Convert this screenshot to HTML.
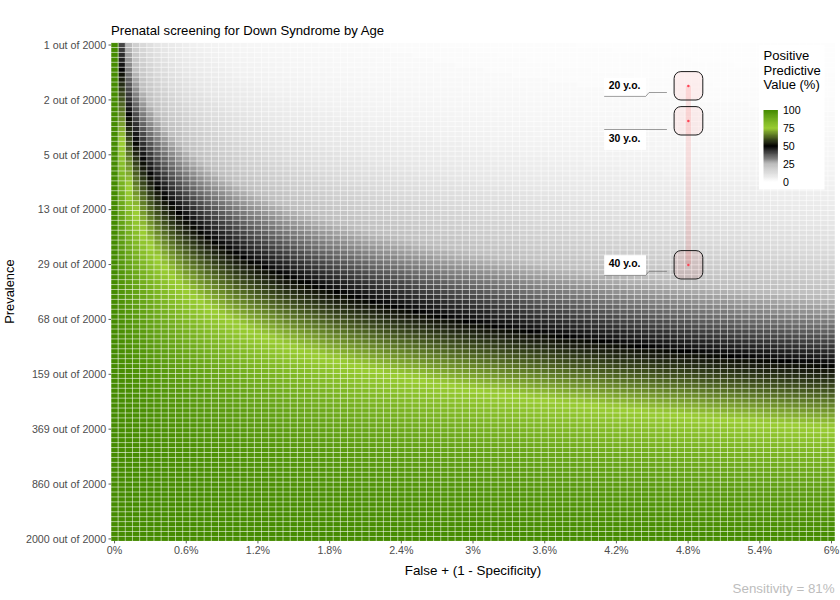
<!DOCTYPE html>
<html><head><meta charset="utf-8"><title>Prenatal screening for Down Syndrome by Age</title>
<style>
html,body{margin:0;padding:0;background:#fff;}
body{width:840px;height:600px;overflow:hidden;}
svg{display:block;font-family:"Liberation Sans",sans-serif;}
</style></head><body>
<svg width="840" height="600" viewBox="0 0 840 600">
<rect width="840" height="600" fill="#fff"/>
<clipPath id="cp"><rect x="111" y="42.8" width="724" height="498.2"/></clipPath>
<g clip-path="url(#cp)">
<g transform="translate(110.97,42.56) scale(7.1695,4.9390)"><path fill="#fdfdfd" d="M65 0h36.05v1.06h-36.05zM70 1h31.05v1.06h-31.05zM75 2h26.05v1.06h-26.05zM81 3h20.05v1.06h-20.05zM87 4h14.05v1.06h-14.05zM94 5h7.05v1.06h-7.05z"/><path fill="#fcfcfc" d="M46 0h19.05v1.06h-19.05zM50 1h20.05v1.06h-20.05zM54 2h21.05v1.06h-21.05zM58 3h23.05v1.06h-23.05zM62 4h25.05v1.06h-25.05zM67 5h27.05v1.06h-27.05zM73 6h28.05v1.06h-28.05zM78 7h23.05v1.06h-23.05zM84 8h17.05v1.06h-17.05zM91 9h10.05v1.06h-10.05zM98 10h3.05v1.06h-3.05z"/><path fill="#fbfbfb" d="M36 0h10.05v1.06h-10.05zM39 1h11.05v1.06h-11.05zM42 2h12.05v1.06h-12.05zM45 3h13.05v1.06h-13.05zM48 4h14.05v1.06h-14.05zM52 5h15.05v1.06h-15.05zM56 6h17.05v1.06h-17.05zM61 7h17.05v1.06h-17.05zM65 8h19.05v1.06h-19.05zM71 9h20.05v1.06h-20.05zM76 10h22.05v1.06h-22.05zM82 11h19.05v1.06h-19.05zM89 12h12.05v1.06h-12.05zM96 13h5.05v1.06h-5.05z"/><path fill="#f9f9f9" d="M29 0h7.05v1.06h-7.05zM32 1h7.05v1.06h-7.05zM34 2h8.05v1.06h-8.05zM37 3h8.05v1.06h-8.05zM40 4h8.05v1.06h-8.05zM43 5h9.05v1.06h-9.05zM46 6h10.05v1.06h-10.05zM50 7h11.05v1.06h-11.05zM53 8h12.05v1.06h-12.05zM58 9h13.05v1.06h-13.05zM62 10h14.05v1.06h-14.05zM67 11h15.05v1.06h-15.05zM72 12h17.05v1.06h-17.05zM78 13h18.05v1.06h-18.05zM84 14h17.05v1.06h-17.05zM91 15h10.05v1.06h-10.05zM98 16h3.05v1.06h-3.05z"/><path fill="#f8f8f8" d="M25 0h4.05v1.06h-4.05zM27 1h5.05v1.06h-5.05zM29 2h5.05v1.06h-5.05zM31 3h6.05v1.06h-6.05zM33 4h7.05v1.06h-7.05zM36 5h7.05v1.06h-7.05zM39 6h7.05v1.06h-7.05zM42 7h8.05v1.06h-8.05zM45 8h8.05v1.06h-8.05zM49 9h9.05v1.06h-9.05zM52 10h10.05v1.06h-10.05zM57 11h10.05v1.06h-10.05zM61 12h11.05v1.06h-11.05zM66 13h12.05v1.06h-12.05zM71 14h13.05v1.06h-13.05zM76 15h15.05v1.06h-15.05zM82 16h16.05v1.06h-16.05zM89 17h12.05v1.06h-12.05zM96 18h5.05v1.06h-5.05z"/><path fill="#f7f7f7" d="M21 0h4.05v1.06h-4.05zM23 1h4.05v1.06h-4.05zM25 2h4.05v1.06h-4.05zM27 3h4.05v1.06h-4.05zM29 4h4.05v1.06h-4.05zM31 5h5.05v1.06h-5.05zM34 6h5.05v1.06h-5.05zM36 7h6.05v1.06h-6.05zM39 8h6.05v1.06h-6.05zM42 9h7.05v1.06h-7.05zM45 10h7.05v1.06h-7.05zM49 11h8.05v1.06h-8.05zM53 12h8.05v1.06h-8.05zM57 13h9.05v1.06h-9.05zM61 14h10.05v1.06h-10.05zM66 15h10.05v1.06h-10.05zM71 16h11.05v1.06h-11.05zM77 17h12.05v1.06h-12.05zM83 18h13.05v1.06h-13.05zM89 19h12.05v1.06h-12.05zM96 20h5.05v1.06h-5.05z"/><path fill="#f6f6f6" d="M19 0h2.05v1.06h-2.05zM20 1h3.05v1.06h-3.05zM22 2h3.05v1.06h-3.05zM24 3h3.05v1.06h-3.05zM25 4h4.05v1.06h-4.05zM27 5h4.05v1.06h-4.05zM30 6h4.05v1.06h-4.05zM32 7h4.05v1.06h-4.05zM34 8h5.05v1.06h-5.05zM37 9h5.05v1.06h-5.05zM40 10h5.05v1.06h-5.05zM43 11h6.05v1.06h-6.05zM46 12h7.05v1.06h-7.05zM50 13h7.05v1.06h-7.05zM54 14h7.05v1.06h-7.05zM58 15h8.05v1.06h-8.05zM63 16h8.05v1.06h-8.05zM68 17h9.05v1.06h-9.05zM73 18h10.05v1.06h-10.05zM79 19h10.05v1.06h-10.05zM85 20h11.05v1.06h-11.05zM91 21h10.05v1.06h-10.05zM99 22h2.05v1.06h-2.05z"/><path fill="#f5f5f5" d="M17 0h2.05v1.06h-2.05zM18 1h2.05v1.06h-2.05zM20 2h2.05v1.06h-2.05zM21 3h3.05v1.06h-3.05zM23 4h2.05v1.06h-2.05zM24 5h3.05v1.06h-3.05zM26 6h4.05v1.06h-4.05zM28 7h4.05v1.06h-4.05zM31 8h3.05v1.06h-3.05zM33 9h4.05v1.06h-4.05zM36 10h4.05v1.06h-4.05zM38 11h5.05v1.06h-5.05zM41 12h5.05v1.06h-5.05zM45 13h5.05v1.06h-5.05zM48 14h6.05v1.06h-6.05zM52 15h6.05v1.06h-6.05zM56 16h7.05v1.06h-7.05zM60 17h8.05v1.06h-8.05zM65 18h8.05v1.06h-8.05zM70 19h9.05v1.06h-9.05zM76 20h9.05v1.06h-9.05zM82 21h9.05v1.06h-9.05zM88 22h11.05v1.06h-11.05zM95 23h6.05v1.06h-6.05z"/><path fill="#f4f4f4" d="M15 0h2.05v1.06h-2.05zM16 1h2.05v1.06h-2.05zM18 2h2.05v1.06h-2.05zM19 3h2.05v1.06h-2.05zM21 4h2.05v1.06h-2.05zM22 5h2.05v1.06h-2.05zM24 6h2.05v1.06h-2.05zM26 7h2.05v1.06h-2.05zM28 8h3.05v1.06h-3.05zM30 9h3.05v1.06h-3.05zM32 10h4.05v1.06h-4.05zM35 11h3.05v1.06h-3.05zM37 12h4.05v1.06h-4.05zM40 13h5.05v1.06h-5.05zM43 14h5.05v1.06h-5.05zM47 15h5.05v1.06h-5.05zM50 16h6.05v1.06h-6.05zM54 17h6.05v1.06h-6.05zM59 18h6.05v1.06h-6.05zM63 19h7.05v1.06h-7.05zM68 20h8.05v1.06h-8.05zM73 21h9.05v1.06h-9.05zM79 22h9.05v1.06h-9.05zM85 23h10.05v1.06h-10.05zM92 24h9.05v1.06h-9.05zM99 25h2.05v1.06h-2.05z"/><path fill="#f3f3f3" d="M14 0h1.05v1.06h-1.05zM15 1h1.05v1.06h-1.05zM16 2h2.05v1.06h-2.05zM17 3h2.05v1.06h-2.05zM19 4h2.05v1.06h-2.05zM20 5h2.05v1.06h-2.05zM22 6h2.05v1.06h-2.05zM23 7h3.05v1.06h-3.05zM25 8h3.05v1.06h-3.05zM27 9h3.05v1.06h-3.05zM29 10h3.05v1.06h-3.05zM31 11h4.05v1.06h-4.05zM34 12h3.05v1.06h-3.05zM37 13h3.05v1.06h-3.05zM39 14h4.05v1.06h-4.05zM43 15h4.05v1.06h-4.05zM46 16h4.05v1.06h-4.05zM49 17h5.05v1.06h-5.05zM53 18h6.05v1.06h-6.05zM57 19h6.05v1.06h-6.05zM62 20h6.05v1.06h-6.05zM67 21h6.05v1.06h-6.05zM72 22h7.05v1.06h-7.05zM78 23h7.05v1.06h-7.05zM84 24h8.05v1.06h-8.05zM90 25h9.05v1.06h-9.05zM98 26h3.05v1.06h-3.05z"/><path fill="#f2f2f2" d="M13 0h1.05v1.06h-1.05zM14 1h1.05v1.06h-1.05zM15 2h1.05v1.06h-1.05zM16 3h1.05v1.06h-1.05zM17 4h2.05v1.06h-2.05zM18 5h2.05v1.06h-2.05zM20 6h2.05v1.06h-2.05zM21 7h2.05v1.06h-2.05zM23 8h2.05v1.06h-2.05zM25 9h2.05v1.06h-2.05zM27 10h2.05v1.06h-2.05zM29 11h2.05v1.06h-2.05zM31 12h3.05v1.06h-3.05zM34 13h3.05v1.06h-3.05zM36 14h3.05v1.06h-3.05zM39 15h4.05v1.06h-4.05zM42 16h4.05v1.06h-4.05zM45 17h4.05v1.06h-4.05zM49 18h4.05v1.06h-4.05zM53 19h4.05v1.06h-4.05zM57 20h5.05v1.06h-5.05zM61 21h6.05v1.06h-6.05zM66 22h6.05v1.06h-6.05zM71 23h7.05v1.06h-7.05zM77 24h7.05v1.06h-7.05zM83 25h7.05v1.06h-7.05zM89 26h9.05v1.06h-9.05zM97 27h4.05v1.06h-4.05z"/><path fill="#f1f1f1" d="M12 0h1.05v1.06h-1.05zM13 1h1.05v1.06h-1.05zM14 2h1.05v1.06h-1.05zM15 3h1.05v1.06h-1.05zM16 4h1.05v1.06h-1.05zM17 5h1.05v1.06h-1.05zM18 6h2.05v1.06h-2.05zM20 7h1.05v1.06h-1.05zM21 8h2.05v1.06h-2.05zM23 9h2.05v1.06h-2.05zM25 10h2.05v1.06h-2.05zM27 11h2.05v1.06h-2.05zM29 12h2.05v1.06h-2.05zM31 13h3.05v1.06h-3.05zM33 14h3.05v1.06h-3.05zM36 15h3.05v1.06h-3.05zM39 16h3.05v1.06h-3.05zM42 17h3.05v1.06h-3.05zM45 18h4.05v1.06h-4.05zM49 19h4.05v1.06h-4.05zM52 20h5.05v1.06h-5.05zM57 21h4.05v1.06h-4.05zM61 22h5.05v1.06h-5.05zM66 23h5.05v1.06h-5.05zM71 24h6.05v1.06h-6.05zM76 25h7.05v1.06h-7.05zM83 26h6.05v1.06h-6.05zM89 27h8.05v1.06h-8.05zM96 28h5.05v1.06h-5.05z"/><path fill="#f0f0f0" d="M11 0h1.05v1.06h-1.05zM12 1h1.05v1.06h-1.05zM13 2h1.05v1.06h-1.05zM14 3h1.05v1.06h-1.05zM15 4h1.05v1.06h-1.05zM16 5h1.05v1.06h-1.05zM17 6h1.05v1.06h-1.05zM18 7h2.05v1.06h-2.05zM20 8h1.05v1.06h-1.05zM21 9h2.05v1.06h-2.05zM23 10h2.05v1.06h-2.05zM25 11h2.05v1.06h-2.05zM27 12h2.05v1.06h-2.05zM29 13h2.05v1.06h-2.05zM31 14h2.05v1.06h-2.05zM33 15h3.05v1.06h-3.05zM36 16h3.05v1.06h-3.05zM39 17h3.05v1.06h-3.05zM42 18h3.05v1.06h-3.05zM45 19h4.05v1.06h-4.05zM49 20h3.05v1.06h-3.05zM52 21h5.05v1.06h-5.05zM57 22h4.05v1.06h-4.05zM61 23h5.05v1.06h-5.05zM66 24h5.05v1.06h-5.05zM71 25h5.05v1.06h-5.05zM77 26h6.05v1.06h-6.05zM83 27h6.05v1.06h-6.05zM89 28h7.05v1.06h-7.05zM96 29h5.05v1.06h-5.05z"/><path fill="#eeeeee" d="M10 0h1.05v1.06h-1.05zM11 1h1.05v1.06h-1.05zM12 2h1.05v1.06h-1.05zM13 3h1.05v1.06h-1.05zM14 4h1.05v1.06h-1.05zM15 5h1.05v1.06h-1.05zM16 6h1.05v1.06h-1.05zM17 7h1.05v1.06h-1.05zM18 8h2.05v1.06h-2.05zM20 9h1.05v1.06h-1.05zM21 10h2.05v1.06h-2.05zM23 11h2.05v1.06h-2.05zM25 12h2.05v1.06h-2.05zM27 13h2.05v1.06h-2.05zM29 14h2.05v1.06h-2.05zM31 15h2.05v1.06h-2.05zM34 16h2.05v1.06h-2.05zM36 17h3.05v1.06h-3.05zM39 18h3.05v1.06h-3.05zM42 19h3.05v1.06h-3.05zM45 20h4.05v1.06h-4.05zM49 21h3.05v1.06h-3.05zM53 22h4.05v1.06h-4.05zM57 23h4.05v1.06h-4.05zM61 24h5.05v1.06h-5.05zM66 25h5.05v1.06h-5.05zM71 26h6.05v1.06h-6.05zM77 27h6.05v1.06h-6.05zM83 28h6.05v1.06h-6.05zM90 29h6.05v1.06h-6.05zM97 30h4.05v1.06h-4.05z"/><path fill="#ededed" d="M10 1h1.05v1.06h-1.05zM11 2h1.05v1.06h-1.05zM12 3h1.05v1.06h-1.05zM13 4h1.05v1.06h-1.05zM14 5h1.05v1.06h-1.05zM15 6h1.05v1.06h-1.05zM16 7h1.05v1.06h-1.05zM17 8h1.05v1.06h-1.05zM19 9h1.05v1.06h-1.05zM20 10h1.05v1.06h-1.05zM22 11h1.05v1.06h-1.05zM23 12h2.05v1.06h-2.05zM25 13h2.05v1.06h-2.05zM27 14h2.05v1.06h-2.05zM29 15h2.05v1.06h-2.05zM31 16h3.05v1.06h-3.05zM34 17h2.05v1.06h-2.05zM36 18h3.05v1.06h-3.05zM39 19h3.05v1.06h-3.05zM42 20h3.05v1.06h-3.05zM46 21h3.05v1.06h-3.05zM49 22h4.05v1.06h-4.05zM53 23h4.05v1.06h-4.05zM57 24h4.05v1.06h-4.05zM62 25h4.05v1.06h-4.05zM67 26h4.05v1.06h-4.05zM72 27h5.05v1.06h-5.05zM78 28h5.05v1.06h-5.05zM84 29h6.05v1.06h-6.05zM90 30h7.05v1.06h-7.05zM97 31h4.05v1.06h-4.05z"/><path fill="#ececec" d="M9 0h1.05v1.06h-1.05zM10 2h1.05v1.06h-1.05zM11 3h1.05v1.06h-1.05zM12 4h1.05v1.06h-1.05zM13 5h1.05v1.06h-1.05zM14 6h1.05v1.06h-1.05zM15 7h1.05v1.06h-1.05zM16 8h1.05v1.06h-1.05zM18 9h1.05v1.06h-1.05zM19 10h1.05v1.06h-1.05zM20 11h2.05v1.06h-2.05zM22 12h1.05v1.06h-1.05zM24 13h1.05v1.06h-1.05zM25 14h2.05v1.06h-2.05zM27 15h2.05v1.06h-2.05zM30 16h1.05v1.06h-1.05zM32 17h2.05v1.06h-2.05zM34 18h2.05v1.06h-2.05zM37 19h2.05v1.06h-2.05zM40 20h2.05v1.06h-2.05zM43 21h3.05v1.06h-3.05zM46 22h3.05v1.06h-3.05zM50 23h3.05v1.06h-3.05zM54 24h3.05v1.06h-3.05zM58 25h4.05v1.06h-4.05zM63 26h4.05v1.06h-4.05zM68 27h4.05v1.06h-4.05zM73 28h5.05v1.06h-5.05zM79 29h5.05v1.06h-5.05zM85 30h5.05v1.06h-5.05zM92 31h5.05v1.06h-5.05zM99 32h2.05v1.06h-2.05z"/><path fill="#ebebeb" d="M9 1h1.05v1.06h-1.05zM11 4h1.05v1.06h-1.05zM12 5h1.05v1.06h-1.05zM13 6h1.05v1.06h-1.05zM14 7h1.05v1.06h-1.05zM15 8h1.05v1.06h-1.05zM17 9h1.05v1.06h-1.05zM18 10h1.05v1.06h-1.05zM19 11h1.05v1.06h-1.05zM21 12h1.05v1.06h-1.05zM22 13h2.05v1.06h-2.05zM24 14h1.05v1.06h-1.05zM26 15h1.05v1.06h-1.05zM28 16h2.05v1.06h-2.05zM30 17h2.05v1.06h-2.05zM32 18h2.05v1.06h-2.05zM35 19h2.05v1.06h-2.05zM38 20h2.05v1.06h-2.05zM40 21h3.05v1.06h-3.05zM44 22h2.05v1.06h-2.05zM47 23h3.05v1.06h-3.05zM51 24h3.05v1.06h-3.05zM55 25h3.05v1.06h-3.05zM59 26h4.05v1.06h-4.05zM64 27h4.05v1.06h-4.05zM69 28h4.05v1.06h-4.05zM74 29h5.05v1.06h-5.05zM80 30h5.05v1.06h-5.05zM86 31h6.05v1.06h-6.05zM93 32h6.05v1.06h-6.05zM100 33h1.05v1.06h-1.05z"/><path fill="#eaeaea" d="M8 0h1.05v1.06h-1.05zM9 2h1.05v1.06h-1.05zM10 3h1.05v1.06h-1.05zM16 9h1.05v1.06h-1.05zM17 10h1.05v1.06h-1.05zM18 11h1.05v1.06h-1.05zM20 12h1.05v1.06h-1.05zM21 13h1.05v1.06h-1.05zM23 14h1.05v1.06h-1.05zM24 15h2.05v1.06h-2.05zM26 16h2.05v1.06h-2.05zM28 17h2.05v1.06h-2.05zM31 18h1.05v1.06h-1.05zM33 19h2.05v1.06h-2.05zM35 20h3.05v1.06h-3.05zM38 21h2.05v1.06h-2.05zM41 22h3.05v1.06h-3.05zM44 23h3.05v1.06h-3.05zM48 24h3.05v1.06h-3.05zM52 25h3.05v1.06h-3.05zM56 26h3.05v1.06h-3.05zM60 27h4.05v1.06h-4.05zM65 28h4.05v1.06h-4.05zM70 29h4.05v1.06h-4.05zM76 30h4.05v1.06h-4.05zM81 31h5.05v1.06h-5.05zM88 32h5.05v1.06h-5.05zM95 33h5.05v1.06h-5.05z"/><path fill="#e9e9e9" d="M8 1h1.05v1.06h-1.05zM10 4h1.05v1.06h-1.05zM11 5h1.05v1.06h-1.05zM12 6h1.05v1.06h-1.05zM13 7h1.05v1.06h-1.05zM14 8h1.05v1.06h-1.05zM15 9h1.05v1.06h-1.05zM16 10h1.05v1.06h-1.05zM17 11h1.05v1.06h-1.05zM19 12h1.05v1.06h-1.05zM20 13h1.05v1.06h-1.05zM21 14h2.05v1.06h-2.05zM23 15h1.05v1.06h-1.05zM25 16h1.05v1.06h-1.05zM27 17h1.05v1.06h-1.05zM29 18h2.05v1.06h-2.05zM31 19h2.05v1.06h-2.05zM34 20h1.05v1.06h-1.05zM36 21h2.05v1.06h-2.05zM39 22h2.05v1.06h-2.05zM42 23h2.05v1.06h-2.05zM45 24h3.05v1.06h-3.05zM49 25h3.05v1.06h-3.05zM53 26h3.05v1.06h-3.05zM57 27h3.05v1.06h-3.05zM61 28h4.05v1.06h-4.05zM66 29h4.05v1.06h-4.05zM72 30h4.05v1.06h-4.05zM77 31h4.05v1.06h-4.05zM83 32h5.05v1.06h-5.05zM90 33h5.05v1.06h-5.05zM97 34h4.05v1.06h-4.05z"/><path fill="#e8e8e8" d="M7 0h1.05v1.06h-1.05zM8 2h1.05v1.06h-1.05zM9 3h1.05v1.06h-1.05zM11 6h1.05v1.06h-1.05zM12 7h1.05v1.06h-1.05zM13 8h1.05v1.06h-1.05zM14 9h1.05v1.06h-1.05zM15 10h1.05v1.06h-1.05zM16 11h1.05v1.06h-1.05zM18 12h1.05v1.06h-1.05zM19 13h1.05v1.06h-1.05zM20 14h1.05v1.06h-1.05zM22 15h1.05v1.06h-1.05zM24 16h1.05v1.06h-1.05zM26 17h1.05v1.06h-1.05zM27 18h2.05v1.06h-2.05zM30 19h1.05v1.06h-1.05zM32 20h2.05v1.06h-2.05zM34 21h2.05v1.06h-2.05zM37 22h2.05v1.06h-2.05zM40 23h2.05v1.06h-2.05zM43 24h2.05v1.06h-2.05zM47 25h2.05v1.06h-2.05zM50 26h3.05v1.06h-3.05zM54 27h3.05v1.06h-3.05zM58 28h3.05v1.06h-3.05zM63 29h3.05v1.06h-3.05zM68 30h4.05v1.06h-4.05zM73 31h4.05v1.06h-4.05zM79 32h4.05v1.06h-4.05zM85 33h5.05v1.06h-5.05zM92 34h5.05v1.06h-5.05zM99 35h2.05v1.06h-2.05z"/><path fill="#e7e7e7" d="M9 4h1.05v1.06h-1.05zM10 5h1.05v1.06h-1.05zM12 8h1.05v1.06h-1.05zM13 9h1.05v1.06h-1.05zM14 10h1.05v1.06h-1.05zM17 12h1.05v1.06h-1.05zM18 13h1.05v1.06h-1.05zM19 14h1.05v1.06h-1.05zM21 15h1.05v1.06h-1.05zM23 16h1.05v1.06h-1.05zM24 17h2.05v1.06h-2.05zM26 18h1.05v1.06h-1.05zM28 19h2.05v1.06h-2.05zM30 20h2.05v1.06h-2.05zM33 21h1.05v1.06h-1.05zM35 22h2.05v1.06h-2.05zM38 23h2.05v1.06h-2.05zM41 24h2.05v1.06h-2.05zM44 25h3.05v1.06h-3.05zM48 26h2.05v1.06h-2.05zM51 27h3.05v1.06h-3.05zM56 28h2.05v1.06h-2.05zM60 29h3.05v1.06h-3.05zM65 30h3.05v1.06h-3.05zM70 31h3.05v1.06h-3.05zM75 32h4.05v1.06h-4.05zM81 33h4.05v1.06h-4.05zM88 34h4.05v1.06h-4.05zM94 35h5.05v1.06h-5.05z"/><path fill="#e6e6e6" d="M7 1h1.05v1.06h-1.05zM8 3h1.05v1.06h-1.05zM10 6h1.05v1.06h-1.05zM11 7h1.05v1.06h-1.05zM15 11h1.05v1.06h-1.05zM16 12h1.05v1.06h-1.05zM17 13h1.05v1.06h-1.05zM20 15h1.05v1.06h-1.05zM22 16h1.05v1.06h-1.05zM23 17h1.05v1.06h-1.05zM25 18h1.05v1.06h-1.05zM27 19h1.05v1.06h-1.05zM29 20h1.05v1.06h-1.05zM31 21h2.05v1.06h-2.05zM34 22h1.05v1.06h-1.05zM36 23h2.05v1.06h-2.05zM39 24h2.05v1.06h-2.05zM42 25h2.05v1.06h-2.05zM46 26h2.05v1.06h-2.05zM49 27h2.05v1.06h-2.05zM53 28h3.05v1.06h-3.05zM57 29h3.05v1.06h-3.05zM62 30h3.05v1.06h-3.05zM66 31h4.05v1.06h-4.05zM72 32h3.05v1.06h-3.05zM77 33h4.05v1.06h-4.05zM83 34h5.05v1.06h-5.05zM90 35h4.05v1.06h-4.05zM97 36h4.05v1.06h-4.05z"/><path fill="#e5e5e5" d="M6 0h1.05v1.06h-1.05zM7 2h1.05v1.06h-1.05zM9 5h1.05v1.06h-1.05zM11 8h1.05v1.06h-1.05zM12 9h1.05v1.06h-1.05zM13 10h1.05v1.06h-1.05zM14 11h1.05v1.06h-1.05zM15 12h1.05v1.06h-1.05zM16 13h1.05v1.06h-1.05zM18 14h1.05v1.06h-1.05zM19 15h1.05v1.06h-1.05zM21 16h1.05v1.06h-1.05zM22 17h1.05v1.06h-1.05zM24 18h1.05v1.06h-1.05zM26 19h1.05v1.06h-1.05zM28 20h1.05v1.06h-1.05zM30 21h1.05v1.06h-1.05zM32 22h2.05v1.06h-2.05zM35 23h1.05v1.06h-1.05zM37 24h2.05v1.06h-2.05zM40 25h2.05v1.06h-2.05zM43 26h3.05v1.06h-3.05zM47 27h2.05v1.06h-2.05zM51 28h2.05v1.06h-2.05zM55 29h2.05v1.06h-2.05zM59 30h3.05v1.06h-3.05zM63 31h3.05v1.06h-3.05zM68 32h4.05v1.06h-4.05zM74 33h3.05v1.06h-3.05zM80 34h3.05v1.06h-3.05zM86 35h4.05v1.06h-4.05zM93 36h4.05v1.06h-4.05zM100 37h1.05v1.06h-1.05z"/><path fill="#e3e3e3" d="M8 4h1.05v1.06h-1.05zM9 6h1.05v1.06h-1.05zM10 7h1.05v1.06h-1.05zM17 14h1.05v1.06h-1.05zM18 15h1.05v1.06h-1.05zM20 16h1.05v1.06h-1.05zM21 17h1.05v1.06h-1.05zM23 18h1.05v1.06h-1.05zM25 19h1.05v1.06h-1.05zM27 20h1.05v1.06h-1.05zM29 21h1.05v1.06h-1.05zM31 22h1.05v1.06h-1.05zM33 23h2.05v1.06h-2.05zM36 24h1.05v1.06h-1.05zM39 25h1.05v1.06h-1.05zM42 26h1.05v1.06h-1.05zM45 27h2.05v1.06h-2.05zM48 28h3.05v1.06h-3.05zM52 29h3.05v1.06h-3.05zM56 30h3.05v1.06h-3.05zM61 31h2.05v1.06h-2.05zM66 32h2.05v1.06h-2.05zM71 33h3.05v1.06h-3.05zM76 34h4.05v1.06h-4.05zM82 35h4.05v1.06h-4.05zM89 36h4.05v1.06h-4.05zM96 37h4.05v1.06h-4.05z"/><path fill="#e2e2e2" d="M6 1h1.05v1.06h-1.05zM7 3h1.05v1.06h-1.05zM8 5h1.05v1.06h-1.05zM10 8h1.05v1.06h-1.05zM11 9h1.05v1.06h-1.05zM12 10h1.05v1.06h-1.05zM13 11h1.05v1.06h-1.05zM14 12h1.05v1.06h-1.05zM15 13h1.05v1.06h-1.05zM16 14h1.05v1.06h-1.05zM19 16h1.05v1.06h-1.05zM20 17h1.05v1.06h-1.05zM22 18h1.05v1.06h-1.05zM24 19h1.05v1.06h-1.05zM25 20h2.05v1.06h-2.05zM27 21h2.05v1.06h-2.05zM30 22h1.05v1.06h-1.05zM32 23h1.05v1.06h-1.05zM34 24h2.05v1.06h-2.05zM37 25h2.05v1.06h-2.05zM40 26h2.05v1.06h-2.05zM43 27h2.05v1.06h-2.05zM46 28h2.05v1.06h-2.05zM50 29h2.05v1.06h-2.05zM54 30h2.05v1.06h-2.05zM58 31h3.05v1.06h-3.05zM63 32h3.05v1.06h-3.05zM68 33h3.05v1.06h-3.05zM73 34h3.05v1.06h-3.05zM79 35h3.05v1.06h-3.05zM85 36h4.05v1.06h-4.05zM92 37h4.05v1.06h-4.05zM99 38h2.05v1.06h-2.05z"/><path fill="#e1e1e1" d="M9 7h1.05v1.06h-1.05zM17 15h1.05v1.06h-1.05zM18 16h1.05v1.06h-1.05zM21 18h1.05v1.06h-1.05zM23 19h1.05v1.06h-1.05zM24 20h1.05v1.06h-1.05zM26 21h1.05v1.06h-1.05zM28 22h2.05v1.06h-2.05zM31 23h1.05v1.06h-1.05zM33 24h1.05v1.06h-1.05zM35 25h2.05v1.06h-2.05zM38 26h2.05v1.06h-2.05zM41 27h2.05v1.06h-2.05zM44 28h2.05v1.06h-2.05zM48 29h2.05v1.06h-2.05zM52 30h2.05v1.06h-2.05zM56 31h2.05v1.06h-2.05zM60 32h3.05v1.06h-3.05zM65 33h3.05v1.06h-3.05zM70 34h3.05v1.06h-3.05zM76 35h3.05v1.06h-3.05zM82 36h3.05v1.06h-3.05zM88 37h4.05v1.06h-4.05zM95 38h4.05v1.06h-4.05z"/><path fill="#e0e0e0" d="M6 2h1.05v1.06h-1.05zM7 4h1.05v1.06h-1.05zM8 6h1.05v1.06h-1.05zM10 9h1.05v1.06h-1.05zM11 10h1.05v1.06h-1.05zM12 11h1.05v1.06h-1.05zM13 12h1.05v1.06h-1.05zM14 13h1.05v1.06h-1.05zM15 14h1.05v1.06h-1.05zM16 15h1.05v1.06h-1.05zM17 16h1.05v1.06h-1.05zM19 17h1.05v1.06h-1.05zM20 18h1.05v1.06h-1.05zM22 19h1.05v1.06h-1.05zM23 20h1.05v1.06h-1.05zM25 21h1.05v1.06h-1.05zM27 22h1.05v1.06h-1.05zM29 23h2.05v1.06h-2.05zM32 24h1.05v1.06h-1.05zM34 25h1.05v1.06h-1.05zM37 26h1.05v1.06h-1.05zM40 27h1.05v1.06h-1.05zM43 28h1.05v1.06h-1.05zM46 29h2.05v1.06h-2.05zM50 30h2.05v1.06h-2.05zM54 31h2.05v1.06h-2.05zM58 32h2.05v1.06h-2.05zM62 33h3.05v1.06h-3.05zM67 34h3.05v1.06h-3.05zM73 35h3.05v1.06h-3.05zM78 36h4.05v1.06h-4.05zM85 37h3.05v1.06h-3.05zM91 38h4.05v1.06h-4.05zM99 39h2.05v1.06h-2.05z"/><path fill="#dfdfdf" d="M5 0h1.05v1.06h-1.05zM9 8h1.05v1.06h-1.05zM13 13h1.05v1.06h-1.05zM14 14h1.05v1.06h-1.05zM18 17h1.05v1.06h-1.05zM19 18h1.05v1.06h-1.05zM21 19h1.05v1.06h-1.05zM24 21h1.05v1.06h-1.05zM26 22h1.05v1.06h-1.05zM28 23h1.05v1.06h-1.05zM30 24h2.05v1.06h-2.05zM33 25h1.05v1.06h-1.05zM35 26h2.05v1.06h-2.05zM38 27h2.05v1.06h-2.05zM41 28h2.05v1.06h-2.05zM44 29h2.05v1.06h-2.05zM48 30h2.05v1.06h-2.05zM52 31h2.05v1.06h-2.05zM56 32h2.05v1.06h-2.05zM60 33h2.05v1.06h-2.05zM65 34h2.05v1.06h-2.05zM70 35h3.05v1.06h-3.05zM75 36h3.05v1.06h-3.05zM81 37h4.05v1.06h-4.05zM88 38h3.05v1.06h-3.05zM95 39h4.05v1.06h-4.05z"/><path fill="#dedede" d="M6 3h1.05v1.06h-1.05zM7 5h1.05v1.06h-1.05zM8 7h1.05v1.06h-1.05zM10 10h1.05v1.06h-1.05zM11 11h1.05v1.06h-1.05zM12 12h1.05v1.06h-1.05zM15 15h1.05v1.06h-1.05zM16 16h1.05v1.06h-1.05zM17 17h1.05v1.06h-1.05zM20 19h1.05v1.06h-1.05zM22 20h1.05v1.06h-1.05zM23 21h1.05v1.06h-1.05zM25 22h1.05v1.06h-1.05zM27 23h1.05v1.06h-1.05zM29 24h1.05v1.06h-1.05zM32 25h1.05v1.06h-1.05zM34 26h1.05v1.06h-1.05zM37 27h1.05v1.06h-1.05zM40 28h1.05v1.06h-1.05zM43 29h1.05v1.06h-1.05zM46 30h2.05v1.06h-2.05zM50 31h2.05v1.06h-2.05zM54 32h2.05v1.06h-2.05zM58 33h2.05v1.06h-2.05zM62 34h3.05v1.06h-3.05zM67 35h3.05v1.06h-3.05zM73 36h2.05v1.06h-2.05zM78 37h3.05v1.06h-3.05zM85 38h3.05v1.06h-3.05zM91 39h4.05v1.06h-4.05zM98 40h3.05v1.06h-3.05z"/><path fill="#dddddd" d="M5 1h1.05v1.06h-1.05zM9 9h1.05v1.06h-1.05zM13 14h1.05v1.06h-1.05zM14 15h1.05v1.06h-1.05zM18 18h1.05v1.06h-1.05zM19 19h1.05v1.06h-1.05zM21 20h1.05v1.06h-1.05zM24 22h1.05v1.06h-1.05zM26 23h1.05v1.06h-1.05zM28 24h1.05v1.06h-1.05zM30 25h2.05v1.06h-2.05zM33 26h1.05v1.06h-1.05zM35 27h2.05v1.06h-2.05zM38 28h2.05v1.06h-2.05zM41 29h2.05v1.06h-2.05zM44 30h2.05v1.06h-2.05zM48 31h2.05v1.06h-2.05zM52 32h2.05v1.06h-2.05zM56 33h2.05v1.06h-2.05zM60 34h2.05v1.06h-2.05zM65 35h2.05v1.06h-2.05zM70 36h3.05v1.06h-3.05zM76 37h2.05v1.06h-2.05zM81 38h4.05v1.06h-4.05zM88 39h3.05v1.06h-3.05zM95 40h3.05v1.06h-3.05z"/><path fill="#dcdcdc" d="M6 4h1.05v1.06h-1.05zM7 6h1.05v1.06h-1.05zM8 8h1.05v1.06h-1.05zM10 11h1.05v1.06h-1.05zM11 12h1.05v1.06h-1.05zM12 13h1.05v1.06h-1.05zM15 16h1.05v1.06h-1.05zM16 17h1.05v1.06h-1.05zM17 18h1.05v1.06h-1.05zM20 20h1.05v1.06h-1.05zM22 21h1.05v1.06h-1.05zM25 23h1.05v1.06h-1.05zM27 24h1.05v1.06h-1.05zM29 25h1.05v1.06h-1.05zM32 26h1.05v1.06h-1.05zM34 27h1.05v1.06h-1.05zM37 28h1.05v1.06h-1.05zM40 29h1.05v1.06h-1.05zM43 30h1.05v1.06h-1.05zM46 31h2.05v1.06h-2.05zM50 32h2.05v1.06h-2.05zM54 33h2.05v1.06h-2.05zM58 34h2.05v1.06h-2.05zM63 35h2.05v1.06h-2.05zM68 36h2.05v1.06h-2.05zM73 37h3.05v1.06h-3.05zM79 38h2.05v1.06h-2.05zM85 39h3.05v1.06h-3.05zM92 40h3.05v1.06h-3.05zM99 41h2.05v1.06h-2.05z"/><path fill="#dbdbdb" d="M5 2h1.05v1.06h-1.05zM9 10h1.05v1.06h-1.05zM18 19h1.05v1.06h-1.05zM21 21h1.05v1.06h-1.05zM23 22h1.05v1.06h-1.05zM24 23h1.05v1.06h-1.05zM26 24h1.05v1.06h-1.05zM28 25h1.05v1.06h-1.05zM31 26h1.05v1.06h-1.05zM33 27h1.05v1.06h-1.05zM36 28h1.05v1.06h-1.05zM38 29h2.05v1.06h-2.05zM41 30h2.05v1.06h-2.05zM45 31h1.05v1.06h-1.05zM48 32h2.05v1.06h-2.05zM52 33h2.05v1.06h-2.05zM56 34h2.05v1.06h-2.05zM60 35h3.05v1.06h-3.05zM65 36h3.05v1.06h-3.05zM70 37h3.05v1.06h-3.05zM76 38h3.05v1.06h-3.05zM82 39h3.05v1.06h-3.05zM88 40h4.05v1.06h-4.05zM95 41h4.05v1.06h-4.05z"/><path fill="#dadada" d="M6 5h1.05v1.06h-1.05zM7 7h1.05v1.06h-1.05zM8 9h1.05v1.06h-1.05zM11 13h1.05v1.06h-1.05zM12 14h1.05v1.06h-1.05zM13 15h1.05v1.06h-1.05zM14 16h1.05v1.06h-1.05zM15 17h1.05v1.06h-1.05zM16 18h1.05v1.06h-1.05zM19 20h1.05v1.06h-1.05zM20 21h1.05v1.06h-1.05zM22 22h1.05v1.06h-1.05zM25 24h1.05v1.06h-1.05zM27 25h1.05v1.06h-1.05zM30 26h1.05v1.06h-1.05zM32 27h1.05v1.06h-1.05zM34 28h2.05v1.06h-2.05zM37 29h1.05v1.06h-1.05zM40 30h1.05v1.06h-1.05zM43 31h2.05v1.06h-2.05zM47 32h1.05v1.06h-1.05zM50 33h2.05v1.06h-2.05zM54 34h2.05v1.06h-2.05zM58 35h2.05v1.06h-2.05zM63 36h2.05v1.06h-2.05zM68 37h2.05v1.06h-2.05zM73 38h3.05v1.06h-3.05zM79 39h3.05v1.06h-3.05zM85 40h3.05v1.06h-3.05zM92 41h3.05v1.06h-3.05zM100 42h1.05v1.06h-1.05z"/><path fill="#d9d9d9" d="M4 0h1.05v1.06h-1.05zM5 3h1.05v1.06h-1.05zM9 11h1.05v1.06h-1.05zM10 12h1.05v1.06h-1.05zM17 19h1.05v1.06h-1.05zM18 20h1.05v1.06h-1.05zM21 22h1.05v1.06h-1.05zM23 23h1.05v1.06h-1.05zM29 26h1.05v1.06h-1.05zM31 27h1.05v1.06h-1.05zM33 28h1.05v1.06h-1.05zM36 29h1.05v1.06h-1.05zM39 30h1.05v1.06h-1.05zM42 31h1.05v1.06h-1.05zM45 32h2.05v1.06h-2.05zM49 33h1.05v1.06h-1.05zM52 34h2.05v1.06h-2.05zM57 35h1.05v1.06h-1.05zM61 36h2.05v1.06h-2.05zM66 37h2.05v1.06h-2.05zM71 38h2.05v1.06h-2.05zM77 39h2.05v1.06h-2.05zM83 40h2.05v1.06h-2.05zM89 41h3.05v1.06h-3.05zM96 42h4.05v1.06h-4.05z"/><path fill="#d8d8d8" d="M6 6h1.05v1.06h-1.05zM7 8h1.05v1.06h-1.05zM11 14h1.05v1.06h-1.05zM12 15h1.05v1.06h-1.05zM13 16h1.05v1.06h-1.05zM14 17h1.05v1.06h-1.05zM15 18h1.05v1.06h-1.05zM16 19h1.05v1.06h-1.05zM19 21h1.05v1.06h-1.05zM22 23h1.05v1.06h-1.05zM24 24h1.05v1.06h-1.05zM26 25h1.05v1.06h-1.05zM28 26h1.05v1.06h-1.05zM30 27h1.05v1.06h-1.05zM32 28h1.05v1.06h-1.05zM35 29h1.05v1.06h-1.05zM37 30h2.05v1.06h-2.05zM40 31h2.05v1.06h-2.05zM44 32h1.05v1.06h-1.05zM47 33h2.05v1.06h-2.05zM51 34h1.05v1.06h-1.05zM55 35h2.05v1.06h-2.05zM59 36h2.05v1.06h-2.05zM64 37h2.05v1.06h-2.05zM69 38h2.05v1.06h-2.05zM74 39h3.05v1.06h-3.05zM80 40h3.05v1.06h-3.05zM86 41h3.05v1.06h-3.05zM93 42h3.05v1.06h-3.05z"/><path fill="#d6d6d6" d="M4 1h1.05v1.06h-1.05zM5 4h1.05v1.06h-1.05zM8 10h1.05v1.06h-1.05zM10 13h1.05v1.06h-1.05zM17 20h1.05v1.06h-1.05zM20 22h1.05v1.06h-1.05zM21 23h1.05v1.06h-1.05zM23 24h1.05v1.06h-1.05zM25 25h1.05v1.06h-1.05zM27 26h1.05v1.06h-1.05zM29 27h1.05v1.06h-1.05zM31 28h1.05v1.06h-1.05zM34 29h1.05v1.06h-1.05zM36 30h1.05v1.06h-1.05zM39 31h1.05v1.06h-1.05zM42 32h2.05v1.06h-2.05zM46 33h1.05v1.06h-1.05zM49 34h2.05v1.06h-2.05zM53 35h2.05v1.06h-2.05zM57 36h2.05v1.06h-2.05zM62 37h2.05v1.06h-2.05zM67 38h2.05v1.06h-2.05zM72 39h2.05v1.06h-2.05zM78 40h2.05v1.06h-2.05zM84 41h2.05v1.06h-2.05zM90 42h3.05v1.06h-3.05zM98 43h3.05v1.06h-3.05z"/><path fill="#d5d5d5" d="M9 12h1.05v1.06h-1.05zM12 16h1.05v1.06h-1.05zM13 17h1.05v1.06h-1.05zM14 18h1.05v1.06h-1.05zM18 21h1.05v1.06h-1.05zM19 22h1.05v1.06h-1.05zM22 24h1.05v1.06h-1.05zM24 25h1.05v1.06h-1.05zM26 26h1.05v1.06h-1.05zM28 27h1.05v1.06h-1.05zM30 28h1.05v1.06h-1.05zM33 29h1.05v1.06h-1.05zM35 30h1.05v1.06h-1.05zM38 31h1.05v1.06h-1.05zM41 32h1.05v1.06h-1.05zM44 33h2.05v1.06h-2.05zM48 34h1.05v1.06h-1.05zM51 35h2.05v1.06h-2.05zM55 36h2.05v1.06h-2.05zM60 37h2.05v1.06h-2.05zM65 38h2.05v1.06h-2.05zM70 39h2.05v1.06h-2.05zM75 40h3.05v1.06h-3.05zM81 41h3.05v1.06h-3.05zM88 42h2.05v1.06h-2.05zM95 43h3.05v1.06h-3.05z"/><path fill="#d4d4d4" d="M4 2h1.05v1.06h-1.05zM6 7h1.05v1.06h-1.05zM7 9h1.05v1.06h-1.05zM8 11h1.05v1.06h-1.05zM10 14h1.05v1.06h-1.05zM11 15h1.05v1.06h-1.05zM15 19h1.05v1.06h-1.05zM16 20h1.05v1.06h-1.05zM17 21h1.05v1.06h-1.05zM20 23h1.05v1.06h-1.05zM23 25h1.05v1.06h-1.05zM25 26h1.05v1.06h-1.05zM27 27h1.05v1.06h-1.05zM29 28h1.05v1.06h-1.05zM32 29h1.05v1.06h-1.05zM34 30h1.05v1.06h-1.05zM37 31h1.05v1.06h-1.05zM40 32h1.05v1.06h-1.05zM43 33h1.05v1.06h-1.05zM46 34h2.05v1.06h-2.05zM50 35h1.05v1.06h-1.05zM54 36h1.05v1.06h-1.05zM58 37h2.05v1.06h-2.05zM63 38h2.05v1.06h-2.05zM68 39h2.05v1.06h-2.05zM73 40h2.05v1.06h-2.05zM79 41h2.05v1.06h-2.05zM85 42h3.05v1.06h-3.05zM92 43h3.05v1.06h-3.05zM99 44h2.05v1.06h-2.05z"/><path fill="#d3d3d3" d="M5 5h1.05v1.06h-1.05zM9 13h1.05v1.06h-1.05zM18 22h1.05v1.06h-1.05zM21 24h1.05v1.06h-1.05zM26 27h1.05v1.06h-1.05zM31 29h1.05v1.06h-1.05zM33 30h1.05v1.06h-1.05zM36 31h1.05v1.06h-1.05zM39 32h1.05v1.06h-1.05zM42 33h1.05v1.06h-1.05zM45 34h1.05v1.06h-1.05zM48 35h2.05v1.06h-2.05zM52 36h2.05v1.06h-2.05zM56 37h2.05v1.06h-2.05zM61 38h2.05v1.06h-2.05zM66 39h2.05v1.06h-2.05zM71 40h2.05v1.06h-2.05zM76 41h3.05v1.06h-3.05zM82 42h3.05v1.06h-3.05zM89 43h3.05v1.06h-3.05zM96 44h3.05v1.06h-3.05z"/><path fill="#d2d2d2" d="M6 8h1.05v1.06h-1.05zM7 10h1.05v1.06h-1.05zM11 16h1.05v1.06h-1.05zM12 17h1.05v1.06h-1.05zM13 18h1.05v1.06h-1.05zM14 19h1.05v1.06h-1.05zM15 20h1.05v1.06h-1.05zM16 21h1.05v1.06h-1.05zM19 23h1.05v1.06h-1.05zM22 25h1.05v1.06h-1.05zM24 26h1.05v1.06h-1.05zM28 28h1.05v1.06h-1.05zM30 29h1.05v1.06h-1.05zM32 30h1.05v1.06h-1.05zM35 31h1.05v1.06h-1.05zM37 32h2.05v1.06h-2.05zM40 33h2.05v1.06h-2.05zM44 34h1.05v1.06h-1.05zM47 35h1.05v1.06h-1.05zM51 36h1.05v1.06h-1.05zM55 37h1.05v1.06h-1.05zM59 38h2.05v1.06h-2.05zM64 39h2.05v1.06h-2.05zM69 40h2.05v1.06h-2.05zM74 41h2.05v1.06h-2.05zM80 42h2.05v1.06h-2.05zM86 43h3.05v1.06h-3.05zM93 44h3.05v1.06h-3.05z"/><path fill="#d1d1d1" d="M4 3h1.05v1.06h-1.05zM5 6h1.05v1.06h-1.05zM8 12h1.05v1.06h-1.05zM10 15h1.05v1.06h-1.05zM17 22h1.05v1.06h-1.05zM20 24h1.05v1.06h-1.05zM23 26h1.05v1.06h-1.05zM25 27h1.05v1.06h-1.05zM27 28h1.05v1.06h-1.05zM29 29h1.05v1.06h-1.05zM31 30h1.05v1.06h-1.05zM34 31h1.05v1.06h-1.05zM36 32h1.05v1.06h-1.05zM39 33h1.05v1.06h-1.05zM42 34h2.05v1.06h-2.05zM46 35h1.05v1.06h-1.05zM49 36h2.05v1.06h-2.05zM53 37h2.05v1.06h-2.05zM57 38h2.05v1.06h-2.05zM62 39h2.05v1.06h-2.05zM67 40h2.05v1.06h-2.05zM72 41h2.05v1.06h-2.05zM78 42h2.05v1.06h-2.05zM84 43h2.05v1.06h-2.05zM91 44h2.05v1.06h-2.05zM98 45h3.05v1.06h-3.05z"/><path fill="#d0d0d0" d="M9 14h1.05v1.06h-1.05zM13 19h1.05v1.06h-1.05zM14 20h1.05v1.06h-1.05zM18 23h1.05v1.06h-1.05zM19 24h1.05v1.06h-1.05zM21 25h1.05v1.06h-1.05zM24 27h1.05v1.06h-1.05zM26 28h1.05v1.06h-1.05zM28 29h1.05v1.06h-1.05zM30 30h1.05v1.06h-1.05zM33 31h1.05v1.06h-1.05zM35 32h1.05v1.06h-1.05zM38 33h1.05v1.06h-1.05zM41 34h1.05v1.06h-1.05zM44 35h2.05v1.06h-2.05zM48 36h1.05v1.06h-1.05zM52 37h1.05v1.06h-1.05zM56 38h1.05v1.06h-1.05zM60 39h2.05v1.06h-2.05zM65 40h2.05v1.06h-2.05zM70 41h2.05v1.06h-2.05zM76 42h2.05v1.06h-2.05zM82 43h2.05v1.06h-2.05zM88 44h3.05v1.06h-3.05zM95 45h3.05v1.06h-3.05z"/><path fill="#cfcfcf" d="M3 0h1.05v1.06h-1.05zM6 9h1.05v1.06h-1.05zM7 11h1.05v1.06h-1.05zM8 13h1.05v1.06h-1.05zM11 17h1.05v1.06h-1.05zM12 18h1.05v1.06h-1.05zM15 21h1.05v1.06h-1.05zM16 22h1.05v1.06h-1.05zM20 25h1.05v1.06h-1.05zM22 26h1.05v1.06h-1.05zM27 29h1.05v1.06h-1.05zM32 31h1.05v1.06h-1.05zM34 32h1.05v1.06h-1.05zM37 33h1.05v1.06h-1.05zM40 34h1.05v1.06h-1.05zM43 35h1.05v1.06h-1.05zM47 36h1.05v1.06h-1.05zM50 37h2.05v1.06h-2.05zM54 38h2.05v1.06h-2.05zM59 39h1.05v1.06h-1.05zM63 40h2.05v1.06h-2.05zM68 41h2.05v1.06h-2.05zM74 42h2.05v1.06h-2.05zM79 43h3.05v1.06h-3.05zM86 44h2.05v1.06h-2.05zM93 45h2.05v1.06h-2.05zM100 46h1.05v1.06h-1.05z"/><path fill="#cecece" d="M4 4h1.05v1.06h-1.05zM5 7h1.05v1.06h-1.05zM10 16h1.05v1.06h-1.05zM17 23h1.05v1.06h-1.05zM18 24h1.05v1.06h-1.05zM21 26h1.05v1.06h-1.05zM23 27h1.05v1.06h-1.05zM25 28h1.05v1.06h-1.05zM29 30h1.05v1.06h-1.05zM31 31h1.05v1.06h-1.05zM36 33h1.05v1.06h-1.05zM39 34h1.05v1.06h-1.05zM42 35h1.05v1.06h-1.05zM45 36h2.05v1.06h-2.05zM49 37h1.05v1.06h-1.05zM53 38h1.05v1.06h-1.05zM57 39h2.05v1.06h-2.05zM61 40h2.05v1.06h-2.05zM66 41h2.05v1.06h-2.05zM72 42h2.05v1.06h-2.05zM77 43h2.05v1.06h-2.05zM83 44h3.05v1.06h-3.05zM90 45h3.05v1.06h-3.05zM97 46h3.05v1.06h-3.05z"/><path fill="#cdcdcd" d="M9 15h1.05v1.06h-1.05zM12 19h1.05v1.06h-1.05zM13 20h1.05v1.06h-1.05zM14 21h1.05v1.06h-1.05zM15 22h1.05v1.06h-1.05zM19 25h1.05v1.06h-1.05zM22 27h1.05v1.06h-1.05zM24 28h1.05v1.06h-1.05zM26 29h1.05v1.06h-1.05zM28 30h1.05v1.06h-1.05zM30 31h1.05v1.06h-1.05zM33 32h1.05v1.06h-1.05zM35 33h1.05v1.06h-1.05zM38 34h1.05v1.06h-1.05zM41 35h1.05v1.06h-1.05zM44 36h1.05v1.06h-1.05zM48 37h1.05v1.06h-1.05zM51 38h2.05v1.06h-2.05zM55 39h2.05v1.06h-2.05zM60 40h1.05v1.06h-1.05zM65 41h1.05v1.06h-1.05zM70 42h2.05v1.06h-2.05zM75 43h2.05v1.06h-2.05zM81 44h2.05v1.06h-2.05zM88 45h2.05v1.06h-2.05zM95 46h2.05v1.06h-2.05z"/><path fill="#cccccc" d="M3 1h1.05v1.06h-1.05zM6 10h1.05v1.06h-1.05zM7 12h1.05v1.06h-1.05zM8 14h1.05v1.06h-1.05zM10 17h1.05v1.06h-1.05zM11 18h1.05v1.06h-1.05zM16 23h1.05v1.06h-1.05zM20 26h1.05v1.06h-1.05zM25 29h1.05v1.06h-1.05zM27 30h1.05v1.06h-1.05zM32 32h1.05v1.06h-1.05zM34 33h1.05v1.06h-1.05zM37 34h1.05v1.06h-1.05zM40 35h1.05v1.06h-1.05zM43 36h1.05v1.06h-1.05zM46 37h2.05v1.06h-2.05zM50 38h1.05v1.06h-1.05zM54 39h1.05v1.06h-1.05zM58 40h2.05v1.06h-2.05zM63 41h2.05v1.06h-2.05zM68 42h2.05v1.06h-2.05zM73 43h2.05v1.06h-2.05zM79 44h2.05v1.06h-2.05zM85 45h3.05v1.06h-3.05zM92 46h3.05v1.06h-3.05zM100 47h1.05v1.06h-1.05z"/><path fill="#cbcbcb" d="M4 5h1.05v1.06h-1.05zM5 8h1.05v1.06h-1.05zM17 24h1.05v1.06h-1.05zM18 25h1.05v1.06h-1.05zM21 27h1.05v1.06h-1.05zM23 28h1.05v1.06h-1.05zM29 31h1.05v1.06h-1.05zM31 32h1.05v1.06h-1.05zM33 33h1.05v1.06h-1.05zM36 34h1.05v1.06h-1.05zM39 35h1.05v1.06h-1.05zM42 36h1.05v1.06h-1.05zM45 37h1.05v1.06h-1.05zM49 38h1.05v1.06h-1.05zM53 39h1.05v1.06h-1.05zM57 40h1.05v1.06h-1.05zM61 41h2.05v1.06h-2.05zM66 42h2.05v1.06h-2.05zM71 43h2.05v1.06h-2.05zM77 44h2.05v1.06h-2.05zM83 45h2.05v1.06h-2.05zM90 46h2.05v1.06h-2.05zM97 47h3.05v1.06h-3.05z"/><path fill="#cacaca" d="M7 13h1.05v1.06h-1.05zM9 16h1.05v1.06h-1.05zM12 20h1.05v1.06h-1.05zM13 21h1.05v1.06h-1.05zM14 22h1.05v1.06h-1.05zM15 23h1.05v1.06h-1.05zM19 26h1.05v1.06h-1.05zM22 28h1.05v1.06h-1.05zM24 29h1.05v1.06h-1.05zM26 30h1.05v1.06h-1.05zM28 31h1.05v1.06h-1.05zM30 32h1.05v1.06h-1.05zM35 34h1.05v1.06h-1.05zM38 35h1.05v1.06h-1.05zM41 36h1.05v1.06h-1.05zM44 37h1.05v1.06h-1.05zM48 38h1.05v1.06h-1.05zM51 39h2.05v1.06h-2.05zM55 40h2.05v1.06h-2.05zM60 41h1.05v1.06h-1.05zM65 42h1.05v1.06h-1.05zM70 43h1.05v1.06h-1.05zM75 44h2.05v1.06h-2.05zM81 45h2.05v1.06h-2.05zM88 46h2.05v1.06h-2.05zM95 47h2.05v1.06h-2.05z"/><path fill="#c9c9c9" d="M3 2h1.05v1.06h-1.05zM4 6h1.05v1.06h-1.05zM6 11h1.05v1.06h-1.05zM8 15h1.05v1.06h-1.05zM10 18h1.05v1.06h-1.05zM11 19h1.05v1.06h-1.05zM16 24h1.05v1.06h-1.05zM17 25h1.05v1.06h-1.05zM20 27h1.05v1.06h-1.05zM25 30h1.05v1.06h-1.05zM27 31h1.05v1.06h-1.05zM32 33h1.05v1.06h-1.05zM34 34h1.05v1.06h-1.05zM37 35h1.05v1.06h-1.05zM40 36h1.05v1.06h-1.05zM43 37h1.05v1.06h-1.05zM46 38h2.05v1.06h-2.05zM50 39h1.05v1.06h-1.05zM54 40h1.05v1.06h-1.05zM58 41h2.05v1.06h-2.05zM63 42h2.05v1.06h-2.05zM68 43h2.05v1.06h-2.05zM73 44h2.05v1.06h-2.05zM79 45h2.05v1.06h-2.05zM85 46h3.05v1.06h-3.05zM92 47h3.05v1.06h-3.05zM100 48h1.05v1.06h-1.05z"/><path fill="#c8c8c8" d="M5 9h1.05v1.06h-1.05zM18 26h1.05v1.06h-1.05zM21 28h1.05v1.06h-1.05zM23 29h1.05v1.06h-1.05zM29 32h1.05v1.06h-1.05zM31 33h1.05v1.06h-1.05zM33 34h1.05v1.06h-1.05zM36 35h1.05v1.06h-1.05zM39 36h1.05v1.06h-1.05zM42 37h1.05v1.06h-1.05zM45 38h1.05v1.06h-1.05zM49 39h1.05v1.06h-1.05zM53 40h1.05v1.06h-1.05zM57 41h1.05v1.06h-1.05zM61 42h2.05v1.06h-2.05zM66 43h2.05v1.06h-2.05zM72 44h1.05v1.06h-1.05zM77 45h2.05v1.06h-2.05zM83 46h2.05v1.06h-2.05zM90 47h2.05v1.06h-2.05zM97 48h3.05v1.06h-3.05z"/><path fill="#c6c6c6" d="M7 14h1.05v1.06h-1.05zM9 17h1.05v1.06h-1.05zM12 21h1.05v1.06h-1.05zM13 22h1.05v1.06h-1.05zM14 23h1.05v1.06h-1.05zM15 24h1.05v1.06h-1.05zM19 27h1.05v1.06h-1.05zM22 29h1.05v1.06h-1.05zM24 30h1.05v1.06h-1.05zM26 31h1.05v1.06h-1.05zM28 32h1.05v1.06h-1.05zM30 33h1.05v1.06h-1.05zM35 35h1.05v1.06h-1.05zM38 36h1.05v1.06h-1.05zM41 37h1.05v1.06h-1.05zM44 38h1.05v1.06h-1.05zM48 39h1.05v1.06h-1.05zM51 40h2.05v1.06h-2.05zM56 41h1.05v1.06h-1.05zM60 42h1.05v1.06h-1.05zM65 43h1.05v1.06h-1.05zM70 44h2.05v1.06h-2.05zM75 45h2.05v1.06h-2.05zM81 46h2.05v1.06h-2.05zM88 47h2.05v1.06h-2.05zM95 48h2.05v1.06h-2.05z"/><path fill="#c5c5c5" d="M3 3h1.05v1.06h-1.05zM6 12h1.05v1.06h-1.05zM8 16h1.05v1.06h-1.05zM10 19h1.05v1.06h-1.05zM11 20h1.05v1.06h-1.05zM16 25h1.05v1.06h-1.05zM20 28h1.05v1.06h-1.05zM25 31h1.05v1.06h-1.05zM27 32h1.05v1.06h-1.05zM32 34h1.05v1.06h-1.05zM34 35h1.05v1.06h-1.05zM37 36h1.05v1.06h-1.05zM40 37h1.05v1.06h-1.05zM43 38h1.05v1.06h-1.05zM47 39h1.05v1.06h-1.05zM50 40h1.05v1.06h-1.05zM54 41h2.05v1.06h-2.05zM58 42h2.05v1.06h-2.05zM63 43h2.05v1.06h-2.05zM68 44h2.05v1.06h-2.05zM74 45h1.05v1.06h-1.05zM79 46h2.05v1.06h-2.05zM86 47h2.05v1.06h-2.05zM93 48h2.05v1.06h-2.05zM100 49h1.05v1.06h-1.05z"/><path fill="#c4c4c4" d="M4 7h1.05v1.06h-1.05zM5 10h1.05v1.06h-1.05zM17 26h1.05v1.06h-1.05zM18 27h1.05v1.06h-1.05zM21 29h1.05v1.06h-1.05zM23 30h1.05v1.06h-1.05zM29 33h1.05v1.06h-1.05zM31 34h1.05v1.06h-1.05zM36 36h1.05v1.06h-1.05zM39 37h1.05v1.06h-1.05zM42 38h1.05v1.06h-1.05zM45 39h2.05v1.06h-2.05zM49 40h1.05v1.06h-1.05zM53 41h1.05v1.06h-1.05zM57 42h1.05v1.06h-1.05zM62 43h1.05v1.06h-1.05zM67 44h1.05v1.06h-1.05zM72 45h2.05v1.06h-2.05zM78 46h1.05v1.06h-1.05zM84 47h2.05v1.06h-2.05zM90 48h3.05v1.06h-3.05zM98 49h2.05v1.06h-2.05z"/><path fill="#c3c3c3" d="M9 18h1.05v1.06h-1.05zM12 22h1.05v1.06h-1.05zM13 23h1.05v1.06h-1.05zM14 24h1.05v1.06h-1.05zM19 28h1.05v1.06h-1.05zM24 31h1.05v1.06h-1.05zM26 32h1.05v1.06h-1.05zM28 33h1.05v1.06h-1.05zM30 34h1.05v1.06h-1.05zM33 35h1.05v1.06h-1.05zM35 36h1.05v1.06h-1.05zM38 37h1.05v1.06h-1.05zM41 38h1.05v1.06h-1.05zM44 39h1.05v1.06h-1.05zM48 40h1.05v1.06h-1.05zM52 41h1.05v1.06h-1.05zM56 42h1.05v1.06h-1.05zM60 43h2.05v1.06h-2.05zM65 44h2.05v1.06h-2.05zM70 45h2.05v1.06h-2.05zM76 46h2.05v1.06h-2.05zM82 47h2.05v1.06h-2.05zM88 48h2.05v1.06h-2.05zM95 49h3.05v1.06h-3.05z"/><path fill="#c2c2c2" d="M3 4h1.05v1.06h-1.05zM6 13h1.05v1.06h-1.05zM7 15h1.05v1.06h-1.05zM8 17h1.05v1.06h-1.05zM11 21h1.05v1.06h-1.05zM15 25h1.05v1.06h-1.05zM16 26h1.05v1.06h-1.05zM20 29h1.05v1.06h-1.05zM22 30h1.05v1.06h-1.05zM32 35h1.05v1.06h-1.05zM37 37h1.05v1.06h-1.05zM40 38h1.05v1.06h-1.05zM43 39h1.05v1.06h-1.05zM47 40h1.05v1.06h-1.05zM51 41h1.05v1.06h-1.05zM55 42h1.05v1.06h-1.05zM59 43h1.05v1.06h-1.05zM64 44h1.05v1.06h-1.05zM69 45h1.05v1.06h-1.05zM74 46h2.05v1.06h-2.05zM80 47h2.05v1.06h-2.05zM86 48h2.05v1.06h-2.05zM93 49h2.05v1.06h-2.05z"/><path fill="#c1c1c1" d="M4 8h1.05v1.06h-1.05zM5 11h1.05v1.06h-1.05zM10 20h1.05v1.06h-1.05zM17 27h1.05v1.06h-1.05zM23 31h1.05v1.06h-1.05zM25 32h1.05v1.06h-1.05zM27 33h1.05v1.06h-1.05zM29 34h1.05v1.06h-1.05zM31 35h1.05v1.06h-1.05zM34 36h1.05v1.06h-1.05zM36 37h1.05v1.06h-1.05zM39 38h1.05v1.06h-1.05zM42 39h1.05v1.06h-1.05zM46 40h1.05v1.06h-1.05zM49 41h2.05v1.06h-2.05zM53 42h2.05v1.06h-2.05zM58 43h1.05v1.06h-1.05zM62 44h2.05v1.06h-2.05zM67 45h2.05v1.06h-2.05zM72 46h2.05v1.06h-2.05zM78 47h2.05v1.06h-2.05zM84 48h2.05v1.06h-2.05zM91 49h2.05v1.06h-2.05zM99 50h2.05v1.06h-2.05z"/><path fill="#c0c0c0" d="M9 19h1.05v1.06h-1.05zM18 28h1.05v1.06h-1.05zM21 30h1.05v1.06h-1.05zM24 32h1.05v1.06h-1.05zM26 33h1.05v1.06h-1.05zM28 34h1.05v1.06h-1.05zM33 36h1.05v1.06h-1.05zM38 38h1.05v1.06h-1.05zM41 39h1.05v1.06h-1.05zM45 40h1.05v1.06h-1.05zM48 41h1.05v1.06h-1.05zM52 42h1.05v1.06h-1.05zM56 43h2.05v1.06h-2.05zM61 44h1.05v1.06h-1.05zM66 45h1.05v1.06h-1.05zM71 46h1.05v1.06h-1.05zM76 47h2.05v1.06h-2.05zM83 48h1.05v1.06h-1.05zM89 49h2.05v1.06h-2.05zM96 50h3.05v1.06h-3.05z"/><path fill="#bfbfbf" d="M3 5h1.05v1.06h-1.05zM6 14h1.05v1.06h-1.05zM7 16h1.05v1.06h-1.05zM11 22h1.05v1.06h-1.05zM12 23h1.05v1.06h-1.05zM13 24h1.05v1.06h-1.05zM14 25h1.05v1.06h-1.05zM15 26h1.05v1.06h-1.05zM19 29h1.05v1.06h-1.05zM22 31h1.05v1.06h-1.05zM30 35h1.05v1.06h-1.05zM32 36h1.05v1.06h-1.05zM35 37h1.05v1.06h-1.05zM44 40h1.05v1.06h-1.05zM47 41h1.05v1.06h-1.05zM51 42h1.05v1.06h-1.05zM55 43h1.05v1.06h-1.05zM59 44h2.05v1.06h-2.05zM64 45h2.05v1.06h-2.05zM69 46h2.05v1.06h-2.05zM75 47h1.05v1.06h-1.05zM81 48h2.05v1.06h-2.05zM87 49h2.05v1.06h-2.05zM94 50h2.05v1.06h-2.05z"/><path fill="#bebebe" d="M4 9h1.05v1.06h-1.05zM5 12h1.05v1.06h-1.05zM8 18h1.05v1.06h-1.05zM10 21h1.05v1.06h-1.05zM16 27h1.05v1.06h-1.05zM17 28h1.05v1.06h-1.05zM20 30h1.05v1.06h-1.05zM23 32h1.05v1.06h-1.05zM25 33h1.05v1.06h-1.05zM27 34h1.05v1.06h-1.05zM29 35h1.05v1.06h-1.05zM34 37h1.05v1.06h-1.05zM37 38h1.05v1.06h-1.05zM40 39h1.05v1.06h-1.05zM43 40h1.05v1.06h-1.05zM46 41h1.05v1.06h-1.05zM50 42h1.05v1.06h-1.05zM54 43h1.05v1.06h-1.05zM58 44h1.05v1.06h-1.05zM63 45h1.05v1.06h-1.05zM68 46h1.05v1.06h-1.05zM73 47h2.05v1.06h-2.05zM79 48h2.05v1.06h-2.05zM85 49h2.05v1.06h-2.05zM92 50h2.05v1.06h-2.05zM100 51h1.05v1.06h-1.05z"/><path fill="#bababa" d="M2 0h1.05v1.06h-1.05zM9 20h1.05v1.06h-1.05zM18 29h1.05v1.06h-1.05zM21 31h1.05v1.06h-1.05zM31 36h1.05v1.06h-1.05zM33 37h1.05v1.06h-1.05zM36 38h1.05v1.06h-1.05zM39 39h1.05v1.06h-1.05zM42 40h1.05v1.06h-1.05zM45 41h1.05v1.06h-1.05zM49 42h1.05v1.06h-1.05zM53 43h1.05v1.06h-1.05zM57 44h1.05v1.06h-1.05zM61 45h2.05v1.06h-2.05zM66 46h2.05v1.06h-2.05zM72 47h1.05v1.06h-1.05zM77 48h2.05v1.06h-2.05zM83 49h2.05v1.06h-2.05zM90 50h2.05v1.06h-2.05zM97 51h3.05v1.06h-3.05z"/><path fill="#b7b7b7" d="M7 17h1.05v1.06h-1.05zM12 24h1.05v1.06h-1.05zM13 25h1.05v1.06h-1.05zM14 26h1.05v1.06h-1.05zM15 27h1.05v1.06h-1.05zM19 30h1.05v1.06h-1.05zM22 32h1.05v1.06h-1.05zM24 33h1.05v1.06h-1.05zM26 34h1.05v1.06h-1.05zM28 35h1.05v1.06h-1.05zM30 36h1.05v1.06h-1.05zM35 38h1.05v1.06h-1.05zM38 39h1.05v1.06h-1.05zM41 40h1.05v1.06h-1.05zM44 41h1.05v1.06h-1.05zM48 42h1.05v1.06h-1.05zM52 43h1.05v1.06h-1.05zM56 44h1.05v1.06h-1.05zM60 45h1.05v1.06h-1.05zM65 46h1.05v1.06h-1.05zM70 47h2.05v1.06h-2.05zM76 48h1.05v1.06h-1.05zM82 49h1.05v1.06h-1.05zM88 50h2.05v1.06h-2.05zM95 51h2.05v1.06h-2.05z"/><path fill="#b3b3b3" d="M3 6h1.05v1.06h-1.05zM6 15h1.05v1.06h-1.05zM8 19h1.05v1.06h-1.05zM11 23h1.05v1.06h-1.05zM16 28h1.05v1.06h-1.05zM20 31h1.05v1.06h-1.05zM32 37h1.05v1.06h-1.05zM37 39h1.05v1.06h-1.05zM40 40h1.05v1.06h-1.05zM43 41h1.05v1.06h-1.05zM47 42h1.05v1.06h-1.05zM50 43h2.05v1.06h-2.05zM54 44h2.05v1.06h-2.05zM59 45h1.05v1.06h-1.05zM63 46h2.05v1.06h-2.05zM69 47h1.05v1.06h-1.05zM74 48h2.05v1.06h-2.05zM80 49h2.05v1.06h-2.05zM86 50h2.05v1.06h-2.05zM93 51h2.05v1.06h-2.05z"/><path fill="#b0b0b0" d="M2 1h1.05v1.06h-1.05zM4 10h1.05v1.06h-1.05zM5 13h1.05v1.06h-1.05zM10 22h1.05v1.06h-1.05zM17 29h1.05v1.06h-1.05zM23 33h1.05v1.06h-1.05zM25 34h1.05v1.06h-1.05zM27 35h1.05v1.06h-1.05zM29 36h1.05v1.06h-1.05zM31 37h1.05v1.06h-1.05zM34 38h1.05v1.06h-1.05zM36 39h1.05v1.06h-1.05zM39 40h1.05v1.06h-1.05zM42 41h1.05v1.06h-1.05zM46 42h1.05v1.06h-1.05zM49 43h1.05v1.06h-1.05zM53 44h1.05v1.06h-1.05zM58 45h1.05v1.06h-1.05zM62 46h1.05v1.06h-1.05zM67 47h2.05v1.06h-2.05zM72 48h2.05v1.06h-2.05zM78 49h2.05v1.06h-2.05zM85 50h1.05v1.06h-1.05zM91 51h2.05v1.06h-2.05zM99 52h2.05v1.06h-2.05z"/><path fill="#adadad" d="M9 21h1.05v1.06h-1.05zM18 30h1.05v1.06h-1.05zM21 32h1.05v1.06h-1.05zM24 34h1.05v1.06h-1.05zM26 35h1.05v1.06h-1.05zM28 36h1.05v1.06h-1.05zM33 38h1.05v1.06h-1.05zM45 42h1.05v1.06h-1.05zM48 43h1.05v1.06h-1.05zM52 44h1.05v1.06h-1.05zM56 45h2.05v1.06h-2.05zM61 46h1.05v1.06h-1.05zM66 47h1.05v1.06h-1.05zM71 48h1.05v1.06h-1.05zM77 49h1.05v1.06h-1.05zM83 50h2.05v1.06h-2.05zM89 51h2.05v1.06h-2.05zM97 52h2.05v1.06h-2.05z"/><path fill="#a9a9a9" d="M6 16h1.05v1.06h-1.05zM7 18h1.05v1.06h-1.05zM11 24h1.05v1.06h-1.05zM12 25h1.05v1.06h-1.05zM13 26h1.05v1.06h-1.05zM14 27h1.05v1.06h-1.05zM15 28h1.05v1.06h-1.05zM19 31h1.05v1.06h-1.05zM22 33h1.05v1.06h-1.05zM30 37h1.05v1.06h-1.05zM32 38h1.05v1.06h-1.05zM35 39h1.05v1.06h-1.05zM38 40h1.05v1.06h-1.05zM41 41h1.05v1.06h-1.05zM44 42h1.05v1.06h-1.05zM47 43h1.05v1.06h-1.05zM51 44h1.05v1.06h-1.05zM55 45h1.05v1.06h-1.05zM60 46h1.05v1.06h-1.05zM64 47h2.05v1.06h-2.05zM69 48h2.05v1.06h-2.05zM75 49h2.05v1.06h-2.05zM81 50h2.05v1.06h-2.05zM88 51h1.05v1.06h-1.05zM95 52h2.05v1.06h-2.05z"/><path fill="#a6a6a6" d="M3 7h1.05v1.06h-1.05zM4 11h1.05v1.06h-1.05zM8 20h1.05v1.06h-1.05zM10 23h1.05v1.06h-1.05zM16 29h1.05v1.06h-1.05zM17 30h1.05v1.06h-1.05zM20 32h1.05v1.06h-1.05zM25 35h1.05v1.06h-1.05zM27 36h1.05v1.06h-1.05zM29 37h1.05v1.06h-1.05zM34 39h1.05v1.06h-1.05zM37 40h1.05v1.06h-1.05zM40 41h1.05v1.06h-1.05zM43 42h1.05v1.06h-1.05zM46 43h1.05v1.06h-1.05zM50 44h1.05v1.06h-1.05zM54 45h1.05v1.06h-1.05zM58 46h2.05v1.06h-2.05zM63 47h1.05v1.06h-1.05zM68 48h1.05v1.06h-1.05zM74 49h1.05v1.06h-1.05zM79 50h2.05v1.06h-2.05zM86 51h2.05v1.06h-2.05zM93 52h2.05v1.06h-2.05zM100 53h1.05v1.06h-1.05z"/><path fill="#a2a2a2" d="M2 2h1.05v1.06h-1.05zM5 14h1.05v1.06h-1.05zM18 31h1.05v1.06h-1.05zM21 33h1.05v1.06h-1.05zM23 34h1.05v1.06h-1.05zM31 38h1.05v1.06h-1.05zM36 40h1.05v1.06h-1.05zM39 41h1.05v1.06h-1.05zM42 42h1.05v1.06h-1.05zM45 43h1.05v1.06h-1.05zM49 44h1.05v1.06h-1.05zM53 45h1.05v1.06h-1.05zM57 46h1.05v1.06h-1.05zM62 47h1.05v1.06h-1.05zM67 48h1.05v1.06h-1.05zM72 49h2.05v1.06h-2.05zM78 50h1.05v1.06h-1.05zM84 51h2.05v1.06h-2.05zM91 52h2.05v1.06h-2.05zM98 53h2.05v1.06h-2.05z"/><path fill="#9f9f9f" d="M9 22h1.05v1.06h-1.05zM12 26h1.05v1.06h-1.05zM13 27h1.05v1.06h-1.05zM14 28h1.05v1.06h-1.05zM19 32h1.05v1.06h-1.05zM24 35h1.05v1.06h-1.05zM26 36h1.05v1.06h-1.05zM28 37h1.05v1.06h-1.05zM33 39h1.05v1.06h-1.05zM35 40h1.05v1.06h-1.05zM38 41h1.05v1.06h-1.05zM41 42h1.05v1.06h-1.05zM48 44h1.05v1.06h-1.05zM52 45h1.05v1.06h-1.05zM56 46h1.05v1.06h-1.05zM61 47h1.05v1.06h-1.05zM65 48h2.05v1.06h-2.05zM71 49h1.05v1.06h-1.05zM76 50h2.05v1.06h-2.05zM82 51h2.05v1.06h-2.05zM89 52h2.05v1.06h-2.05zM96 53h2.05v1.06h-2.05z"/><path fill="#9b9b9b" d="M3 8h1.05v1.06h-1.05zM6 17h1.05v1.06h-1.05zM7 19h1.05v1.06h-1.05zM11 25h1.05v1.06h-1.05zM15 29h1.05v1.06h-1.05zM16 30h1.05v1.06h-1.05zM22 34h1.05v1.06h-1.05zM30 38h1.05v1.06h-1.05zM32 39h1.05v1.06h-1.05zM40 42h1.05v1.06h-1.05zM44 43h1.05v1.06h-1.05zM47 44h1.05v1.06h-1.05zM51 45h1.05v1.06h-1.05zM55 46h1.05v1.06h-1.05zM59 47h2.05v1.06h-2.05zM64 48h1.05v1.06h-1.05zM69 49h2.05v1.06h-2.05zM75 50h1.05v1.06h-1.05zM81 51h1.05v1.06h-1.05zM87 52h2.05v1.06h-2.05zM94 53h2.05v1.06h-2.05z"/><path fill="#989898" d="M2 3h1.05v1.06h-1.05zM4 12h1.05v1.06h-1.05zM5 15h1.05v1.06h-1.05zM8 21h1.05v1.06h-1.05zM10 24h1.05v1.06h-1.05zM17 31h1.05v1.06h-1.05zM20 33h1.05v1.06h-1.05zM23 35h1.05v1.06h-1.05zM25 36h1.05v1.06h-1.05zM27 37h1.05v1.06h-1.05zM29 38h1.05v1.06h-1.05zM34 40h1.05v1.06h-1.05zM37 41h1.05v1.06h-1.05zM43 43h1.05v1.06h-1.05zM46 44h1.05v1.06h-1.05zM50 45h1.05v1.06h-1.05zM54 46h1.05v1.06h-1.05zM58 47h1.05v1.06h-1.05zM63 48h1.05v1.06h-1.05zM68 49h1.05v1.06h-1.05zM73 50h2.05v1.06h-2.05zM79 51h2.05v1.06h-2.05zM86 52h1.05v1.06h-1.05zM92 53h2.05v1.06h-2.05zM100 54h1.05v1.06h-1.05z"/><path fill="#959595" d="M9 23h1.05v1.06h-1.05zM18 32h1.05v1.06h-1.05zM21 34h1.05v1.06h-1.05zM31 39h1.05v1.06h-1.05zM33 40h1.05v1.06h-1.05zM36 41h1.05v1.06h-1.05zM39 42h1.05v1.06h-1.05zM42 43h1.05v1.06h-1.05zM45 44h1.05v1.06h-1.05zM49 45h1.05v1.06h-1.05zM53 46h1.05v1.06h-1.05zM57 47h1.05v1.06h-1.05zM62 48h1.05v1.06h-1.05zM67 49h1.05v1.06h-1.05zM72 50h1.05v1.06h-1.05zM78 51h1.05v1.06h-1.05zM84 52h2.05v1.06h-2.05zM91 53h1.05v1.06h-1.05zM98 54h2.05v1.06h-2.05z"/><path fill="#919191" d="M12 27h1.05v1.06h-1.05zM13 28h1.05v1.06h-1.05zM14 29h1.05v1.06h-1.05zM19 33h1.05v1.06h-1.05zM24 36h1.05v1.06h-1.05zM26 37h1.05v1.06h-1.05zM28 38h1.05v1.06h-1.05zM30 39h1.05v1.06h-1.05zM35 41h1.05v1.06h-1.05zM38 42h1.05v1.06h-1.05zM41 43h1.05v1.06h-1.05zM44 44h1.05v1.06h-1.05zM48 45h1.05v1.06h-1.05zM52 46h1.05v1.06h-1.05zM56 47h1.05v1.06h-1.05zM60 48h2.05v1.06h-2.05zM65 49h2.05v1.06h-2.05zM70 50h2.05v1.06h-2.05zM76 51h2.05v1.06h-2.05zM82 52h2.05v1.06h-2.05zM89 53h2.05v1.06h-2.05zM96 54h2.05v1.06h-2.05z"/><path fill="#8e8e8e" d="M3 9h1.05v1.06h-1.05zM6 18h1.05v1.06h-1.05zM7 20h1.05v1.06h-1.05zM11 26h1.05v1.06h-1.05zM15 30h1.05v1.06h-1.05zM16 31h1.05v1.06h-1.05zM22 35h1.05v1.06h-1.05zM32 40h1.05v1.06h-1.05zM37 42h1.05v1.06h-1.05zM40 43h1.05v1.06h-1.05zM47 45h1.05v1.06h-1.05zM51 46h1.05v1.06h-1.05zM55 47h1.05v1.06h-1.05zM59 48h1.05v1.06h-1.05zM64 49h1.05v1.06h-1.05zM69 50h1.05v1.06h-1.05zM75 51h1.05v1.06h-1.05zM81 52h1.05v1.06h-1.05zM87 53h2.05v1.06h-2.05zM94 54h2.05v1.06h-2.05z"/><path fill="#8b8b8b" d="M2 4h1.05v1.06h-1.05zM4 13h1.05v1.06h-1.05zM5 16h1.05v1.06h-1.05zM8 22h1.05v1.06h-1.05zM10 25h1.05v1.06h-1.05zM17 32h1.05v1.06h-1.05zM20 34h1.05v1.06h-1.05zM23 36h1.05v1.06h-1.05zM25 37h1.05v1.06h-1.05zM27 38h1.05v1.06h-1.05zM29 39h1.05v1.06h-1.05zM34 41h1.05v1.06h-1.05zM43 44h1.05v1.06h-1.05zM46 45h1.05v1.06h-1.05zM50 46h1.05v1.06h-1.05zM54 47h1.05v1.06h-1.05zM58 48h1.05v1.06h-1.05zM63 49h1.05v1.06h-1.05zM68 50h1.05v1.06h-1.05zM73 51h2.05v1.06h-2.05zM79 52h2.05v1.06h-2.05zM86 53h1.05v1.06h-1.05zM92 54h2.05v1.06h-2.05zM100 55h1.05v1.06h-1.05z"/><path fill="#878787" d="M9 24h1.05v1.06h-1.05zM18 33h1.05v1.06h-1.05zM21 35h1.05v1.06h-1.05zM31 40h1.05v1.06h-1.05zM33 41h1.05v1.06h-1.05zM36 42h1.05v1.06h-1.05zM39 43h1.05v1.06h-1.05zM42 44h1.05v1.06h-1.05zM45 45h1.05v1.06h-1.05zM49 46h1.05v1.06h-1.05zM53 47h1.05v1.06h-1.05zM57 48h1.05v1.06h-1.05zM62 49h1.05v1.06h-1.05zM66 50h2.05v1.06h-2.05zM72 51h1.05v1.06h-1.05zM78 52h1.05v1.06h-1.05zM84 53h2.05v1.06h-2.05zM91 54h1.05v1.06h-1.05zM98 55h2.05v1.06h-2.05z"/><path fill="#848484" d="M12 28h1.05v1.06h-1.05zM13 29h1.05v1.06h-1.05zM14 30h1.05v1.06h-1.05zM19 34h1.05v1.06h-1.05zM24 37h1.05v1.06h-1.05zM26 38h1.05v1.06h-1.05zM28 39h1.05v1.06h-1.05zM30 40h1.05v1.06h-1.05zM35 42h1.05v1.06h-1.05zM38 43h1.05v1.06h-1.05zM41 44h1.05v1.06h-1.05zM44 45h1.05v1.06h-1.05zM48 46h1.05v1.06h-1.05zM52 47h1.05v1.06h-1.05zM56 48h1.05v1.06h-1.05zM60 49h2.05v1.06h-2.05zM65 50h1.05v1.06h-1.05zM70 51h2.05v1.06h-2.05zM76 52h2.05v1.06h-2.05zM82 53h2.05v1.06h-2.05zM89 54h2.05v1.06h-2.05zM96 55h2.05v1.06h-2.05z"/><path fill="#818181" d="M3 10h1.05v1.06h-1.05zM6 19h1.05v1.06h-1.05zM7 21h1.05v1.06h-1.05zM11 27h1.05v1.06h-1.05zM15 31h1.05v1.06h-1.05zM16 32h1.05v1.06h-1.05zM22 36h1.05v1.06h-1.05zM32 41h1.05v1.06h-1.05zM37 43h1.05v1.06h-1.05zM40 44h1.05v1.06h-1.05zM47 46h1.05v1.06h-1.05zM51 47h1.05v1.06h-1.05zM55 48h1.05v1.06h-1.05zM59 49h1.05v1.06h-1.05zM64 50h1.05v1.06h-1.05zM69 51h1.05v1.06h-1.05zM75 52h1.05v1.06h-1.05zM81 53h1.05v1.06h-1.05zM87 54h2.05v1.06h-2.05zM94 55h2.05v1.06h-2.05z"/><path fill="#7d7d7d" d="M2 5h1.05v1.06h-1.05zM4 14h1.05v1.06h-1.05zM5 17h1.05v1.06h-1.05zM8 23h1.05v1.06h-1.05zM10 26h1.05v1.06h-1.05zM17 33h1.05v1.06h-1.05zM20 35h1.05v1.06h-1.05zM23 37h1.05v1.06h-1.05zM25 38h1.05v1.06h-1.05zM27 39h1.05v1.06h-1.05zM29 40h1.05v1.06h-1.05zM34 42h1.05v1.06h-1.05zM43 45h1.05v1.06h-1.05zM46 46h1.05v1.06h-1.05zM50 47h1.05v1.06h-1.05zM54 48h1.05v1.06h-1.05zM58 49h1.05v1.06h-1.05zM63 50h1.05v1.06h-1.05zM68 51h1.05v1.06h-1.05zM73 52h2.05v1.06h-2.05zM79 53h2.05v1.06h-2.05zM86 54h1.05v1.06h-1.05zM93 55h1.05v1.06h-1.05zM100 56h1.05v1.06h-1.05z"/><path fill="#7a7a7a" d="M9 25h1.05v1.06h-1.05zM18 34h1.05v1.06h-1.05zM21 36h1.05v1.06h-1.05zM31 41h1.05v1.06h-1.05zM33 42h1.05v1.06h-1.05zM36 43h1.05v1.06h-1.05zM39 44h1.05v1.06h-1.05zM42 45h1.05v1.06h-1.05zM45 46h1.05v1.06h-1.05zM49 47h1.05v1.06h-1.05zM53 48h1.05v1.06h-1.05zM57 49h1.05v1.06h-1.05zM62 50h1.05v1.06h-1.05zM67 51h1.05v1.06h-1.05zM72 52h1.05v1.06h-1.05zM78 53h1.05v1.06h-1.05zM84 54h2.05v1.06h-2.05zM91 55h2.05v1.06h-2.05zM98 56h2.05v1.06h-2.05z"/><path fill="#777777" d="M12 29h1.05v1.06h-1.05zM13 30h1.05v1.06h-1.05zM14 31h1.05v1.06h-1.05zM19 35h1.05v1.06h-1.05zM24 38h1.05v1.06h-1.05zM26 39h1.05v1.06h-1.05zM28 40h1.05v1.06h-1.05zM30 41h1.05v1.06h-1.05zM35 43h1.05v1.06h-1.05zM38 44h1.05v1.06h-1.05zM41 45h1.05v1.06h-1.05zM48 47h1.05v1.06h-1.05zM52 48h1.05v1.06h-1.05zM56 49h1.05v1.06h-1.05zM61 50h1.05v1.06h-1.05zM65 51h2.05v1.06h-2.05zM71 52h1.05v1.06h-1.05zM76 53h2.05v1.06h-2.05zM83 54h1.05v1.06h-1.05zM89 55h2.05v1.06h-2.05zM97 56h1.05v1.06h-1.05z"/><path fill="#747474" d="M3 11h1.05v1.06h-1.05zM6 20h1.05v1.06h-1.05zM7 22h1.05v1.06h-1.05zM11 28h1.05v1.06h-1.05zM15 32h1.05v1.06h-1.05zM16 33h1.05v1.06h-1.05zM22 37h1.05v1.06h-1.05zM32 42h1.05v1.06h-1.05zM44 46h1.05v1.06h-1.05zM47 47h1.05v1.06h-1.05zM51 48h1.05v1.06h-1.05zM55 49h1.05v1.06h-1.05zM59 50h2.05v1.06h-2.05zM64 51h1.05v1.06h-1.05zM69 52h2.05v1.06h-2.05zM75 53h1.05v1.06h-1.05zM81 54h2.05v1.06h-2.05zM88 55h1.05v1.06h-1.05zM95 56h2.05v1.06h-2.05z"/><path fill="#717171" d="M2 6h1.05v1.06h-1.05zM4 15h1.05v1.06h-1.05zM5 18h1.05v1.06h-1.05zM8 24h1.05v1.06h-1.05zM10 27h1.05v1.06h-1.05zM17 34h1.05v1.06h-1.05zM20 36h1.05v1.06h-1.05zM23 38h1.05v1.06h-1.05zM25 39h1.05v1.06h-1.05zM27 40h1.05v1.06h-1.05zM29 41h1.05v1.06h-1.05zM34 43h1.05v1.06h-1.05zM37 44h1.05v1.06h-1.05zM40 45h1.05v1.06h-1.05zM43 46h1.05v1.06h-1.05zM46 47h1.05v1.06h-1.05zM50 48h1.05v1.06h-1.05zM54 49h1.05v1.06h-1.05zM58 50h1.05v1.06h-1.05zM63 51h1.05v1.06h-1.05zM68 52h1.05v1.06h-1.05zM74 53h1.05v1.06h-1.05zM80 54h1.05v1.06h-1.05zM86 55h2.05v1.06h-2.05zM93 56h2.05v1.06h-2.05z"/><path fill="#6d6d6d" d="M9 26h1.05v1.06h-1.05zM18 35h1.05v1.06h-1.05zM21 37h1.05v1.06h-1.05zM31 42h1.05v1.06h-1.05zM36 44h1.05v1.06h-1.05zM39 45h1.05v1.06h-1.05zM42 46h1.05v1.06h-1.05zM49 48h1.05v1.06h-1.05zM53 49h1.05v1.06h-1.05zM57 50h1.05v1.06h-1.05zM62 51h1.05v1.06h-1.05zM67 52h1.05v1.06h-1.05zM72 53h2.05v1.06h-2.05zM78 54h2.05v1.06h-2.05zM84 55h2.05v1.06h-2.05zM91 56h2.05v1.06h-2.05zM99 57h2.05v1.06h-2.05z"/><path fill="#6a6a6a" d="M12 30h1.05v1.06h-1.05zM13 31h1.05v1.06h-1.05zM14 32h1.05v1.06h-1.05zM19 36h1.05v1.06h-1.05zM24 39h1.05v1.06h-1.05zM26 40h1.05v1.06h-1.05zM28 41h1.05v1.06h-1.05zM33 43h1.05v1.06h-1.05zM38 45h1.05v1.06h-1.05zM41 46h1.05v1.06h-1.05zM45 47h1.05v1.06h-1.05zM48 48h1.05v1.06h-1.05zM52 49h1.05v1.06h-1.05zM56 50h1.05v1.06h-1.05zM61 51h1.05v1.06h-1.05zM66 52h1.05v1.06h-1.05zM71 53h1.05v1.06h-1.05zM77 54h1.05v1.06h-1.05zM83 55h1.05v1.06h-1.05zM90 56h1.05v1.06h-1.05zM97 57h2.05v1.06h-2.05z"/><path fill="#676767" d="M3 12h1.05v1.06h-1.05zM6 21h1.05v1.06h-1.05zM7 23h1.05v1.06h-1.05zM11 29h1.05v1.06h-1.05zM15 33h1.05v1.06h-1.05zM16 34h1.05v1.06h-1.05zM22 38h1.05v1.06h-1.05zM30 42h1.05v1.06h-1.05zM32 43h1.05v1.06h-1.05zM35 44h1.05v1.06h-1.05zM44 47h1.05v1.06h-1.05zM47 48h1.05v1.06h-1.05zM51 49h1.05v1.06h-1.05zM55 50h1.05v1.06h-1.05zM60 51h1.05v1.06h-1.05zM65 52h1.05v1.06h-1.05zM70 53h1.05v1.06h-1.05zM75 54h2.05v1.06h-2.05zM81 55h2.05v1.06h-2.05zM88 56h2.05v1.06h-2.05zM95 57h2.05v1.06h-2.05z"/><path fill="#646464" d="M4 16h1.05v1.06h-1.05zM5 19h1.05v1.06h-1.05zM8 25h1.05v1.06h-1.05zM10 28h1.05v1.06h-1.05zM17 35h1.05v1.06h-1.05zM20 37h1.05v1.06h-1.05zM25 40h1.05v1.06h-1.05zM27 41h1.05v1.06h-1.05zM29 42h1.05v1.06h-1.05zM34 44h1.05v1.06h-1.05zM37 45h1.05v1.06h-1.05zM40 46h1.05v1.06h-1.05zM43 47h1.05v1.06h-1.05zM50 49h1.05v1.06h-1.05zM54 50h1.05v1.06h-1.05zM59 51h1.05v1.06h-1.05zM63 52h2.05v1.06h-2.05zM68 53h2.05v1.06h-2.05zM74 54h1.05v1.06h-1.05zM80 55h1.05v1.06h-1.05zM87 56h1.05v1.06h-1.05zM94 57h1.05v1.06h-1.05z"/><path fill="#616161" d="M2 7h1.05v1.06h-1.05zM18 36h1.05v1.06h-1.05zM21 38h1.05v1.06h-1.05zM23 39h1.05v1.06h-1.05zM31 43h1.05v1.06h-1.05zM36 45h1.05v1.06h-1.05zM39 46h1.05v1.06h-1.05zM42 47h1.05v1.06h-1.05zM46 48h1.05v1.06h-1.05zM49 49h1.05v1.06h-1.05zM53 50h1.05v1.06h-1.05zM58 51h1.05v1.06h-1.05zM62 52h1.05v1.06h-1.05zM67 53h1.05v1.06h-1.05zM73 54h1.05v1.06h-1.05zM79 55h1.05v1.06h-1.05zM85 56h2.05v1.06h-2.05zM92 57h2.05v1.06h-2.05zM99 58h2.05v1.06h-2.05z"/><path fill="#5e5e5e" d="M9 27h1.05v1.06h-1.05zM13 32h1.05v1.06h-1.05zM24 40h1.05v1.06h-1.05zM26 41h1.05v1.06h-1.05zM28 42h1.05v1.06h-1.05zM33 44h1.05v1.06h-1.05zM45 48h1.05v1.06h-1.05zM52 50h1.05v1.06h-1.05zM57 51h1.05v1.06h-1.05zM61 52h1.05v1.06h-1.05zM66 53h1.05v1.06h-1.05zM71 54h2.05v1.06h-2.05zM77 55h2.05v1.06h-2.05zM84 56h1.05v1.06h-1.05zM90 57h2.05v1.06h-2.05zM98 58h1.05v1.06h-1.05z"/><path fill="#5b5b5b" d="M3 13h1.05v1.06h-1.05zM6 22h1.05v1.06h-1.05zM7 24h1.05v1.06h-1.05zM11 30h1.05v1.06h-1.05zM12 31h1.05v1.06h-1.05zM14 33h1.05v1.06h-1.05zM15 34h1.05v1.06h-1.05zM19 37h1.05v1.06h-1.05zM22 39h1.05v1.06h-1.05zM30 43h1.05v1.06h-1.05zM35 45h1.05v1.06h-1.05zM38 46h1.05v1.06h-1.05zM41 47h1.05v1.06h-1.05zM44 48h1.05v1.06h-1.05zM48 49h1.05v1.06h-1.05zM56 51h1.05v1.06h-1.05zM60 52h1.05v1.06h-1.05zM65 53h1.05v1.06h-1.05zM70 54h1.05v1.06h-1.05zM76 55h1.05v1.06h-1.05zM82 56h2.05v1.06h-2.05zM89 57h1.05v1.06h-1.05zM96 58h2.05v1.06h-2.05z"/><path fill="#585858" d="M4 17h1.05v1.06h-1.05zM8 26h1.05v1.06h-1.05zM10 29h1.05v1.06h-1.05zM16 35h1.05v1.06h-1.05zM20 38h1.05v1.06h-1.05zM27 42h1.05v1.06h-1.05zM32 44h1.05v1.06h-1.05zM37 46h1.05v1.06h-1.05zM40 47h1.05v1.06h-1.05zM43 48h1.05v1.06h-1.05zM47 49h1.05v1.06h-1.05zM51 50h1.05v1.06h-1.05zM55 51h1.05v1.06h-1.05zM59 52h1.05v1.06h-1.05zM64 53h1.05v1.06h-1.05zM69 54h1.05v1.06h-1.05zM75 55h1.05v1.06h-1.05zM81 56h1.05v1.06h-1.05zM87 57h2.05v1.06h-2.05zM94 58h2.05v1.06h-2.05z"/><path fill="#545454" d="M2 8h1.05v1.06h-1.05zM5 20h1.05v1.06h-1.05zM17 36h1.05v1.06h-1.05zM23 40h1.05v1.06h-1.05zM25 41h1.05v1.06h-1.05zM29 43h1.05v1.06h-1.05zM31 44h1.05v1.06h-1.05zM34 45h1.05v1.06h-1.05zM46 49h1.05v1.06h-1.05zM50 50h1.05v1.06h-1.05zM54 51h1.05v1.06h-1.05zM58 52h1.05v1.06h-1.05zM63 53h1.05v1.06h-1.05zM68 54h1.05v1.06h-1.05zM73 55h2.05v1.06h-2.05zM79 56h2.05v1.06h-2.05zM86 57h1.05v1.06h-1.05zM93 58h1.05v1.06h-1.05zM100 59h1.05v1.06h-1.05z"/><path fill="#515151" d="M9 28h1.05v1.06h-1.05zM18 37h1.05v1.06h-1.05zM21 39h1.05v1.06h-1.05zM33 45h1.05v1.06h-1.05zM36 46h1.05v1.06h-1.05zM39 47h1.05v1.06h-1.05zM42 48h1.05v1.06h-1.05zM45 49h1.05v1.06h-1.05zM49 50h1.05v1.06h-1.05zM53 51h1.05v1.06h-1.05zM57 52h1.05v1.06h-1.05zM62 53h1.05v1.06h-1.05zM67 54h1.05v1.06h-1.05zM72 55h1.05v1.06h-1.05zM78 56h1.05v1.06h-1.05zM84 57h2.05v1.06h-2.05zM91 58h2.05v1.06h-2.05zM99 59h1.05v1.06h-1.05z"/><path fill="#4e4e4e" d="M6 23h1.05v1.06h-1.05zM7 25h1.05v1.06h-1.05zM12 32h1.05v1.06h-1.05zM13 33h1.05v1.06h-1.05zM14 34h1.05v1.06h-1.05zM15 35h1.05v1.06h-1.05zM19 38h1.05v1.06h-1.05zM22 40h1.05v1.06h-1.05zM24 41h1.05v1.06h-1.05zM26 42h1.05v1.06h-1.05zM28 43h1.05v1.06h-1.05zM30 44h1.05v1.06h-1.05zM35 46h1.05v1.06h-1.05zM38 47h1.05v1.06h-1.05zM41 48h1.05v1.06h-1.05zM44 49h1.05v1.06h-1.05zM48 50h1.05v1.06h-1.05zM52 51h1.05v1.06h-1.05zM56 52h1.05v1.06h-1.05zM61 53h1.05v1.06h-1.05zM65 54h2.05v1.06h-2.05zM71 55h1.05v1.06h-1.05zM77 56h1.05v1.06h-1.05zM83 57h1.05v1.06h-1.05zM90 58h1.05v1.06h-1.05zM97 59h2.05v1.06h-2.05z"/><path fill="#4b4b4b" d="M3 14h1.05v1.06h-1.05zM8 27h1.05v1.06h-1.05zM11 31h1.05v1.06h-1.05zM16 36h1.05v1.06h-1.05zM20 39h1.05v1.06h-1.05zM32 45h1.05v1.06h-1.05zM47 50h1.05v1.06h-1.05zM51 51h1.05v1.06h-1.05zM55 52h1.05v1.06h-1.05zM60 53h1.05v1.06h-1.05zM64 54h1.05v1.06h-1.05zM70 55h1.05v1.06h-1.05zM75 56h2.05v1.06h-2.05zM81 57h2.05v1.06h-2.05zM88 58h2.05v1.06h-2.05zM95 59h2.05v1.06h-2.05z"/><path fill="#484848" d="M2 9h1.05v1.06h-1.05zM4 18h1.05v1.06h-1.05zM5 21h1.05v1.06h-1.05zM10 30h1.05v1.06h-1.05zM17 37h1.05v1.06h-1.05zM23 41h1.05v1.06h-1.05zM25 42h1.05v1.06h-1.05zM27 43h1.05v1.06h-1.05zM29 44h1.05v1.06h-1.05zM34 46h1.05v1.06h-1.05zM37 47h1.05v1.06h-1.05zM40 48h1.05v1.06h-1.05zM43 49h1.05v1.06h-1.05zM46 50h1.05v1.06h-1.05zM50 51h1.05v1.06h-1.05zM54 52h1.05v1.06h-1.05zM59 53h1.05v1.06h-1.05zM63 54h1.05v1.06h-1.05zM68 55h2.05v1.06h-2.05zM74 56h1.05v1.06h-1.05zM80 57h1.05v1.06h-1.05zM86 58h2.05v1.06h-2.05zM94 59h1.05v1.06h-1.05z"/><path fill="#464646" d="M1 0h1.05v1.06h-1.05zM9 29h1.05v1.06h-1.05zM18 38h1.05v1.06h-1.05zM21 40h1.05v1.06h-1.05zM31 45h1.05v1.06h-1.05zM36 47h1.05v1.06h-1.05zM39 48h1.05v1.06h-1.05zM42 49h1.05v1.06h-1.05zM49 51h1.05v1.06h-1.05zM53 52h1.05v1.06h-1.05zM58 53h1.05v1.06h-1.05zM62 54h1.05v1.06h-1.05zM67 55h1.05v1.06h-1.05zM73 56h1.05v1.06h-1.05zM79 57h1.05v1.06h-1.05zM85 58h1.05v1.06h-1.05zM92 59h2.05v1.06h-2.05zM100 60h1.05v1.06h-1.05z"/><path fill="#434343" d="M12 33h1.05v1.06h-1.05zM13 34h1.05v1.06h-1.05zM14 35h1.05v1.06h-1.05zM19 39h1.05v1.06h-1.05zM24 42h1.05v1.06h-1.05zM26 43h1.05v1.06h-1.05zM28 44h1.05v1.06h-1.05zM33 46h1.05v1.06h-1.05zM38 48h1.05v1.06h-1.05zM45 50h1.05v1.06h-1.05zM48 51h1.05v1.06h-1.05zM52 52h1.05v1.06h-1.05zM57 53h1.05v1.06h-1.05zM61 54h1.05v1.06h-1.05zM66 55h1.05v1.06h-1.05zM71 56h2.05v1.06h-2.05zM77 57h2.05v1.06h-2.05zM84 58h1.05v1.06h-1.05zM90 59h2.05v1.06h-2.05zM98 60h2.05v1.06h-2.05z"/><path fill="#404040" d="M3 15h1.05v1.06h-1.05zM6 24h1.05v1.06h-1.05zM7 26h1.05v1.06h-1.05zM11 32h1.05v1.06h-1.05zM15 36h1.05v1.06h-1.05zM22 41h1.05v1.06h-1.05zM30 45h1.05v1.06h-1.05zM32 46h1.05v1.06h-1.05zM35 47h1.05v1.06h-1.05zM41 49h1.05v1.06h-1.05zM44 50h1.05v1.06h-1.05zM51 52h1.05v1.06h-1.05zM56 53h1.05v1.06h-1.05zM60 54h1.05v1.06h-1.05zM65 55h1.05v1.06h-1.05zM70 56h1.05v1.06h-1.05zM76 57h1.05v1.06h-1.05zM82 58h2.05v1.06h-2.05zM89 59h1.05v1.06h-1.05zM96 60h2.05v1.06h-2.05z"/><path fill="#3d3d3d" d="M4 19h1.05v1.06h-1.05zM8 28h1.05v1.06h-1.05zM10 31h1.05v1.06h-1.05zM16 37h1.05v1.06h-1.05zM17 38h1.05v1.06h-1.05zM20 40h1.05v1.06h-1.05zM25 43h1.05v1.06h-1.05zM27 44h1.05v1.06h-1.05zM34 47h1.05v1.06h-1.05zM37 48h1.05v1.06h-1.05zM40 49h1.05v1.06h-1.05zM43 50h1.05v1.06h-1.05zM47 51h1.05v1.06h-1.05zM55 53h1.05v1.06h-1.05zM59 54h1.05v1.06h-1.05zM64 55h1.05v1.06h-1.05zM69 56h1.05v1.06h-1.05zM75 57h1.05v1.06h-1.05zM81 58h1.05v1.06h-1.05zM87 59h2.05v1.06h-2.05zM95 60h1.05v1.06h-1.05z"/><path fill="#3a3a3a" d="M1 1h1.05v1.06h-1.05zM2 10h1.05v1.06h-1.05zM5 22h1.05v1.06h-1.05zM23 42h1.05v1.06h-1.05zM29 45h1.05v1.06h-1.05zM31 46h1.05v1.06h-1.05zM39 49h1.05v1.06h-1.05zM46 51h1.05v1.06h-1.05zM50 52h1.05v1.06h-1.05zM54 53h1.05v1.06h-1.05zM58 54h1.05v1.06h-1.05zM63 55h1.05v1.06h-1.05zM68 56h1.05v1.06h-1.05zM73 57h2.05v1.06h-2.05zM79 58h2.05v1.06h-2.05zM86 59h1.05v1.06h-1.05zM93 60h2.05v1.06h-2.05z"/><path fill="#373737" d="M9 30h1.05v1.06h-1.05zM18 39h1.05v1.06h-1.05zM21 41h1.05v1.06h-1.05zM33 47h1.05v1.06h-1.05zM36 48h1.05v1.06h-1.05zM42 50h1.05v1.06h-1.05zM45 51h1.05v1.06h-1.05zM49 52h1.05v1.06h-1.05zM53 53h1.05v1.06h-1.05zM57 54h1.05v1.06h-1.05zM62 55h1.05v1.06h-1.05zM67 56h1.05v1.06h-1.05zM72 57h1.05v1.06h-1.05zM78 58h1.05v1.06h-1.05zM84 59h2.05v1.06h-2.05zM91 60h2.05v1.06h-2.05zM99 61h2.05v1.06h-2.05z"/><path fill="#343434" d="M6 25h1.05v1.06h-1.05zM7 27h1.05v1.06h-1.05zM12 34h1.05v1.06h-1.05zM13 35h1.05v1.06h-1.05zM14 36h1.05v1.06h-1.05zM15 37h1.05v1.06h-1.05zM19 40h1.05v1.06h-1.05zM22 42h1.05v1.06h-1.05zM24 43h1.05v1.06h-1.05zM26 44h1.05v1.06h-1.05zM28 45h1.05v1.06h-1.05zM30 46h1.05v1.06h-1.05zM35 48h1.05v1.06h-1.05zM38 49h1.05v1.06h-1.05zM41 50h1.05v1.06h-1.05zM48 52h1.05v1.06h-1.05zM52 53h1.05v1.06h-1.05zM56 54h1.05v1.06h-1.05zM61 55h1.05v1.06h-1.05zM66 56h1.05v1.06h-1.05zM71 57h1.05v1.06h-1.05zM77 58h1.05v1.06h-1.05zM83 59h1.05v1.06h-1.05zM90 60h1.05v1.06h-1.05zM97 61h2.05v1.06h-2.05z"/><path fill="#313131" d="M3 16h1.05v1.06h-1.05zM8 29h1.05v1.06h-1.05zM11 33h1.05v1.06h-1.05zM16 38h1.05v1.06h-1.05zM20 41h1.05v1.06h-1.05zM32 47h1.05v1.06h-1.05zM44 51h1.05v1.06h-1.05zM47 52h1.05v1.06h-1.05zM51 53h1.05v1.06h-1.05zM55 54h1.05v1.06h-1.05zM60 55h1.05v1.06h-1.05zM65 56h1.05v1.06h-1.05zM70 57h1.05v1.06h-1.05zM75 58h2.05v1.06h-2.05zM82 59h1.05v1.06h-1.05zM88 60h2.05v1.06h-2.05zM96 61h1.05v1.06h-1.05z"/><path fill="#2f2f2f" d="M2 11h1.05v1.06h-1.05zM4 20h1.05v1.06h-1.05zM5 23h1.05v1.06h-1.05zM10 32h1.05v1.06h-1.05zM17 39h1.05v1.06h-1.05zM23 43h1.05v1.06h-1.05zM25 44h1.05v1.06h-1.05zM27 45h1.05v1.06h-1.05zM29 46h1.05v1.06h-1.05zM34 48h1.05v1.06h-1.05zM37 49h1.05v1.06h-1.05zM40 50h1.05v1.06h-1.05zM43 51h1.05v1.06h-1.05zM50 53h1.05v1.06h-1.05zM54 54h1.05v1.06h-1.05zM59 55h1.05v1.06h-1.05zM63 56h2.05v1.06h-2.05zM69 57h1.05v1.06h-1.05zM74 58h1.05v1.06h-1.05zM80 59h2.05v1.06h-2.05zM87 60h1.05v1.06h-1.05zM94 61h2.05v1.06h-2.05z"/><path fill="#2c2c2c" d="M1 2h1.05v1.06h-1.05zM9 31h1.05v1.06h-1.05zM18 40h1.05v1.06h-1.05zM21 42h1.05v1.06h-1.05zM31 47h1.05v1.06h-1.05zM36 49h1.05v1.06h-1.05zM39 50h1.05v1.06h-1.05zM42 51h1.05v1.06h-1.05zM46 52h1.05v1.06h-1.05zM49 53h1.05v1.06h-1.05zM53 54h1.05v1.06h-1.05zM58 55h1.05v1.06h-1.05zM62 56h1.05v1.06h-1.05zM67 57h2.05v1.06h-2.05zM73 58h1.05v1.06h-1.05zM79 59h1.05v1.06h-1.05zM85 60h2.05v1.06h-2.05zM93 61h1.05v1.06h-1.05zM100 62h1.05v1.06h-1.05z"/><path fill="#292929" d="M12 35h1.05v1.06h-1.05zM13 36h1.05v1.06h-1.05zM14 37h1.05v1.06h-1.05zM19 41h1.05v1.06h-1.05zM24 44h1.05v1.06h-1.05zM26 45h1.05v1.06h-1.05zM28 46h1.05v1.06h-1.05zM33 48h1.05v1.06h-1.05zM45 52h1.05v1.06h-1.05zM57 55h1.05v1.06h-1.05zM61 56h1.05v1.06h-1.05zM66 57h1.05v1.06h-1.05zM72 58h1.05v1.06h-1.05zM78 59h1.05v1.06h-1.05zM84 60h1.05v1.06h-1.05zM91 61h2.05v1.06h-2.05zM99 62h1.05v1.06h-1.05z"/><path fill="#262626" d="M3 17h1.05v1.06h-1.05zM6 26h1.05v1.06h-1.05zM7 28h1.05v1.06h-1.05zM11 34h1.05v1.06h-1.05zM15 38h1.05v1.06h-1.05zM22 43h1.05v1.06h-1.05zM30 47h1.05v1.06h-1.05zM35 49h1.05v1.06h-1.05zM38 50h1.05v1.06h-1.05zM41 51h1.05v1.06h-1.05zM44 52h1.05v1.06h-1.05zM48 53h1.05v1.06h-1.05zM52 54h1.05v1.06h-1.05zM56 55h1.05v1.06h-1.05zM60 56h1.05v1.06h-1.05zM65 57h1.05v1.06h-1.05zM71 58h1.05v1.06h-1.05zM76 59h2.05v1.06h-2.05zM83 60h1.05v1.06h-1.05zM90 61h1.05v1.06h-1.05zM97 62h2.05v1.06h-2.05z"/><path fill="#242424" d="M4 21h1.05v1.06h-1.05zM8 30h1.05v1.06h-1.05zM10 33h1.05v1.06h-1.05zM16 39h1.05v1.06h-1.05zM20 42h1.05v1.06h-1.05zM25 45h1.05v1.06h-1.05zM27 46h1.05v1.06h-1.05zM32 48h1.05v1.06h-1.05zM37 50h1.05v1.06h-1.05zM40 51h1.05v1.06h-1.05zM47 53h1.05v1.06h-1.05zM51 54h1.05v1.06h-1.05zM55 55h1.05v1.06h-1.05zM59 56h1.05v1.06h-1.05zM64 57h1.05v1.06h-1.05zM69 58h2.05v1.06h-2.05zM75 59h1.05v1.06h-1.05zM81 60h2.05v1.06h-2.05zM88 61h2.05v1.06h-2.05zM95 62h2.05v1.06h-2.05z"/><path fill="#212121" d="M1 3h1.05v1.06h-1.05zM2 12h1.05v1.06h-1.05zM5 24h1.05v1.06h-1.05zM17 40h1.05v1.06h-1.05zM23 44h1.05v1.06h-1.05zM29 47h1.05v1.06h-1.05zM31 48h1.05v1.06h-1.05zM34 49h1.05v1.06h-1.05zM43 52h1.05v1.06h-1.05zM46 53h1.05v1.06h-1.05zM50 54h1.05v1.06h-1.05zM54 55h1.05v1.06h-1.05zM58 56h1.05v1.06h-1.05zM63 57h1.05v1.06h-1.05zM68 58h1.05v1.06h-1.05zM74 59h1.05v1.06h-1.05zM80 60h1.05v1.06h-1.05zM87 61h1.05v1.06h-1.05zM94 62h1.05v1.06h-1.05z"/><path fill="#1f1f1f" d="M9 32h1.05v1.06h-1.05zM18 41h1.05v1.06h-1.05zM21 43h1.05v1.06h-1.05zM33 49h1.05v1.06h-1.05zM36 50h1.05v1.06h-1.05zM39 51h1.05v1.06h-1.05zM42 52h1.05v1.06h-1.05zM45 53h1.05v1.06h-1.05zM49 54h1.05v1.06h-1.05zM53 55h1.05v1.06h-1.05zM57 56h1.05v1.06h-1.05zM62 57h1.05v1.06h-1.05zM67 58h1.05v1.06h-1.05zM73 59h1.05v1.06h-1.05zM79 60h1.05v1.06h-1.05zM85 61h2.05v1.06h-2.05zM92 62h2.05v1.06h-2.05zM100 63h1.05v1.06h-1.05z"/><path fill="#1c1c1c" d="M6 27h1.05v1.06h-1.05zM7 29h1.05v1.06h-1.05zM12 36h1.05v1.06h-1.05zM13 37h1.05v1.06h-1.05zM14 38h1.05v1.06h-1.05zM15 39h1.05v1.06h-1.05zM19 42h1.05v1.06h-1.05zM22 44h1.05v1.06h-1.05zM24 45h1.05v1.06h-1.05zM26 46h1.05v1.06h-1.05zM28 47h1.05v1.06h-1.05zM30 48h1.05v1.06h-1.05zM35 50h1.05v1.06h-1.05zM38 51h1.05v1.06h-1.05zM41 52h1.05v1.06h-1.05zM48 54h1.05v1.06h-1.05zM52 55h1.05v1.06h-1.05zM56 56h1.05v1.06h-1.05zM61 57h1.05v1.06h-1.05zM66 58h1.05v1.06h-1.05zM71 59h2.05v1.06h-2.05zM77 60h2.05v1.06h-2.05zM84 61h1.05v1.06h-1.05zM91 62h1.05v1.06h-1.05zM98 63h2.05v1.06h-2.05z"/><path fill="#191919" d="M3 18h1.05v1.06h-1.05zM8 31h1.05v1.06h-1.05zM11 35h1.05v1.06h-1.05zM16 40h1.05v1.06h-1.05zM32 49h1.05v1.06h-1.05zM44 53h1.05v1.06h-1.05zM51 55h1.05v1.06h-1.05zM60 57h1.05v1.06h-1.05zM65 58h1.05v1.06h-1.05zM70 59h1.05v1.06h-1.05zM76 60h1.05v1.06h-1.05zM82 61h2.05v1.06h-2.05zM89 62h2.05v1.06h-2.05zM97 63h1.05v1.06h-1.05z"/><path fill="#171717" d="M2 13h1.05v1.06h-1.05zM4 22h1.05v1.06h-1.05zM5 25h1.05v1.06h-1.05zM10 34h1.05v1.06h-1.05zM17 41h1.05v1.06h-1.05zM20 43h1.05v1.06h-1.05zM23 45h1.05v1.06h-1.05zM25 46h1.05v1.06h-1.05zM27 47h1.05v1.06h-1.05zM29 48h1.05v1.06h-1.05zM34 50h1.05v1.06h-1.05zM37 51h1.05v1.06h-1.05zM40 52h1.05v1.06h-1.05zM43 53h1.05v1.06h-1.05zM47 54h1.05v1.06h-1.05zM55 56h1.05v1.06h-1.05zM59 57h1.05v1.06h-1.05zM64 58h1.05v1.06h-1.05zM69 59h1.05v1.06h-1.05zM75 60h1.05v1.06h-1.05zM81 61h1.05v1.06h-1.05zM88 62h1.05v1.06h-1.05zM95 63h2.05v1.06h-2.05z"/><path fill="#141414" d="M1 4h1.05v1.06h-1.05zM9 33h1.05v1.06h-1.05zM18 42h1.05v1.06h-1.05zM21 44h1.05v1.06h-1.05zM31 49h1.05v1.06h-1.05zM36 51h1.05v1.06h-1.05zM39 52h1.05v1.06h-1.05zM46 54h1.05v1.06h-1.05zM50 55h1.05v1.06h-1.05zM54 56h1.05v1.06h-1.05zM58 57h1.05v1.06h-1.05zM63 58h1.05v1.06h-1.05zM68 59h1.05v1.06h-1.05zM74 60h1.05v1.06h-1.05zM80 61h1.05v1.06h-1.05zM86 62h2.05v1.06h-2.05zM93 63h2.05v1.06h-2.05z"/><path fill="#111111" d="M13 38h1.05v1.06h-1.05zM26 47h1.05v1.06h-1.05zM33 50h1.05v1.06h-1.05zM42 53h1.05v1.06h-1.05zM45 54h1.05v1.06h-1.05zM49 55h1.05v1.06h-1.05zM53 56h1.05v1.06h-1.05zM57 57h1.05v1.06h-1.05zM62 58h1.05v1.06h-1.05zM67 59h1.05v1.06h-1.05zM72 60h2.05v1.06h-2.05zM78 61h2.05v1.06h-2.05zM85 62h1.05v1.06h-1.05zM92 63h1.05v1.06h-1.05zM100 64h1.05v1.06h-1.05z"/><path fill="#0e0e0e" d="M3 19h1.05v1.06h-1.05zM6 28h1.05v1.06h-1.05zM7 30h1.05v1.06h-1.05zM11 36h1.05v1.06h-1.05zM12 37h1.05v1.06h-1.05zM14 39h1.05v1.06h-1.05zM15 40h1.05v1.06h-1.05zM19 43h1.05v1.06h-1.05zM22 45h1.05v1.06h-1.05zM24 46h1.05v1.06h-1.05zM28 48h1.05v1.06h-1.05zM30 49h1.05v1.06h-1.05zM35 51h1.05v1.06h-1.05zM38 52h1.05v1.06h-1.05zM41 53h1.05v1.06h-1.05zM44 54h1.05v1.06h-1.05zM48 55h1.05v1.06h-1.05zM52 56h1.05v1.06h-1.05zM56 57h1.05v1.06h-1.05zM61 58h1.05v1.06h-1.05zM66 59h1.05v1.06h-1.05zM71 60h1.05v1.06h-1.05zM77 61h1.05v1.06h-1.05zM83 62h2.05v1.06h-2.05zM90 63h2.05v1.06h-2.05zM98 64h2.05v1.06h-2.05z"/><path fill="#090909" d="M4 23h1.05v1.06h-1.05zM8 32h1.05v1.06h-1.05zM10 35h1.05v1.06h-1.05zM16 41h1.05v1.06h-1.05zM20 44h1.05v1.06h-1.05zM32 50h1.05v1.06h-1.05zM37 52h1.05v1.06h-1.05zM47 55h1.05v1.06h-1.05zM51 56h1.05v1.06h-1.05zM55 57h1.05v1.06h-1.05zM60 58h1.05v1.06h-1.05zM65 59h1.05v1.06h-1.05zM70 60h1.05v1.06h-1.05zM76 61h1.05v1.06h-1.05zM82 62h1.05v1.06h-1.05zM89 63h1.05v1.06h-1.05zM96 64h2.05v1.06h-2.05z"/><path fill="#050505" d="M1 5h1.05v1.06h-1.05zM2 14h1.05v1.06h-1.05zM5 26h1.05v1.06h-1.05zM17 42h1.05v1.06h-1.05zM23 46h1.05v1.06h-1.05zM25 47h1.05v1.06h-1.05zM27 48h1.05v1.06h-1.05zM29 49h1.05v1.06h-1.05zM34 51h1.05v1.06h-1.05zM40 53h1.05v1.06h-1.05zM43 54h1.05v1.06h-1.05zM50 56h1.05v1.06h-1.05zM54 57h1.05v1.06h-1.05zM59 58h1.05v1.06h-1.05zM64 59h1.05v1.06h-1.05zM69 60h1.05v1.06h-1.05zM75 61h1.05v1.06h-1.05zM81 62h1.05v1.06h-1.05zM87 63h2.05v1.06h-2.05zM95 64h1.05v1.06h-1.05z"/><path fill="#000000" d="M9 34h1.05v1.06h-1.05zM18 43h1.05v1.06h-1.05zM21 45h1.05v1.06h-1.05zM31 50h1.05v1.06h-1.05zM36 52h1.05v1.06h-1.05zM39 53h1.05v1.06h-1.05zM42 54h1.05v1.06h-1.05zM46 55h1.05v1.06h-1.05zM49 56h1.05v1.06h-1.05zM53 57h1.05v1.06h-1.05zM58 58h1.05v1.06h-1.05zM63 59h1.05v1.06h-1.05zM68 60h1.05v1.06h-1.05zM73 61h2.05v1.06h-2.05zM79 62h2.05v1.06h-2.05zM86 63h1.05v1.06h-1.05zM93 64h2.05v1.06h-2.05z"/><path fill="#040502" d="M6 29h1.05v1.06h-1.05zM7 31h1.05v1.06h-1.05zM12 38h1.05v1.06h-1.05zM13 39h1.05v1.06h-1.05zM14 40h1.05v1.06h-1.05zM19 44h1.05v1.06h-1.05zM24 47h1.05v1.06h-1.05zM26 48h1.05v1.06h-1.05zM28 49h1.05v1.06h-1.05zM33 51h1.05v1.06h-1.05zM45 55h1.05v1.06h-1.05zM57 58h1.05v1.06h-1.05zM62 59h1.05v1.06h-1.05zM67 60h1.05v1.06h-1.05zM72 61h1.05v1.06h-1.05zM78 62h1.05v1.06h-1.05zM85 63h1.05v1.06h-1.05zM92 64h1.05v1.06h-1.05zM99 65h2.05v1.06h-2.05z"/><path fill="#090a04" d="M3 20h1.05v1.06h-1.05zM11 37h1.05v1.06h-1.05zM15 41h1.05v1.06h-1.05zM16 42h1.05v1.06h-1.05zM22 46h1.05v1.06h-1.05zM30 50h1.05v1.06h-1.05zM35 52h1.05v1.06h-1.05zM38 53h1.05v1.06h-1.05zM41 54h1.05v1.06h-1.05zM44 55h1.05v1.06h-1.05zM48 56h1.05v1.06h-1.05zM52 57h1.05v1.06h-1.05zM56 58h1.05v1.06h-1.05zM61 59h1.05v1.06h-1.05zM66 60h1.05v1.06h-1.05zM71 61h1.05v1.06h-1.05zM77 62h1.05v1.06h-1.05zM83 63h2.05v1.06h-2.05zM90 64h2.05v1.06h-2.05zM98 65h1.05v1.06h-1.05z"/><path fill="#0d0f06" d="M2 15h1.05v1.06h-1.05zM4 24h1.05v1.06h-1.05zM5 27h1.05v1.06h-1.05zM8 33h1.05v1.06h-1.05zM10 36h1.05v1.06h-1.05zM17 43h1.05v1.06h-1.05zM20 45h1.05v1.06h-1.05zM25 48h1.05v1.06h-1.05zM27 49h1.05v1.06h-1.05zM32 51h1.05v1.06h-1.05zM37 53h1.05v1.06h-1.05zM40 54h1.05v1.06h-1.05zM47 56h1.05v1.06h-1.05zM51 57h1.05v1.06h-1.05zM55 58h1.05v1.06h-1.05zM60 59h1.05v1.06h-1.05zM64 60h2.05v1.06h-2.05zM70 61h1.05v1.06h-1.05zM76 62h1.05v1.06h-1.05zM82 63h1.05v1.06h-1.05zM89 64h1.05v1.06h-1.05zM96 65h2.05v1.06h-2.05z"/><path fill="#101208" d="M1 6h1.05v1.06h-1.05zM23 47h1.05v1.06h-1.05zM29 50h1.05v1.06h-1.05zM31 51h1.05v1.06h-1.05zM34 52h1.05v1.06h-1.05zM43 55h1.05v1.06h-1.05zM46 56h1.05v1.06h-1.05zM50 57h1.05v1.06h-1.05zM54 58h1.05v1.06h-1.05zM59 59h1.05v1.06h-1.05zM63 60h1.05v1.06h-1.05zM69 61h1.05v1.06h-1.05zM74 62h2.05v1.06h-2.05zM81 63h1.05v1.06h-1.05zM87 64h2.05v1.06h-2.05zM95 65h1.05v1.06h-1.05z"/><path fill="#13150a" d="M9 35h1.05v1.06h-1.05zM18 44h1.05v1.06h-1.05zM21 46h1.05v1.06h-1.05zM33 52h1.05v1.06h-1.05zM36 53h1.05v1.06h-1.05zM39 54h1.05v1.06h-1.05zM42 55h1.05v1.06h-1.05zM49 57h1.05v1.06h-1.05zM53 58h1.05v1.06h-1.05zM58 59h1.05v1.06h-1.05zM62 60h1.05v1.06h-1.05zM68 61h1.05v1.06h-1.05zM73 62h1.05v1.06h-1.05zM79 63h2.05v1.06h-2.05zM86 64h1.05v1.06h-1.05zM93 65h2.05v1.06h-2.05z"/><path fill="#16180b" d="M3 21h1.05v1.06h-1.05zM6 30h1.05v1.06h-1.05zM7 32h1.05v1.06h-1.05zM11 38h1.05v1.06h-1.05zM12 39h1.05v1.06h-1.05zM13 40h1.05v1.06h-1.05zM14 41h1.05v1.06h-1.05zM15 42h1.05v1.06h-1.05zM19 45h1.05v1.06h-1.05zM22 47h1.05v1.06h-1.05zM24 48h1.05v1.06h-1.05zM26 49h1.05v1.06h-1.05zM28 50h1.05v1.06h-1.05zM30 51h1.05v1.06h-1.05zM38 54h1.05v1.06h-1.05zM41 55h1.05v1.06h-1.05zM45 56h1.05v1.06h-1.05zM48 57h1.05v1.06h-1.05zM52 58h1.05v1.06h-1.05zM57 59h1.05v1.06h-1.05zM61 60h1.05v1.06h-1.05zM66 61h2.05v1.06h-2.05zM72 62h1.05v1.06h-1.05zM78 63h1.05v1.06h-1.05zM84 64h2.05v1.06h-2.05zM92 65h1.05v1.06h-1.05zM99 66h2.05v1.06h-2.05z"/><path fill="#181b0d" d="M4 25h1.05v1.06h-1.05zM8 34h1.05v1.06h-1.05zM10 37h1.05v1.06h-1.05zM16 43h1.05v1.06h-1.05zM20 46h1.05v1.06h-1.05zM32 52h1.05v1.06h-1.05zM35 53h1.05v1.06h-1.05zM44 56h1.05v1.06h-1.05zM56 59h1.05v1.06h-1.05zM60 60h1.05v1.06h-1.05zM65 61h1.05v1.06h-1.05zM71 62h1.05v1.06h-1.05zM77 63h1.05v1.06h-1.05zM83 64h1.05v1.06h-1.05zM90 65h2.05v1.06h-2.05zM98 66h1.05v1.06h-1.05z"/><path fill="#1a1d0f" d="M1 7h1.05v1.06h-1.05zM2 16h1.05v1.06h-1.05zM5 28h1.05v1.06h-1.05zM17 44h1.05v1.06h-1.05zM23 48h1.05v1.06h-1.05zM25 49h1.05v1.06h-1.05zM27 50h1.05v1.06h-1.05zM29 51h1.05v1.06h-1.05zM34 53h1.05v1.06h-1.05zM37 54h1.05v1.06h-1.05zM40 55h1.05v1.06h-1.05zM43 56h1.05v1.06h-1.05zM47 57h1.05v1.06h-1.05zM51 58h1.05v1.06h-1.05zM55 59h1.05v1.06h-1.05zM59 60h1.05v1.06h-1.05zM64 61h1.05v1.06h-1.05zM70 62h1.05v1.06h-1.05zM75 63h2.05v1.06h-2.05zM82 64h1.05v1.06h-1.05zM89 65h1.05v1.06h-1.05zM96 66h2.05v1.06h-2.05z"/><path fill="#1c2010" d="M9 36h1.05v1.06h-1.05zM18 45h1.05v1.06h-1.05zM21 47h1.05v1.06h-1.05zM31 52h1.05v1.06h-1.05zM39 55h1.05v1.06h-1.05zM46 57h1.05v1.06h-1.05zM50 58h1.05v1.06h-1.05zM54 59h1.05v1.06h-1.05zM58 60h1.05v1.06h-1.05zM63 61h1.05v1.06h-1.05zM68 62h2.05v1.06h-2.05zM74 63h1.05v1.06h-1.05zM80 64h2.05v1.06h-2.05zM87 65h2.05v1.06h-2.05zM95 66h1.05v1.06h-1.05z"/><path fill="#1e2311" d="M12 40h1.05v1.06h-1.05zM13 41h1.05v1.06h-1.05zM14 42h1.05v1.06h-1.05zM24 49h1.05v1.06h-1.05zM26 50h1.05v1.06h-1.05zM33 53h1.05v1.06h-1.05zM36 54h1.05v1.06h-1.05zM42 56h1.05v1.06h-1.05zM45 57h1.05v1.06h-1.05zM49 58h1.05v1.06h-1.05zM53 59h1.05v1.06h-1.05zM57 60h1.05v1.06h-1.05zM62 61h1.05v1.06h-1.05zM67 62h1.05v1.06h-1.05zM73 63h1.05v1.06h-1.05zM79 64h1.05v1.06h-1.05zM86 65h1.05v1.06h-1.05zM93 66h2.05v1.06h-2.05z"/><path fill="#202612" d="M3 22h1.05v1.06h-1.05zM6 31h1.05v1.06h-1.05zM7 33h1.05v1.06h-1.05zM11 39h1.05v1.06h-1.05zM15 43h1.05v1.06h-1.05zM19 46h1.05v1.06h-1.05zM22 48h1.05v1.06h-1.05zM28 51h1.05v1.06h-1.05zM30 52h1.05v1.06h-1.05zM35 54h1.05v1.06h-1.05zM38 55h1.05v1.06h-1.05zM41 56h1.05v1.06h-1.05zM48 58h1.05v1.06h-1.05zM52 59h1.05v1.06h-1.05zM56 60h1.05v1.06h-1.05zM61 61h1.05v1.06h-1.05zM66 62h1.05v1.06h-1.05zM72 63h1.05v1.06h-1.05zM78 64h1.05v1.06h-1.05zM84 65h2.05v1.06h-2.05zM91 66h2.05v1.06h-2.05zM99 67h2.05v1.06h-2.05z"/><path fill="#222913" d="M2 17h1.05v1.06h-1.05zM4 26h1.05v1.06h-1.05zM5 29h1.05v1.06h-1.05zM8 35h1.05v1.06h-1.05zM10 38h1.05v1.06h-1.05zM16 44h1.05v1.06h-1.05zM20 47h1.05v1.06h-1.05zM32 53h1.05v1.06h-1.05zM44 57h1.05v1.06h-1.05zM47 58h1.05v1.06h-1.05zM51 59h1.05v1.06h-1.05zM60 61h1.05v1.06h-1.05zM65 62h1.05v1.06h-1.05zM70 63h2.05v1.06h-2.05zM76 64h2.05v1.06h-2.05zM83 65h1.05v1.06h-1.05zM90 66h1.05v1.06h-1.05zM98 67h1.05v1.06h-1.05z"/><path fill="#242c14" d="M1 8h1.05v1.06h-1.05zM17 45h1.05v1.06h-1.05zM23 49h1.05v1.06h-1.05zM25 50h1.05v1.06h-1.05zM27 51h1.05v1.06h-1.05zM29 52h1.05v1.06h-1.05zM34 54h1.05v1.06h-1.05zM37 55h1.05v1.06h-1.05zM40 56h1.05v1.06h-1.05zM43 57h1.05v1.06h-1.05zM50 59h1.05v1.06h-1.05zM55 60h1.05v1.06h-1.05zM59 61h1.05v1.06h-1.05zM64 62h1.05v1.06h-1.05zM69 63h1.05v1.06h-1.05zM75 64h1.05v1.06h-1.05zM81 65h2.05v1.06h-2.05zM88 66h2.05v1.06h-2.05zM96 67h2.05v1.06h-2.05z"/><path fill="#272f15" d="M9 37h1.05v1.06h-1.05zM18 46h1.05v1.06h-1.05zM21 48h1.05v1.06h-1.05zM31 53h1.05v1.06h-1.05zM36 55h1.05v1.06h-1.05zM39 56h1.05v1.06h-1.05zM42 57h1.05v1.06h-1.05zM46 58h1.05v1.06h-1.05zM54 60h1.05v1.06h-1.05zM58 61h1.05v1.06h-1.05zM63 62h1.05v1.06h-1.05zM68 63h1.05v1.06h-1.05zM74 64h1.05v1.06h-1.05zM80 65h1.05v1.06h-1.05zM87 66h1.05v1.06h-1.05zM94 67h2.05v1.06h-2.05z"/><path fill="#293215" d="M3 23h1.05v1.06h-1.05zM6 32h1.05v1.06h-1.05zM7 34h1.05v1.06h-1.05zM12 41h1.05v1.06h-1.05zM13 42h1.05v1.06h-1.05zM14 43h1.05v1.06h-1.05zM15 44h1.05v1.06h-1.05zM19 47h1.05v1.06h-1.05zM24 50h1.05v1.06h-1.05zM26 51h1.05v1.06h-1.05zM28 52h1.05v1.06h-1.05zM33 54h1.05v1.06h-1.05zM45 58h1.05v1.06h-1.05zM49 59h1.05v1.06h-1.05zM53 60h1.05v1.06h-1.05zM57 61h1.05v1.06h-1.05zM62 62h1.05v1.06h-1.05zM67 63h1.05v1.06h-1.05zM73 64h1.05v1.06h-1.05zM79 65h1.05v1.06h-1.05zM85 66h2.05v1.06h-2.05zM93 67h1.05v1.06h-1.05z"/><path fill="#2b3516" d="M8 36h1.05v1.06h-1.05zM11 40h1.05v1.06h-1.05zM16 45h1.05v1.06h-1.05zM22 49h1.05v1.06h-1.05zM30 53h1.05v1.06h-1.05zM32 54h1.05v1.06h-1.05zM35 55h1.05v1.06h-1.05zM38 56h1.05v1.06h-1.05zM41 57h1.05v1.06h-1.05zM44 58h1.05v1.06h-1.05zM48 59h1.05v1.06h-1.05zM52 60h1.05v1.06h-1.05zM56 61h1.05v1.06h-1.05zM61 62h1.05v1.06h-1.05zM66 63h1.05v1.06h-1.05zM71 64h2.05v1.06h-2.05zM77 65h2.05v1.06h-2.05zM84 66h1.05v1.06h-1.05zM91 67h2.05v1.06h-2.05zM99 68h2.05v1.06h-2.05z"/><path fill="#2d3817" d="M1 9h1.05v1.06h-1.05zM2 18h1.05v1.06h-1.05zM4 27h1.05v1.06h-1.05zM5 30h1.05v1.06h-1.05zM10 39h1.05v1.06h-1.05zM17 46h1.05v1.06h-1.05zM20 48h1.05v1.06h-1.05zM25 51h1.05v1.06h-1.05zM27 52h1.05v1.06h-1.05zM37 56h1.05v1.06h-1.05zM40 57h1.05v1.06h-1.05zM47 59h1.05v1.06h-1.05zM51 60h1.05v1.06h-1.05zM55 61h1.05v1.06h-1.05zM60 62h1.05v1.06h-1.05zM65 63h1.05v1.06h-1.05zM70 64h1.05v1.06h-1.05zM76 65h1.05v1.06h-1.05zM83 66h1.05v1.06h-1.05zM90 67h1.05v1.06h-1.05zM97 68h2.05v1.06h-2.05z"/><path fill="#303b18" d="M9 38h1.05v1.06h-1.05zM18 47h1.05v1.06h-1.05zM21 49h1.05v1.06h-1.05zM23 50h1.05v1.06h-1.05zM29 53h1.05v1.06h-1.05zM31 54h1.05v1.06h-1.05zM34 55h1.05v1.06h-1.05zM43 58h1.05v1.06h-1.05zM46 59h1.05v1.06h-1.05zM50 60h1.05v1.06h-1.05zM54 61h1.05v1.06h-1.05zM59 62h1.05v1.06h-1.05zM64 63h1.05v1.06h-1.05zM69 64h1.05v1.06h-1.05zM75 65h1.05v1.06h-1.05zM81 66h2.05v1.06h-2.05zM88 67h2.05v1.06h-2.05zM96 68h1.05v1.06h-1.05z"/><path fill="#323e19" d="M12 42h1.05v1.06h-1.05zM13 43h1.05v1.06h-1.05zM14 44h1.05v1.06h-1.05zM26 52h1.05v1.06h-1.05zM33 55h1.05v1.06h-1.05zM36 56h1.05v1.06h-1.05zM39 57h1.05v1.06h-1.05zM42 58h1.05v1.06h-1.05zM49 60h1.05v1.06h-1.05zM53 61h1.05v1.06h-1.05zM58 62h1.05v1.06h-1.05zM63 63h1.05v1.06h-1.05zM68 64h1.05v1.06h-1.05zM74 65h1.05v1.06h-1.05zM80 66h1.05v1.06h-1.05zM87 67h1.05v1.06h-1.05zM94 68h2.05v1.06h-2.05z"/><path fill="#344119" d="M3 24h1.05v1.06h-1.05zM6 33h1.05v1.06h-1.05zM7 35h1.05v1.06h-1.05zM11 41h1.05v1.06h-1.05zM15 45h1.05v1.06h-1.05zM19 48h1.05v1.06h-1.05zM22 50h1.05v1.06h-1.05zM24 51h1.05v1.06h-1.05zM28 53h1.05v1.06h-1.05zM30 54h1.05v1.06h-1.05zM35 56h1.05v1.06h-1.05zM38 57h1.05v1.06h-1.05zM41 58h1.05v1.06h-1.05zM45 59h1.05v1.06h-1.05zM57 62h1.05v1.06h-1.05zM62 63h1.05v1.06h-1.05zM67 64h1.05v1.06h-1.05zM72 65h2.05v1.06h-2.05zM79 66h1.05v1.06h-1.05zM85 67h2.05v1.06h-2.05zM93 68h1.05v1.06h-1.05z"/><path fill="#37441a" d="M2 19h1.05v1.06h-1.05zM4 28h1.05v1.06h-1.05zM5 31h1.05v1.06h-1.05zM8 37h1.05v1.06h-1.05zM10 40h1.05v1.06h-1.05zM16 46h1.05v1.06h-1.05zM20 49h1.05v1.06h-1.05zM32 55h1.05v1.06h-1.05zM44 59h1.05v1.06h-1.05zM48 60h1.05v1.06h-1.05zM52 61h1.05v1.06h-1.05zM56 62h1.05v1.06h-1.05zM61 63h1.05v1.06h-1.05zM66 64h1.05v1.06h-1.05zM71 65h1.05v1.06h-1.05zM77 66h2.05v1.06h-2.05zM84 67h1.05v1.06h-1.05zM91 68h2.05v1.06h-2.05zM99 69h2.05v1.06h-2.05z"/><path fill="#39471b" d="M1 10h1.05v1.06h-1.05zM17 47h1.05v1.06h-1.05zM23 51h1.05v1.06h-1.05zM25 52h1.05v1.06h-1.05zM27 53h1.05v1.06h-1.05zM29 54h1.05v1.06h-1.05zM34 56h1.05v1.06h-1.05zM37 57h1.05v1.06h-1.05zM40 58h1.05v1.06h-1.05zM43 59h1.05v1.06h-1.05zM47 60h1.05v1.06h-1.05zM51 61h1.05v1.06h-1.05zM55 62h1.05v1.06h-1.05zM60 63h1.05v1.06h-1.05zM65 64h1.05v1.06h-1.05zM70 65h1.05v1.06h-1.05zM76 66h1.05v1.06h-1.05zM82 67h2.05v1.06h-2.05zM89 68h2.05v1.06h-2.05zM97 69h2.05v1.06h-2.05z"/><path fill="#3b4a1c" d="M9 39h1.05v1.06h-1.05zM18 48h1.05v1.06h-1.05zM21 50h1.05v1.06h-1.05zM31 55h1.05v1.06h-1.05zM36 57h1.05v1.06h-1.05zM39 58h1.05v1.06h-1.05zM46 60h1.05v1.06h-1.05zM50 61h1.05v1.06h-1.05zM54 62h1.05v1.06h-1.05zM59 63h1.05v1.06h-1.05zM63 64h2.05v1.06h-2.05zM69 65h1.05v1.06h-1.05zM75 66h1.05v1.06h-1.05zM81 67h1.05v1.06h-1.05zM88 68h1.05v1.06h-1.05zM96 69h1.05v1.06h-1.05z"/><path fill="#3e4e1c" d="M3 25h1.05v1.06h-1.05zM6 34h1.05v1.06h-1.05zM7 36h1.05v1.06h-1.05zM11 42h1.05v1.06h-1.05zM12 43h1.05v1.06h-1.05zM13 44h1.05v1.06h-1.05zM14 45h1.05v1.06h-1.05zM15 46h1.05v1.06h-1.05zM19 49h1.05v1.06h-1.05zM24 52h1.05v1.06h-1.05zM26 53h1.05v1.06h-1.05zM28 54h1.05v1.06h-1.05zM33 56h1.05v1.06h-1.05zM42 59h1.05v1.06h-1.05zM45 60h1.05v1.06h-1.05zM49 61h1.05v1.06h-1.05zM53 62h1.05v1.06h-1.05zM58 63h1.05v1.06h-1.05zM62 64h1.05v1.06h-1.05zM68 65h1.05v1.06h-1.05zM73 66h2.05v1.06h-2.05zM80 67h1.05v1.06h-1.05zM86 68h2.05v1.06h-2.05zM94 69h2.05v1.06h-2.05z"/><path fill="#40511d" d="M4 29h1.05v1.06h-1.05zM8 38h1.05v1.06h-1.05zM16 47h1.05v1.06h-1.05zM22 51h1.05v1.06h-1.05zM30 55h1.05v1.06h-1.05zM35 57h1.05v1.06h-1.05zM38 58h1.05v1.06h-1.05zM41 59h1.05v1.06h-1.05zM48 61h1.05v1.06h-1.05zM52 62h1.05v1.06h-1.05zM57 63h1.05v1.06h-1.05zM61 64h1.05v1.06h-1.05zM66 65h2.05v1.06h-2.05zM72 66h1.05v1.06h-1.05zM78 67h2.05v1.06h-2.05zM85 68h1.05v1.06h-1.05zM92 69h2.05v1.06h-2.05zM100 70h1.05v1.06h-1.05z"/><path fill="#42541e" d="M1 11h1.05v1.06h-1.05zM2 20h1.05v1.06h-1.05zM5 32h1.05v1.06h-1.05zM10 41h1.05v1.06h-1.05zM17 48h1.05v1.06h-1.05zM20 50h1.05v1.06h-1.05zM25 53h1.05v1.06h-1.05zM27 54h1.05v1.06h-1.05zM32 56h1.05v1.06h-1.05zM37 58h1.05v1.06h-1.05zM40 59h1.05v1.06h-1.05zM44 60h1.05v1.06h-1.05zM47 61h1.05v1.06h-1.05zM51 62h1.05v1.06h-1.05zM56 63h1.05v1.06h-1.05zM60 64h1.05v1.06h-1.05zM65 65h1.05v1.06h-1.05zM71 66h1.05v1.06h-1.05zM77 67h1.05v1.06h-1.05zM83 68h2.05v1.06h-2.05zM91 69h1.05v1.06h-1.05zM99 70h1.05v1.06h-1.05z"/><path fill="#45571e" d="M9 40h1.05v1.06h-1.05zM18 49h1.05v1.06h-1.05zM21 51h1.05v1.06h-1.05zM23 52h1.05v1.06h-1.05zM29 55h1.05v1.06h-1.05zM31 56h1.05v1.06h-1.05zM34 57h1.05v1.06h-1.05zM43 60h1.05v1.06h-1.05zM50 62h1.05v1.06h-1.05zM55 63h1.05v1.06h-1.05zM59 64h1.05v1.06h-1.05zM64 65h1.05v1.06h-1.05zM70 66h1.05v1.06h-1.05zM76 67h1.05v1.06h-1.05zM82 68h1.05v1.06h-1.05zM89 69h2.05v1.06h-2.05zM97 70h2.05v1.06h-2.05z"/><path fill="#475b1f" d="M6 35h1.05v1.06h-1.05zM7 37h1.05v1.06h-1.05zM12 44h1.05v1.06h-1.05zM13 45h1.05v1.06h-1.05zM14 46h1.05v1.06h-1.05zM26 54h1.05v1.06h-1.05zM33 57h1.05v1.06h-1.05zM36 58h1.05v1.06h-1.05zM39 59h1.05v1.06h-1.05zM42 60h1.05v1.06h-1.05zM46 61h1.05v1.06h-1.05zM54 63h1.05v1.06h-1.05zM58 64h1.05v1.06h-1.05zM63 65h1.05v1.06h-1.05zM68 66h2.05v1.06h-2.05zM74 67h2.05v1.06h-2.05zM81 68h1.05v1.06h-1.05zM88 69h1.05v1.06h-1.05zM95 70h2.05v1.06h-2.05z"/><path fill="#4a5e20" d="M3 26h1.05v1.06h-1.05zM8 39h1.05v1.06h-1.05zM11 43h1.05v1.06h-1.05zM15 47h1.05v1.06h-1.05zM19 50h1.05v1.06h-1.05zM22 52h1.05v1.06h-1.05zM24 53h1.05v1.06h-1.05zM28 55h1.05v1.06h-1.05zM30 56h1.05v1.06h-1.05zM38 59h1.05v1.06h-1.05zM45 61h1.05v1.06h-1.05zM49 62h1.05v1.06h-1.05zM53 63h1.05v1.06h-1.05zM57 64h1.05v1.06h-1.05zM62 65h1.05v1.06h-1.05zM67 66h1.05v1.06h-1.05zM73 67h1.05v1.06h-1.05zM79 68h2.05v1.06h-2.05zM86 69h2.05v1.06h-2.05zM94 70h1.05v1.06h-1.05z"/><path fill="#4c6120" d="M2 21h1.05v1.06h-1.05zM4 30h1.05v1.06h-1.05zM5 33h1.05v1.06h-1.05zM10 42h1.05v1.06h-1.05zM16 48h1.05v1.06h-1.05zM17 49h1.05v1.06h-1.05zM20 51h1.05v1.06h-1.05zM32 57h1.05v1.06h-1.05zM35 58h1.05v1.06h-1.05zM41 60h1.05v1.06h-1.05zM44 61h1.05v1.06h-1.05zM48 62h1.05v1.06h-1.05zM52 63h1.05v1.06h-1.05zM56 64h1.05v1.06h-1.05zM61 65h1.05v1.06h-1.05zM66 66h1.05v1.06h-1.05zM72 67h1.05v1.06h-1.05zM78 68h1.05v1.06h-1.05zM85 69h1.05v1.06h-1.05zM92 70h2.05v1.06h-2.05zM100 71h1.05v1.06h-1.05z"/><path fill="#4e6521" d="M1 12h1.05v1.06h-1.05zM9 41h1.05v1.06h-1.05zM23 53h1.05v1.06h-1.05zM25 54h1.05v1.06h-1.05zM27 55h1.05v1.06h-1.05zM29 56h1.05v1.06h-1.05zM34 58h1.05v1.06h-1.05zM37 59h1.05v1.06h-1.05zM40 60h1.05v1.06h-1.05zM43 61h1.05v1.06h-1.05zM47 62h1.05v1.06h-1.05zM51 63h1.05v1.06h-1.05zM55 64h1.05v1.06h-1.05zM60 65h1.05v1.06h-1.05zM65 66h1.05v1.06h-1.05zM70 67h2.05v1.06h-2.05zM76 68h2.05v1.06h-2.05zM83 69h2.05v1.06h-2.05zM90 70h2.05v1.06h-2.05zM98 71h2.05v1.06h-2.05z"/><path fill="#516822" d="M13 46h1.05v1.06h-1.05zM18 50h1.05v1.06h-1.05zM21 52h1.05v1.06h-1.05zM31 57h1.05v1.06h-1.05zM36 59h1.05v1.06h-1.05zM39 60h1.05v1.06h-1.05zM46 62h1.05v1.06h-1.05zM50 63h1.05v1.06h-1.05zM54 64h1.05v1.06h-1.05zM59 65h1.05v1.06h-1.05zM64 66h1.05v1.06h-1.05zM69 67h1.05v1.06h-1.05zM75 68h1.05v1.06h-1.05zM82 69h1.05v1.06h-1.05zM89 70h1.05v1.06h-1.05zM97 71h1.05v1.06h-1.05z"/><path fill="#536b23" d="M3 27h1.05v1.06h-1.05zM6 36h1.05v1.06h-1.05zM7 38h1.05v1.06h-1.05zM11 44h1.05v1.06h-1.05zM12 45h1.05v1.06h-1.05zM14 47h1.05v1.06h-1.05zM15 48h1.05v1.06h-1.05zM19 51h1.05v1.06h-1.05zM22 53h1.05v1.06h-1.05zM24 54h1.05v1.06h-1.05zM26 55h1.05v1.06h-1.05zM28 56h1.05v1.06h-1.05zM33 58h1.05v1.06h-1.05zM42 61h1.05v1.06h-1.05zM45 62h1.05v1.06h-1.05zM49 63h1.05v1.06h-1.05zM53 64h1.05v1.06h-1.05zM58 65h1.05v1.06h-1.05zM63 66h1.05v1.06h-1.05zM68 67h1.05v1.06h-1.05zM74 68h1.05v1.06h-1.05zM80 69h2.05v1.06h-2.05zM87 70h2.05v1.06h-2.05zM95 71h2.05v1.06h-2.05z"/><path fill="#566f23" d="M2 22h1.05v1.06h-1.05zM4 31h1.05v1.06h-1.05zM5 34h1.05v1.06h-1.05zM8 40h1.05v1.06h-1.05zM10 43h1.05v1.06h-1.05zM16 49h1.05v1.06h-1.05zM20 52h1.05v1.06h-1.05zM30 57h1.05v1.06h-1.05zM35 59h1.05v1.06h-1.05zM38 60h1.05v1.06h-1.05zM41 61h1.05v1.06h-1.05zM48 63h1.05v1.06h-1.05zM52 64h1.05v1.06h-1.05zM57 65h1.05v1.06h-1.05zM61 66h2.05v1.06h-2.05zM67 67h1.05v1.06h-1.05zM72 68h2.05v1.06h-2.05zM79 69h1.05v1.06h-1.05zM86 70h1.05v1.06h-1.05zM93 71h2.05v1.06h-2.05z"/><path fill="#587224" d="M1 13h1.05v1.06h-1.05zM17 50h1.05v1.06h-1.05zM23 54h1.05v1.06h-1.05zM25 55h1.05v1.06h-1.05zM27 56h1.05v1.06h-1.05zM32 58h1.05v1.06h-1.05zM37 60h1.05v1.06h-1.05zM40 61h1.05v1.06h-1.05zM44 62h1.05v1.06h-1.05zM47 63h1.05v1.06h-1.05zM51 64h1.05v1.06h-1.05zM56 65h1.05v1.06h-1.05zM60 66h1.05v1.06h-1.05zM66 67h1.05v1.06h-1.05zM71 68h1.05v1.06h-1.05zM77 69h2.05v1.06h-2.05zM84 70h2.05v1.06h-2.05zM91 71h2.05v1.06h-2.05zM100 72h1.05v1.06h-1.05z"/><path fill="#5b7624" d="M9 42h1.05v1.06h-1.05zM18 51h1.05v1.06h-1.05zM21 53h1.05v1.06h-1.05zM29 57h1.05v1.06h-1.05zM31 58h1.05v1.06h-1.05zM34 59h1.05v1.06h-1.05zM43 62h1.05v1.06h-1.05zM50 64h1.05v1.06h-1.05zM55 65h1.05v1.06h-1.05zM59 66h1.05v1.06h-1.05zM64 67h2.05v1.06h-2.05zM70 68h1.05v1.06h-1.05zM76 69h1.05v1.06h-1.05zM83 70h1.05v1.06h-1.05zM90 71h1.05v1.06h-1.05zM98 72h2.05v1.06h-2.05z"/><path fill="#5d7925" d="M3 28h1.05v1.06h-1.05zM6 37h1.05v1.06h-1.05zM7 39h1.05v1.06h-1.05zM11 45h1.05v1.06h-1.05zM12 46h1.05v1.06h-1.05zM13 47h1.05v1.06h-1.05zM14 48h1.05v1.06h-1.05zM15 49h1.05v1.06h-1.05zM19 52h1.05v1.06h-1.05zM24 55h1.05v1.06h-1.05zM26 56h1.05v1.06h-1.05zM28 57h1.05v1.06h-1.05zM33 59h1.05v1.06h-1.05zM36 60h1.05v1.06h-1.05zM39 61h1.05v1.06h-1.05zM42 62h1.05v1.06h-1.05zM46 63h1.05v1.06h-1.05zM54 65h1.05v1.06h-1.05zM58 66h1.05v1.06h-1.05zM63 67h1.05v1.06h-1.05zM69 68h1.05v1.06h-1.05zM75 69h1.05v1.06h-1.05zM81 70h2.05v1.06h-2.05zM88 71h2.05v1.06h-2.05zM96 72h2.05v1.06h-2.05z"/><path fill="#607d26" d="M2 23h1.05v1.06h-1.05zM4 32h1.05v1.06h-1.05zM5 35h1.05v1.06h-1.05zM8 41h1.05v1.06h-1.05zM10 44h1.05v1.06h-1.05zM16 50h1.05v1.06h-1.05zM22 54h1.05v1.06h-1.05zM30 58h1.05v1.06h-1.05zM35 60h1.05v1.06h-1.05zM38 61h1.05v1.06h-1.05zM41 62h1.05v1.06h-1.05zM45 63h1.05v1.06h-1.05zM49 64h1.05v1.06h-1.05zM53 65h1.05v1.06h-1.05zM57 66h1.05v1.06h-1.05zM62 67h1.05v1.06h-1.05zM67 68h2.05v1.06h-2.05zM73 69h2.05v1.06h-2.05zM80 70h1.05v1.06h-1.05zM87 71h1.05v1.06h-1.05zM94 72h2.05v1.06h-2.05z"/><path fill="#628026" d="M1 14h1.05v1.06h-1.05zM17 51h1.05v1.06h-1.05zM20 53h1.05v1.06h-1.05zM25 56h1.05v1.06h-1.05zM27 57h1.05v1.06h-1.05zM32 59h1.05v1.06h-1.05zM44 63h1.05v1.06h-1.05zM48 64h1.05v1.06h-1.05zM52 65h1.05v1.06h-1.05zM56 66h1.05v1.06h-1.05zM61 67h1.05v1.06h-1.05zM66 68h1.05v1.06h-1.05zM72 69h1.05v1.06h-1.05zM78 70h2.05v1.06h-2.05zM85 71h2.05v1.06h-2.05zM93 72h1.05v1.06h-1.05z"/><path fill="#658427" d="M9 43h1.05v1.06h-1.05zM18 52h1.05v1.06h-1.05zM21 54h1.05v1.06h-1.05zM23 55h1.05v1.06h-1.05zM29 58h1.05v1.06h-1.05zM34 60h1.05v1.06h-1.05zM37 61h1.05v1.06h-1.05zM40 62h1.05v1.06h-1.05zM43 63h1.05v1.06h-1.05zM47 64h1.05v1.06h-1.05zM51 65h1.05v1.06h-1.05zM55 66h1.05v1.06h-1.05zM60 67h1.05v1.06h-1.05zM65 68h1.05v1.06h-1.05zM71 69h1.05v1.06h-1.05zM77 70h1.05v1.06h-1.05zM83 71h2.05v1.06h-2.05zM91 72h2.05v1.06h-2.05zM99 73h2.05v1.06h-2.05z"/><path fill="#688728" d="M3 29h1.05v1.06h-1.05zM6 38h1.05v1.06h-1.05zM7 40h1.05v1.06h-1.05zM12 47h1.05v1.06h-1.05zM13 48h1.05v1.06h-1.05zM14 49h1.05v1.06h-1.05zM19 53h1.05v1.06h-1.05zM24 56h1.05v1.06h-1.05zM26 57h1.05v1.06h-1.05zM31 59h1.05v1.06h-1.05zM33 60h1.05v1.06h-1.05zM36 61h1.05v1.06h-1.05zM39 62h1.05v1.06h-1.05zM42 63h1.05v1.06h-1.05zM46 64h1.05v1.06h-1.05zM50 65h1.05v1.06h-1.05zM54 66h1.05v1.06h-1.05zM59 67h1.05v1.06h-1.05zM64 68h1.05v1.06h-1.05zM69 69h2.05v1.06h-2.05zM75 70h2.05v1.06h-2.05zM82 71h1.05v1.06h-1.05zM89 72h2.05v1.06h-2.05zM97 73h2.05v1.06h-2.05z"/><path fill="#6a8b28" d="M4 33h1.05v1.06h-1.05zM8 42h1.05v1.06h-1.05zM10 45h1.05v1.06h-1.05zM11 46h1.05v1.06h-1.05zM15 50h1.05v1.06h-1.05zM16 51h1.05v1.06h-1.05zM22 55h1.05v1.06h-1.05zM28 58h1.05v1.06h-1.05zM30 59h1.05v1.06h-1.05zM38 62h1.05v1.06h-1.05zM45 64h1.05v1.06h-1.05zM49 65h1.05v1.06h-1.05zM53 66h1.05v1.06h-1.05zM58 67h1.05v1.06h-1.05zM62 68h2.05v1.06h-2.05zM68 69h1.05v1.06h-1.05zM74 70h1.05v1.06h-1.05zM80 71h2.05v1.06h-2.05zM88 72h1.05v1.06h-1.05zM95 73h2.05v1.06h-2.05z"/><path fill="#6d8e29" d="M1 15h1.05v1.06h-1.05zM2 24h1.05v1.06h-1.05zM5 36h1.05v1.06h-1.05zM17 52h1.05v1.06h-1.05zM20 54h1.05v1.06h-1.05zM25 57h1.05v1.06h-1.05zM32 60h1.05v1.06h-1.05zM35 61h1.05v1.06h-1.05zM41 63h1.05v1.06h-1.05zM44 64h1.05v1.06h-1.05zM48 65h1.05v1.06h-1.05zM52 66h1.05v1.06h-1.05zM56 67h2.05v1.06h-2.05zM61 68h1.05v1.06h-1.05zM67 69h1.05v1.06h-1.05zM72 70h2.05v1.06h-2.05zM79 71h1.05v1.06h-1.05zM86 72h2.05v1.06h-2.05zM94 73h1.05v1.06h-1.05z"/><path fill="#6f9229" d="M9 44h1.05v1.06h-1.05zM18 53h1.05v1.06h-1.05zM21 55h1.05v1.06h-1.05zM23 56h1.05v1.06h-1.05zM27 58h1.05v1.06h-1.05zM29 59h1.05v1.06h-1.05zM34 61h1.05v1.06h-1.05zM37 62h1.05v1.06h-1.05zM40 63h1.05v1.06h-1.05zM43 64h1.05v1.06h-1.05zM47 65h1.05v1.06h-1.05zM51 66h1.05v1.06h-1.05zM55 67h1.05v1.06h-1.05zM60 68h1.05v1.06h-1.05zM65 69h2.05v1.06h-2.05zM71 70h1.05v1.06h-1.05zM77 71h2.05v1.06h-2.05zM84 72h2.05v1.06h-2.05zM92 73h2.05v1.06h-2.05zM100 74h1.05v1.06h-1.05z"/><path fill="#72952a" d="M3 30h1.05v1.06h-1.05zM6 39h1.05v1.06h-1.05zM7 41h1.05v1.06h-1.05zM12 48h1.05v1.06h-1.05zM13 49h1.05v1.06h-1.05zM14 50h1.05v1.06h-1.05zM19 54h1.05v1.06h-1.05zM31 60h1.05v1.06h-1.05zM36 62h1.05v1.06h-1.05zM39 63h1.05v1.06h-1.05zM46 65h1.05v1.06h-1.05zM50 66h1.05v1.06h-1.05zM54 67h1.05v1.06h-1.05zM59 68h1.05v1.06h-1.05zM64 69h1.05v1.06h-1.05zM70 70h1.05v1.06h-1.05zM76 71h1.05v1.06h-1.05zM83 72h1.05v1.06h-1.05zM90 73h2.05v1.06h-2.05zM98 74h2.05v1.06h-2.05z"/><path fill="#75992b" d="M2 25h1.05v1.06h-1.05zM4 34h1.05v1.06h-1.05zM8 43h1.05v1.06h-1.05zM10 46h1.05v1.06h-1.05zM11 47h1.05v1.06h-1.05zM15 51h1.05v1.06h-1.05zM16 52h1.05v1.06h-1.05zM22 56h1.05v1.06h-1.05zM24 57h1.05v1.06h-1.05zM26 58h1.05v1.06h-1.05zM28 59h1.05v1.06h-1.05zM30 60h1.05v1.06h-1.05zM33 61h1.05v1.06h-1.05zM42 64h1.05v1.06h-1.05zM45 65h1.05v1.06h-1.05zM49 66h1.05v1.06h-1.05zM53 67h1.05v1.06h-1.05zM58 68h1.05v1.06h-1.05zM63 69h1.05v1.06h-1.05zM68 70h2.05v1.06h-2.05zM74 71h2.05v1.06h-2.05zM81 72h2.05v1.06h-2.05zM88 73h2.05v1.06h-2.05zM96 74h2.05v1.06h-2.05z"/><path fill="#779d2b" d="M1 16h1.05v1.06h-1.05zM5 37h1.05v1.06h-1.05zM17 53h1.05v1.06h-1.05zM20 55h1.05v1.06h-1.05zM32 61h1.05v1.06h-1.05zM35 62h1.05v1.06h-1.05zM38 63h1.05v1.06h-1.05zM41 64h1.05v1.06h-1.05zM44 65h1.05v1.06h-1.05zM48 66h1.05v1.06h-1.05zM52 67h1.05v1.06h-1.05zM57 68h1.05v1.06h-1.05zM62 69h1.05v1.06h-1.05zM67 70h1.05v1.06h-1.05zM73 71h1.05v1.06h-1.05zM79 72h2.05v1.06h-2.05zM87 73h1.05v1.06h-1.05zM95 74h1.05v1.06h-1.05z"/><path fill="#7aa02c" d="M9 45h1.05v1.06h-1.05zM18 54h1.05v1.06h-1.05zM21 56h1.05v1.06h-1.05zM23 57h1.05v1.06h-1.05zM25 58h1.05v1.06h-1.05zM27 59h1.05v1.06h-1.05zM29 60h1.05v1.06h-1.05zM34 62h1.05v1.06h-1.05zM37 63h1.05v1.06h-1.05zM40 64h1.05v1.06h-1.05zM47 66h1.05v1.06h-1.05zM51 67h1.05v1.06h-1.05zM56 68h1.05v1.06h-1.05zM60 69h2.05v1.06h-2.05zM66 70h1.05v1.06h-1.05zM72 71h1.05v1.06h-1.05zM78 72h1.05v1.06h-1.05zM85 73h2.05v1.06h-2.05zM93 74h2.05v1.06h-2.05z"/><path fill="#7ca42c" d="M3 31h1.05v1.06h-1.05zM6 40h1.05v1.06h-1.05zM7 42h1.05v1.06h-1.05zM11 48h1.05v1.06h-1.05zM12 49h1.05v1.06h-1.05zM13 50h1.05v1.06h-1.05zM14 51h1.05v1.06h-1.05zM19 55h1.05v1.06h-1.05zM31 61h1.05v1.06h-1.05zM36 63h1.05v1.06h-1.05zM39 64h1.05v1.06h-1.05zM43 65h1.05v1.06h-1.05zM46 66h1.05v1.06h-1.05zM50 67h1.05v1.06h-1.05zM55 68h1.05v1.06h-1.05zM59 69h1.05v1.06h-1.05zM64 70h2.05v1.06h-2.05zM70 71h2.05v1.06h-2.05zM76 72h2.05v1.06h-2.05zM83 73h2.05v1.06h-2.05zM91 74h2.05v1.06h-2.05zM99 75h2.05v1.06h-2.05z"/><path fill="#7fa82d" d="M2 26h1.05v1.06h-1.05zM4 35h1.05v1.06h-1.05zM5 38h1.05v1.06h-1.05zM8 44h1.05v1.06h-1.05zM10 47h1.05v1.06h-1.05zM15 52h1.05v1.06h-1.05zM16 53h1.05v1.06h-1.05zM22 57h1.05v1.06h-1.05zM24 58h1.05v1.06h-1.05zM26 59h1.05v1.06h-1.05zM28 60h1.05v1.06h-1.05zM30 61h1.05v1.06h-1.05zM33 62h1.05v1.06h-1.05zM42 65h1.05v1.06h-1.05zM45 66h1.05v1.06h-1.05zM49 67h1.05v1.06h-1.05zM53 68h2.05v1.06h-2.05zM58 69h1.05v1.06h-1.05zM63 70h1.05v1.06h-1.05zM69 71h1.05v1.06h-1.05zM75 72h1.05v1.06h-1.05zM82 73h1.05v1.06h-1.05zM89 74h2.05v1.06h-2.05zM97 75h2.05v1.06h-2.05z"/><path fill="#82ab2d" d="M1 17h1.05v1.06h-1.05zM17 54h1.05v1.06h-1.05zM20 56h1.05v1.06h-1.05zM32 62h1.05v1.06h-1.05zM35 63h1.05v1.06h-1.05zM38 64h1.05v1.06h-1.05zM41 65h1.05v1.06h-1.05zM48 67h1.05v1.06h-1.05zM52 68h1.05v1.06h-1.05zM57 69h1.05v1.06h-1.05zM62 70h1.05v1.06h-1.05zM67 71h2.05v1.06h-2.05zM73 72h2.05v1.06h-2.05zM80 73h2.05v1.06h-2.05zM87 74h2.05v1.06h-2.05zM95 75h2.05v1.06h-2.05z"/><path fill="#84af2e" d="M9 46h1.05v1.06h-1.05zM18 55h1.05v1.06h-1.05zM21 57h1.05v1.06h-1.05zM23 58h1.05v1.06h-1.05zM25 59h1.05v1.06h-1.05zM27 60h1.05v1.06h-1.05zM29 61h1.05v1.06h-1.05zM34 63h1.05v1.06h-1.05zM37 64h1.05v1.06h-1.05zM40 65h1.05v1.06h-1.05zM44 66h1.05v1.06h-1.05zM47 67h1.05v1.06h-1.05zM51 68h1.05v1.06h-1.05zM56 69h1.05v1.06h-1.05zM61 70h1.05v1.06h-1.05zM66 71h1.05v1.06h-1.05zM72 72h1.05v1.06h-1.05zM78 73h2.05v1.06h-2.05zM85 74h2.05v1.06h-2.05zM93 75h2.05v1.06h-2.05z"/><path fill="#87b32e" d="M3 32h1.05v1.06h-1.05zM6 41h1.05v1.06h-1.05zM7 43h1.05v1.06h-1.05zM11 49h1.05v1.06h-1.05zM12 50h1.05v1.06h-1.05zM13 51h1.05v1.06h-1.05zM14 52h1.05v1.06h-1.05zM15 53h1.05v1.06h-1.05zM19 56h1.05v1.06h-1.05zM24 59h1.05v1.06h-1.05zM26 60h1.05v1.06h-1.05zM31 62h1.05v1.06h-1.05zM36 64h1.05v1.06h-1.05zM39 65h1.05v1.06h-1.05zM43 66h1.05v1.06h-1.05zM46 67h1.05v1.06h-1.05zM50 68h1.05v1.06h-1.05zM55 69h1.05v1.06h-1.05zM59 70h2.05v1.06h-2.05zM65 71h1.05v1.06h-1.05zM70 72h2.05v1.06h-2.05zM77 73h1.05v1.06h-1.05zM84 74h1.05v1.06h-1.05zM91 75h2.05v1.06h-2.05zM100 76h1.05v1.06h-1.05z"/><path fill="#8ab62f" d="M1 18h1.05v1.06h-1.05zM2 27h1.05v1.06h-1.05zM4 36h1.05v1.06h-1.05zM5 39h1.05v1.06h-1.05zM8 45h1.05v1.06h-1.05zM10 48h1.05v1.06h-1.05zM16 54h1.05v1.06h-1.05zM22 58h1.05v1.06h-1.05zM28 61h1.05v1.06h-1.05zM30 62h1.05v1.06h-1.05zM33 63h1.05v1.06h-1.05zM42 66h1.05v1.06h-1.05zM45 67h1.05v1.06h-1.05zM49 68h1.05v1.06h-1.05zM54 69h1.05v1.06h-1.05zM58 70h1.05v1.06h-1.05zM63 71h2.05v1.06h-2.05zM69 72h1.05v1.06h-1.05zM75 73h2.05v1.06h-2.05zM82 74h2.05v1.06h-2.05zM90 75h1.05v1.06h-1.05zM98 76h2.05v1.06h-2.05z"/><path fill="#8cba2f" d="M9 47h1.05v1.06h-1.05zM17 55h1.05v1.06h-1.05zM20 57h1.05v1.06h-1.05zM25 60h1.05v1.06h-1.05zM27 61h1.05v1.06h-1.05zM32 63h1.05v1.06h-1.05zM35 64h1.05v1.06h-1.05zM38 65h1.05v1.06h-1.05zM41 66h1.05v1.06h-1.05zM44 67h1.05v1.06h-1.05zM48 68h1.05v1.06h-1.05zM52 69h2.05v1.06h-2.05zM57 70h1.05v1.06h-1.05zM62 71h1.05v1.06h-1.05zM68 72h1.05v1.06h-1.05zM74 73h1.05v1.06h-1.05zM80 74h2.05v1.06h-2.05zM88 75h2.05v1.06h-2.05zM96 76h2.05v1.06h-2.05z"/><path fill="#8fbe30" d="M6 42h1.05v1.06h-1.05zM7 44h1.05v1.06h-1.05zM13 52h1.05v1.06h-1.05zM18 56h1.05v1.06h-1.05zM21 58h1.05v1.06h-1.05zM23 59h1.05v1.06h-1.05zM29 62h1.05v1.06h-1.05zM34 64h1.05v1.06h-1.05zM37 65h1.05v1.06h-1.05zM40 66h1.05v1.06h-1.05zM47 68h1.05v1.06h-1.05zM51 69h1.05v1.06h-1.05zM56 70h1.05v1.06h-1.05zM61 71h1.05v1.06h-1.05zM66 72h2.05v1.06h-2.05zM72 73h2.05v1.06h-2.05zM79 74h1.05v1.06h-1.05zM86 75h2.05v1.06h-2.05zM94 76h2.05v1.06h-2.05z"/><path fill="#92c231" d="M3 33h1.05v1.06h-1.05zM4 37h1.05v1.06h-1.05zM8 46h1.05v1.06h-1.05zM11 50h1.05v1.06h-1.05zM12 51h1.05v1.06h-1.05zM14 53h1.05v1.06h-1.05zM15 54h1.05v1.06h-1.05zM19 57h1.05v1.06h-1.05zM24 60h1.05v1.06h-1.05zM26 61h1.05v1.06h-1.05zM31 63h1.05v1.06h-1.05zM33 64h1.05v1.06h-1.05zM36 65h1.05v1.06h-1.05zM39 66h1.05v1.06h-1.05zM43 67h1.05v1.06h-1.05zM46 68h1.05v1.06h-1.05zM50 69h1.05v1.06h-1.05zM55 70h1.05v1.06h-1.05zM59 71h2.05v1.06h-2.05zM65 72h1.05v1.06h-1.05zM71 73h1.05v1.06h-1.05zM77 74h2.05v1.06h-2.05zM84 75h2.05v1.06h-2.05zM92 76h2.05v1.06h-2.05z"/><path fill="#95c531" d="M1 19h1.05v1.06h-1.05zM2 28h1.05v1.06h-1.05zM5 40h1.05v1.06h-1.05zM10 49h1.05v1.06h-1.05zM16 55h1.05v1.06h-1.05zM20 58h1.05v1.06h-1.05zM22 59h1.05v1.06h-1.05zM28 62h1.05v1.06h-1.05zM30 63h1.05v1.06h-1.05zM35 65h1.05v1.06h-1.05zM38 66h1.05v1.06h-1.05zM42 67h1.05v1.06h-1.05zM45 68h1.05v1.06h-1.05zM49 69h1.05v1.06h-1.05zM53 70h2.05v1.06h-2.05zM58 71h1.05v1.06h-1.05zM63 72h2.05v1.06h-2.05zM69 73h2.05v1.06h-2.05zM75 74h2.05v1.06h-2.05zM82 75h2.05v1.06h-2.05zM90 76h2.05v1.06h-2.05zM99 77h2.05v1.06h-2.05z"/><path fill="#97c932" d="M9 48h1.05v1.06h-1.05zM17 56h1.05v1.06h-1.05zM23 60h1.05v1.06h-1.05zM25 61h1.05v1.06h-1.05zM27 62h1.05v1.06h-1.05zM32 64h1.05v1.06h-1.05zM41 67h1.05v1.06h-1.05zM44 68h1.05v1.06h-1.05zM48 69h1.05v1.06h-1.05zM52 70h1.05v1.06h-1.05zM57 71h1.05v1.06h-1.05zM62 72h1.05v1.06h-1.05zM68 73h1.05v1.06h-1.05zM74 74h1.05v1.06h-1.05zM81 75h1.05v1.06h-1.05zM88 76h2.05v1.06h-2.05zM96 77h3.05v1.06h-3.05z"/><path fill="#9acd32" d="M3 34h1.05v1.06h-1.05zM6 43h1.05v1.06h-1.05zM7 45h1.05v1.06h-1.05zM12 52h1.05v1.06h-1.05zM13 53h1.05v1.06h-1.05zM14 54h1.05v1.06h-1.05zM18 57h1.05v1.06h-1.05zM21 59h1.05v1.06h-1.05zM29 63h1.05v1.06h-1.05zM31 64h1.05v1.06h-1.05zM34 65h1.05v1.06h-1.05zM37 66h1.05v1.06h-1.05zM40 67h1.05v1.06h-1.05zM43 68h1.05v1.06h-1.05zM47 69h1.05v1.06h-1.05zM51 70h1.05v1.06h-1.05zM56 71h1.05v1.06h-1.05zM61 72h1.05v1.06h-1.05zM66 73h2.05v1.06h-2.05zM72 74h2.05v1.06h-2.05zM79 75h2.05v1.06h-2.05zM86 76h2.05v1.06h-2.05zM94 77h2.05v1.06h-2.05z"/><path fill="#99cc31" d="M1 20h1.05v1.06h-1.05zM2 29h1.05v1.06h-1.05zM4 38h1.05v1.06h-1.05zM5 41h1.05v1.06h-1.05zM8 47h1.05v1.06h-1.05zM10 50h1.05v1.06h-1.05zM11 51h1.05v1.06h-1.05zM15 55h1.05v1.06h-1.05zM16 56h1.05v1.06h-1.05zM19 58h1.05v1.06h-1.05zM22 60h1.05v1.06h-1.05zM24 61h1.05v1.06h-1.05zM26 62h1.05v1.06h-1.05zM28 63h1.05v1.06h-1.05zM33 65h1.05v1.06h-1.05zM36 66h1.05v1.06h-1.05zM39 67h1.05v1.06h-1.05zM42 68h1.05v1.06h-1.05zM46 69h1.05v1.06h-1.05zM50 70h1.05v1.06h-1.05zM54 71h2.05v1.06h-2.05zM59 72h2.05v1.06h-2.05zM65 73h1.05v1.06h-1.05zM71 74h1.05v1.06h-1.05zM77 75h2.05v1.06h-2.05zM84 76h2.05v1.06h-2.05zM92 77h2.05v1.06h-2.05z"/><path fill="#97cb31" d="M17 57h1.05v1.06h-1.05zM20 59h1.05v1.06h-1.05zM30 64h1.05v1.06h-1.05zM32 65h1.05v1.06h-1.05zM35 66h1.05v1.06h-1.05zM38 67h1.05v1.06h-1.05zM41 68h1.05v1.06h-1.05zM45 69h1.05v1.06h-1.05zM49 70h1.05v1.06h-1.05zM53 71h1.05v1.06h-1.05zM58 72h1.05v1.06h-1.05zM63 73h2.05v1.06h-2.05zM69 74h2.05v1.06h-2.05zM75 75h2.05v1.06h-2.05zM82 76h2.05v1.06h-2.05zM90 77h2.05v1.06h-2.05zM99 78h2.05v1.06h-2.05z"/><path fill="#96ca30" d="M3 35h1.05v1.06h-1.05zM6 44h1.05v1.06h-1.05zM7 46h1.05v1.06h-1.05zM9 49h1.05v1.06h-1.05zM13 54h1.05v1.06h-1.05zM18 58h1.05v1.06h-1.05zM21 60h1.05v1.06h-1.05zM23 61h1.05v1.06h-1.05zM25 62h1.05v1.06h-1.05zM27 63h1.05v1.06h-1.05zM29 64h1.05v1.06h-1.05zM34 66h1.05v1.06h-1.05zM37 67h1.05v1.06h-1.05zM44 69h1.05v1.06h-1.05zM48 70h1.05v1.06h-1.05zM52 71h1.05v1.06h-1.05zM57 72h1.05v1.06h-1.05zM62 73h1.05v1.06h-1.05zM67 74h2.05v1.06h-2.05zM74 75h1.05v1.06h-1.05zM80 76h2.05v1.06h-2.05zM88 77h2.05v1.06h-2.05zM97 78h2.05v1.06h-2.05z"/><path fill="#94c82f" d="M2 30h1.05v1.06h-1.05zM4 39h1.05v1.06h-1.05zM8 48h1.05v1.06h-1.05zM11 52h1.05v1.06h-1.05zM12 53h1.05v1.06h-1.05zM14 55h1.05v1.06h-1.05zM15 56h1.05v1.06h-1.05zM19 59h1.05v1.06h-1.05zM24 62h1.05v1.06h-1.05zM26 63h1.05v1.06h-1.05zM31 65h1.05v1.06h-1.05zM36 67h1.05v1.06h-1.05zM40 68h1.05v1.06h-1.05zM43 69h1.05v1.06h-1.05zM47 70h1.05v1.06h-1.05zM51 71h1.05v1.06h-1.05zM55 72h2.05v1.06h-2.05zM60 73h2.05v1.06h-2.05zM66 74h1.05v1.06h-1.05zM72 75h2.05v1.06h-2.05zM79 76h1.05v1.06h-1.05zM86 77h2.05v1.06h-2.05zM94 78h3.05v1.06h-3.05z"/><path fill="#93c72e" d="M1 21h1.05v1.06h-1.05zM5 42h1.05v1.06h-1.05zM10 51h1.05v1.06h-1.05zM16 57h1.05v1.06h-1.05zM17 58h1.05v1.06h-1.05zM20 60h1.05v1.06h-1.05zM22 61h1.05v1.06h-1.05zM28 64h1.05v1.06h-1.05zM30 65h1.05v1.06h-1.05zM33 66h1.05v1.06h-1.05zM39 68h1.05v1.06h-1.05zM42 69h1.05v1.06h-1.05zM46 70h1.05v1.06h-1.05zM50 71h1.05v1.06h-1.05zM54 72h1.05v1.06h-1.05zM59 73h1.05v1.06h-1.05zM64 74h2.05v1.06h-2.05zM70 75h2.05v1.06h-2.05zM77 76h2.05v1.06h-2.05zM84 77h2.05v1.06h-2.05zM92 78h2.05v1.06h-2.05z"/><path fill="#92c62e" d="M9 50h1.05v1.06h-1.05zM18 59h1.05v1.06h-1.05zM23 62h1.05v1.06h-1.05zM25 63h1.05v1.06h-1.05zM27 64h1.05v1.06h-1.05zM32 66h1.05v1.06h-1.05zM35 67h1.05v1.06h-1.05zM38 68h1.05v1.06h-1.05zM41 69h1.05v1.06h-1.05zM45 70h1.05v1.06h-1.05zM49 71h1.05v1.06h-1.05zM53 72h1.05v1.06h-1.05zM58 73h1.05v1.06h-1.05zM63 74h1.05v1.06h-1.05zM69 75h1.05v1.06h-1.05zM75 76h2.05v1.06h-2.05zM82 77h2.05v1.06h-2.05zM90 78h2.05v1.06h-2.05zM99 79h2.05v1.06h-2.05z"/><path fill="#90c52d" d="M3 36h1.05v1.06h-1.05zM4 40h1.05v1.06h-1.05zM6 45h1.05v1.06h-1.05zM7 47h1.05v1.06h-1.05zM8 49h1.05v1.06h-1.05zM11 53h1.05v1.06h-1.05zM12 54h1.05v1.06h-1.05zM13 55h1.05v1.06h-1.05zM14 56h1.05v1.06h-1.05zM15 57h1.05v1.06h-1.05zM19 60h1.05v1.06h-1.05zM21 61h1.05v1.06h-1.05zM29 65h1.05v1.06h-1.05zM31 66h1.05v1.06h-1.05zM34 67h1.05v1.06h-1.05zM37 68h1.05v1.06h-1.05zM40 69h1.05v1.06h-1.05zM44 70h1.05v1.06h-1.05zM47 71h2.05v1.06h-2.05zM52 72h1.05v1.06h-1.05zM56 73h2.05v1.06h-2.05zM61 74h2.05v1.06h-2.05zM67 75h2.05v1.06h-2.05zM73 76h2.05v1.06h-2.05zM80 77h2.05v1.06h-2.05zM88 78h2.05v1.06h-2.05zM97 79h2.05v1.06h-2.05z"/><path fill="#8fc42c" d="M1 22h1.05v1.06h-1.05zM2 31h1.05v1.06h-1.05zM5 43h1.05v1.06h-1.05zM10 52h1.05v1.06h-1.05zM16 58h1.05v1.06h-1.05zM22 62h1.05v1.06h-1.05zM24 63h1.05v1.06h-1.05zM26 64h1.05v1.06h-1.05zM28 65h1.05v1.06h-1.05zM33 67h1.05v1.06h-1.05zM36 68h1.05v1.06h-1.05zM39 69h1.05v1.06h-1.05zM43 70h1.05v1.06h-1.05zM46 71h1.05v1.06h-1.05zM50 72h2.05v1.06h-2.05zM55 73h1.05v1.06h-1.05zM60 74h1.05v1.06h-1.05zM65 75h2.05v1.06h-2.05zM71 76h2.05v1.06h-2.05zM78 77h2.05v1.06h-2.05zM86 78h2.05v1.06h-2.05zM94 79h3.05v1.06h-3.05z"/><path fill="#8dc32c" d="M9 51h1.05v1.06h-1.05zM17 59h1.05v1.06h-1.05zM20 61h1.05v1.06h-1.05zM23 63h1.05v1.06h-1.05zM25 64h1.05v1.06h-1.05zM30 66h1.05v1.06h-1.05zM32 67h1.05v1.06h-1.05zM35 68h1.05v1.06h-1.05zM38 69h1.05v1.06h-1.05zM41 70h2.05v1.06h-2.05zM45 71h1.05v1.06h-1.05zM49 72h1.05v1.06h-1.05zM54 73h1.05v1.06h-1.05zM58 74h2.05v1.06h-2.05zM64 75h1.05v1.06h-1.05zM70 76h1.05v1.06h-1.05zM76 77h2.05v1.06h-2.05zM84 78h2.05v1.06h-2.05zM92 79h2.05v1.06h-2.05z"/><path fill="#8cc22b" d="M3 37h1.05v1.06h-1.05zM6 46h1.05v1.06h-1.05zM7 48h1.05v1.06h-1.05zM11 54h1.05v1.06h-1.05zM12 55h1.05v1.06h-1.05zM13 56h1.05v1.06h-1.05zM14 57h1.05v1.06h-1.05zM18 60h1.05v1.06h-1.05zM21 62h1.05v1.06h-1.05zM27 65h1.05v1.06h-1.05zM29 66h1.05v1.06h-1.05zM34 68h1.05v1.06h-1.05zM37 69h1.05v1.06h-1.05zM40 70h1.05v1.06h-1.05zM44 71h1.05v1.06h-1.05zM48 72h1.05v1.06h-1.05zM52 73h2.05v1.06h-2.05zM57 74h1.05v1.06h-1.05zM62 75h2.05v1.06h-2.05zM68 76h2.05v1.06h-2.05zM74 77h2.05v1.06h-2.05zM82 78h2.05v1.06h-2.05zM90 79h2.05v1.06h-2.05zM99 80h2.05v1.06h-2.05z"/><path fill="#8ac12a" d="M1 23h1.05v1.06h-1.05zM2 32h1.05v1.06h-1.05zM4 41h1.05v1.06h-1.05zM5 44h1.05v1.06h-1.05zM8 50h1.05v1.06h-1.05zM10 53h1.05v1.06h-1.05zM15 58h1.05v1.06h-1.05zM16 59h1.05v1.06h-1.05zM19 61h1.05v1.06h-1.05zM22 63h1.05v1.06h-1.05zM24 64h1.05v1.06h-1.05zM26 65h1.05v1.06h-1.05zM28 66h1.05v1.06h-1.05zM31 67h1.05v1.06h-1.05zM33 68h1.05v1.06h-1.05zM36 69h1.05v1.06h-1.05zM39 70h1.05v1.06h-1.05zM43 71h1.05v1.06h-1.05zM47 72h1.05v1.06h-1.05zM51 73h1.05v1.06h-1.05zM56 74h1.05v1.06h-1.05zM61 75h1.05v1.06h-1.05zM66 76h2.05v1.06h-2.05zM73 77h1.05v1.06h-1.05zM80 78h2.05v1.06h-2.05zM87 79h3.05v1.06h-3.05zM96 80h3.05v1.06h-3.05z"/><path fill="#89c029" d="M9 52h1.05v1.06h-1.05zM17 60h1.05v1.06h-1.05zM20 62h1.05v1.06h-1.05zM30 67h1.05v1.06h-1.05zM35 69h1.05v1.06h-1.05zM38 70h1.05v1.06h-1.05zM42 71h1.05v1.06h-1.05zM46 72h1.05v1.06h-1.05zM50 73h1.05v1.06h-1.05zM54 74h2.05v1.06h-2.05zM59 75h2.05v1.06h-2.05zM65 76h1.05v1.06h-1.05zM71 77h2.05v1.06h-2.05zM78 78h2.05v1.06h-2.05zM85 79h2.05v1.06h-2.05zM94 80h2.05v1.06h-2.05z"/><path fill="#88be29" d="M3 38h1.05v1.06h-1.05zM4 42h1.05v1.06h-1.05zM6 47h1.05v1.06h-1.05zM7 49h1.05v1.06h-1.05zM11 55h1.05v1.06h-1.05zM12 56h1.05v1.06h-1.05zM13 57h1.05v1.06h-1.05zM14 58h1.05v1.06h-1.05zM18 61h1.05v1.06h-1.05zM21 63h1.05v1.06h-1.05zM23 64h1.05v1.06h-1.05zM25 65h1.05v1.06h-1.05zM27 66h1.05v1.06h-1.05zM29 67h1.05v1.06h-1.05zM32 68h1.05v1.06h-1.05zM34 69h1.05v1.06h-1.05zM37 70h1.05v1.06h-1.05zM41 71h1.05v1.06h-1.05zM44 72h2.05v1.06h-2.05zM48 73h2.05v1.06h-2.05zM53 74h1.05v1.06h-1.05zM58 75h1.05v1.06h-1.05zM63 76h2.05v1.06h-2.05zM69 77h2.05v1.06h-2.05zM76 78h2.05v1.06h-2.05zM83 79h2.05v1.06h-2.05zM91 80h3.05v1.06h-3.05z"/><path fill="#86bd28" d="M1 24h1.05v1.06h-1.05zM2 33h1.05v1.06h-1.05zM5 45h1.05v1.06h-1.05zM8 51h1.05v1.06h-1.05zM10 54h1.05v1.06h-1.05zM15 59h1.05v1.06h-1.05zM16 60h1.05v1.06h-1.05zM19 62h1.05v1.06h-1.05zM22 64h1.05v1.06h-1.05zM24 65h1.05v1.06h-1.05zM26 66h1.05v1.06h-1.05zM28 67h1.05v1.06h-1.05zM31 68h1.05v1.06h-1.05zM36 70h1.05v1.06h-1.05zM40 71h1.05v1.06h-1.05zM43 72h1.05v1.06h-1.05zM47 73h1.05v1.06h-1.05zM51 74h2.05v1.06h-2.05zM56 75h2.05v1.06h-2.05zM61 76h2.05v1.06h-2.05zM67 77h2.05v1.06h-2.05zM74 78h2.05v1.06h-2.05zM81 79h2.05v1.06h-2.05zM89 80h2.05v1.06h-2.05zM98 81h3.05v1.06h-3.05z"/><path fill="#85bc27" d="M9 53h1.05v1.06h-1.05zM17 61h1.05v1.06h-1.05zM20 63h1.05v1.06h-1.05zM30 68h1.05v1.06h-1.05zM33 69h1.05v1.06h-1.05zM39 71h1.05v1.06h-1.05zM42 72h1.05v1.06h-1.05zM46 73h1.05v1.06h-1.05zM50 74h1.05v1.06h-1.05zM55 75h1.05v1.06h-1.05zM60 76h1.05v1.06h-1.05zM65 77h2.05v1.06h-2.05zM72 78h2.05v1.06h-2.05zM79 79h2.05v1.06h-2.05zM87 80h2.05v1.06h-2.05zM95 81h3.05v1.06h-3.05z"/><path fill="#83bb26" d="M2 34h1.05v1.06h-1.05zM3 39h1.05v1.06h-1.05zM4 43h1.05v1.06h-1.05zM6 48h1.05v1.06h-1.05zM7 50h1.05v1.06h-1.05zM8 52h1.05v1.06h-1.05zM11 56h1.05v1.06h-1.05zM12 57h1.05v1.06h-1.05zM13 58h1.05v1.06h-1.05zM14 59h1.05v1.06h-1.05zM18 62h1.05v1.06h-1.05zM21 64h1.05v1.06h-1.05zM23 65h1.05v1.06h-1.05zM25 66h1.05v1.06h-1.05zM27 67h1.05v1.06h-1.05zM29 68h1.05v1.06h-1.05zM32 69h1.05v1.06h-1.05zM35 70h1.05v1.06h-1.05zM38 71h1.05v1.06h-1.05zM41 72h1.05v1.06h-1.05zM45 73h1.05v1.06h-1.05zM49 74h1.05v1.06h-1.05zM53 75h2.05v1.06h-2.05zM58 76h2.05v1.06h-2.05zM63 77h2.05v1.06h-2.05zM70 78h2.05v1.06h-2.05zM76 79h3.05v1.06h-3.05zM84 80h3.05v1.06h-3.05zM93 81h2.05v1.06h-2.05z"/><path fill="#82ba26" d="M1 25h1.05v1.06h-1.05zM5 46h1.05v1.06h-1.05zM10 55h1.05v1.06h-1.05zM15 60h1.05v1.06h-1.05zM16 61h1.05v1.06h-1.05zM19 63h1.05v1.06h-1.05zM22 65h1.05v1.06h-1.05zM24 66h1.05v1.06h-1.05zM26 67h1.05v1.06h-1.05zM28 68h1.05v1.06h-1.05zM31 69h1.05v1.06h-1.05zM34 70h1.05v1.06h-1.05zM37 71h1.05v1.06h-1.05zM40 72h1.05v1.06h-1.05zM43 73h2.05v1.06h-2.05zM47 74h2.05v1.06h-2.05zM52 75h1.05v1.06h-1.05zM56 76h2.05v1.06h-2.05zM62 77h1.05v1.06h-1.05zM68 78h2.05v1.06h-2.05zM74 79h2.05v1.06h-2.05zM82 80h2.05v1.06h-2.05zM90 81h3.05v1.06h-3.05zM100 82h1.05v1.06h-1.05z"/><path fill="#81b925" d="M3 40h1.05v1.06h-1.05zM6 49h1.05v1.06h-1.05zM7 51h1.05v1.06h-1.05zM9 54h1.05v1.06h-1.05zM17 62h1.05v1.06h-1.05zM20 64h1.05v1.06h-1.05zM30 69h1.05v1.06h-1.05zM33 70h1.05v1.06h-1.05zM36 71h1.05v1.06h-1.05zM39 72h1.05v1.06h-1.05zM42 73h1.05v1.06h-1.05zM46 74h1.05v1.06h-1.05zM50 75h2.05v1.06h-2.05zM55 76h1.05v1.06h-1.05zM60 77h2.05v1.06h-2.05zM66 78h2.05v1.06h-2.05zM72 79h2.05v1.06h-2.05zM79 80h3.05v1.06h-3.05zM88 81h2.05v1.06h-2.05zM97 82h3.05v1.06h-3.05z"/><path fill="#7fb824" d="M1 26h1.05v1.06h-1.05zM2 35h1.05v1.06h-1.05zM4 44h1.05v1.06h-1.05zM5 47h1.05v1.06h-1.05zM8 53h1.05v1.06h-1.05zM11 57h1.05v1.06h-1.05zM12 58h1.05v1.06h-1.05zM13 59h1.05v1.06h-1.05zM14 60h1.05v1.06h-1.05zM15 61h1.05v1.06h-1.05zM18 63h1.05v1.06h-1.05zM19 64h1.05v1.06h-1.05zM21 65h1.05v1.06h-1.05zM23 66h1.05v1.06h-1.05zM25 67h1.05v1.06h-1.05zM27 68h1.05v1.06h-1.05zM29 69h1.05v1.06h-1.05zM32 70h1.05v1.06h-1.05zM34 71h2.05v1.06h-2.05zM38 72h1.05v1.06h-1.05zM41 73h1.05v1.06h-1.05zM45 74h1.05v1.06h-1.05zM49 75h1.05v1.06h-1.05zM53 76h2.05v1.06h-2.05zM58 77h2.05v1.06h-2.05zM64 78h2.05v1.06h-2.05zM70 79h2.05v1.06h-2.05zM77 80h2.05v1.06h-2.05zM85 81h3.05v1.06h-3.05zM94 82h3.05v1.06h-3.05z"/><path fill="#7eb723" d="M9 55h1.05v1.06h-1.05zM10 56h1.05v1.06h-1.05zM16 62h1.05v1.06h-1.05zM17 63h1.05v1.06h-1.05zM20 65h1.05v1.06h-1.05zM22 66h1.05v1.06h-1.05zM24 67h1.05v1.06h-1.05zM26 68h1.05v1.06h-1.05zM28 69h1.05v1.06h-1.05zM31 70h1.05v1.06h-1.05zM33 71h1.05v1.06h-1.05zM36 72h2.05v1.06h-2.05zM40 73h1.05v1.06h-1.05zM43 74h2.05v1.06h-2.05zM47 75h2.05v1.06h-2.05zM52 76h1.05v1.06h-1.05zM57 77h1.05v1.06h-1.05zM62 78h2.05v1.06h-2.05zM68 79h2.05v1.06h-2.05zM75 80h2.05v1.06h-2.05zM83 81h2.05v1.06h-2.05zM91 82h3.05v1.06h-3.05z"/><path fill="#7cb523" d="M3 41h1.05v1.06h-1.05zM6 50h1.05v1.06h-1.05zM7 52h1.05v1.06h-1.05zM12 59h1.05v1.06h-1.05zM13 60h1.05v1.06h-1.05zM18 64h1.05v1.06h-1.05zM23 67h1.05v1.06h-1.05zM25 68h1.05v1.06h-1.05zM30 70h1.05v1.06h-1.05zM32 71h1.05v1.06h-1.05zM35 72h1.05v1.06h-1.05zM39 73h1.05v1.06h-1.05zM42 74h1.05v1.06h-1.05zM46 75h1.05v1.06h-1.05zM50 76h2.05v1.06h-2.05zM55 77h2.05v1.06h-2.05zM60 78h2.05v1.06h-2.05zM66 79h2.05v1.06h-2.05zM73 80h2.05v1.06h-2.05zM80 81h3.05v1.06h-3.05zM89 82h2.05v1.06h-2.05zM98 83h3.05v1.06h-3.05z"/><path fill="#7bb422" d="M1 27h1.05v1.06h-1.05zM2 36h1.05v1.06h-1.05zM4 45h1.05v1.06h-1.05zM5 48h1.05v1.06h-1.05zM8 54h1.05v1.06h-1.05zM10 57h1.05v1.06h-1.05zM11 58h1.05v1.06h-1.05zM14 61h1.05v1.06h-1.05zM15 62h1.05v1.06h-1.05zM16 63h1.05v1.06h-1.05zM19 65h1.05v1.06h-1.05zM21 66h1.05v1.06h-1.05zM27 69h1.05v1.06h-1.05zM29 70h1.05v1.06h-1.05zM34 72h1.05v1.06h-1.05zM37 73h2.05v1.06h-2.05zM41 74h1.05v1.06h-1.05zM44 75h2.05v1.06h-2.05zM49 76h1.05v1.06h-1.05zM53 77h2.05v1.06h-2.05zM58 78h2.05v1.06h-2.05zM64 79h2.05v1.06h-2.05zM70 80h3.05v1.06h-3.05zM78 81h2.05v1.06h-2.05zM86 82h3.05v1.06h-3.05zM95 83h3.05v1.06h-3.05z"/><path fill="#7ab321" d="M3 42h1.05v1.06h-1.05zM6 51h1.05v1.06h-1.05zM7 53h1.05v1.06h-1.05zM9 56h1.05v1.06h-1.05zM17 64h1.05v1.06h-1.05zM20 66h1.05v1.06h-1.05zM22 67h1.05v1.06h-1.05zM24 68h1.05v1.06h-1.05zM26 69h1.05v1.06h-1.05zM28 70h1.05v1.06h-1.05zM31 71h1.05v1.06h-1.05zM33 72h1.05v1.06h-1.05zM36 73h1.05v1.06h-1.05zM39 74h2.05v1.06h-2.05zM43 75h1.05v1.06h-1.05zM47 76h2.05v1.06h-2.05zM52 77h1.05v1.06h-1.05zM57 78h1.05v1.06h-1.05zM62 79h2.05v1.06h-2.05zM68 80h2.05v1.06h-2.05zM75 81h3.05v1.06h-3.05zM83 82h3.05v1.06h-3.05zM92 83h3.05v1.06h-3.05z"/><path fill="#78b220" d="M1 28h1.05v1.06h-1.05zM2 37h1.05v1.06h-1.05zM4 46h1.05v1.06h-1.05zM5 49h1.05v1.06h-1.05zM8 55h1.05v1.06h-1.05zM11 59h1.05v1.06h-1.05zM12 60h1.05v1.06h-1.05zM13 61h1.05v1.06h-1.05zM14 62h1.05v1.06h-1.05zM15 63h1.05v1.06h-1.05zM18 65h1.05v1.06h-1.05zM21 67h1.05v1.06h-1.05zM23 68h1.05v1.06h-1.05zM25 69h1.05v1.06h-1.05zM27 70h1.05v1.06h-1.05zM30 71h1.05v1.06h-1.05zM32 72h1.05v1.06h-1.05zM35 73h1.05v1.06h-1.05zM38 74h1.05v1.06h-1.05zM42 75h1.05v1.06h-1.05zM46 76h1.05v1.06h-1.05zM50 77h2.05v1.06h-2.05zM55 78h2.05v1.06h-2.05zM60 79h2.05v1.06h-2.05zM66 80h2.05v1.06h-2.05zM73 81h2.05v1.06h-2.05zM81 82h2.05v1.06h-2.05zM89 83h3.05v1.06h-3.05zM99 84h2.05v1.06h-2.05z"/><path fill="#77b120" d="M9 57h1.05v1.06h-1.05zM10 58h1.05v1.06h-1.05zM16 64h1.05v1.06h-1.05zM19 66h1.05v1.06h-1.05zM22 68h1.05v1.06h-1.05zM24 69h1.05v1.06h-1.05zM26 70h1.05v1.06h-1.05zM29 71h1.05v1.06h-1.05zM31 72h1.05v1.06h-1.05zM34 73h1.05v1.06h-1.05zM37 74h1.05v1.06h-1.05zM40 75h2.05v1.06h-2.05zM44 76h2.05v1.06h-2.05zM48 77h2.05v1.06h-2.05zM53 78h2.05v1.06h-2.05zM58 79h2.05v1.06h-2.05zM64 80h2.05v1.06h-2.05zM70 81h3.05v1.06h-3.05zM78 82h3.05v1.06h-3.05zM86 83h3.05v1.06h-3.05zM96 84h3.05v1.06h-3.05z"/><path fill="#75b01f" d="M1 29h1.05v1.06h-1.05zM2 38h1.05v1.06h-1.05zM3 43h1.05v1.06h-1.05zM4 47h1.05v1.06h-1.05zM6 52h1.05v1.06h-1.05zM7 54h1.05v1.06h-1.05zM11 60h1.05v1.06h-1.05zM12 61h1.05v1.06h-1.05zM13 62h1.05v1.06h-1.05zM14 63h1.05v1.06h-1.05zM17 65h1.05v1.06h-1.05zM18 66h1.05v1.06h-1.05zM20 67h1.05v1.06h-1.05zM23 69h1.05v1.06h-1.05zM25 70h1.05v1.06h-1.05zM28 71h1.05v1.06h-1.05zM30 72h1.05v1.06h-1.05zM33 73h1.05v1.06h-1.05zM36 74h1.05v1.06h-1.05zM39 75h1.05v1.06h-1.05zM43 76h1.05v1.06h-1.05zM47 77h1.05v1.06h-1.05zM51 78h2.05v1.06h-2.05zM56 79h2.05v1.06h-2.05zM62 80h2.05v1.06h-2.05zM68 81h2.05v1.06h-2.05zM75 82h3.05v1.06h-3.05zM83 83h3.05v1.06h-3.05zM93 84h3.05v1.06h-3.05z"/><path fill="#74af1e" d="M5 50h1.05v1.06h-1.05zM8 56h1.05v1.06h-1.05zM10 59h1.05v1.06h-1.05zM15 64h1.05v1.06h-1.05zM16 65h1.05v1.06h-1.05zM19 67h1.05v1.06h-1.05zM21 68h1.05v1.06h-1.05zM27 71h1.05v1.06h-1.05zM29 72h1.05v1.06h-1.05zM32 73h1.05v1.06h-1.05zM35 74h1.05v1.06h-1.05zM38 75h1.05v1.06h-1.05zM41 76h2.05v1.06h-2.05zM45 77h2.05v1.06h-2.05zM49 78h2.05v1.06h-2.05zM54 79h2.05v1.06h-2.05zM60 80h2.05v1.06h-2.05zM66 81h2.05v1.06h-2.05zM73 82h2.05v1.06h-2.05zM81 83h2.05v1.06h-2.05zM90 84h3.05v1.06h-3.05zM100 85h1.05v1.06h-1.05z"/><path fill="#73ae1d" d="M2 39h1.05v1.06h-1.05zM3 44h1.05v1.06h-1.05zM4 48h1.05v1.06h-1.05zM6 53h1.05v1.06h-1.05zM7 55h1.05v1.06h-1.05zM9 58h1.05v1.06h-1.05zM17 66h1.05v1.06h-1.05zM20 68h1.05v1.06h-1.05zM22 69h1.05v1.06h-1.05zM24 70h1.05v1.06h-1.05zM26 71h1.05v1.06h-1.05zM28 72h1.05v1.06h-1.05zM31 73h1.05v1.06h-1.05zM33 74h2.05v1.06h-2.05zM36 75h2.05v1.06h-2.05zM40 76h1.05v1.06h-1.05zM43 77h2.05v1.06h-2.05zM48 78h1.05v1.06h-1.05zM52 79h2.05v1.06h-2.05zM58 80h2.05v1.06h-2.05zM63 81h3.05v1.06h-3.05zM70 82h3.05v1.06h-3.05zM78 83h3.05v1.06h-3.05zM86 84h4.05v1.06h-4.05zM96 85h4.05v1.06h-4.05z"/><path fill="#71ad1d" d="M1 30h1.05v1.06h-1.05zM5 51h1.05v1.06h-1.05zM8 57h1.05v1.06h-1.05zM10 60h1.05v1.06h-1.05zM11 61h1.05v1.06h-1.05zM12 62h1.05v1.06h-1.05zM13 63h1.05v1.06h-1.05zM14 64h1.05v1.06h-1.05zM15 65h1.05v1.06h-1.05zM18 67h1.05v1.06h-1.05zM19 68h1.05v1.06h-1.05zM21 69h1.05v1.06h-1.05zM23 70h1.05v1.06h-1.05zM25 71h1.05v1.06h-1.05zM27 72h1.05v1.06h-1.05zM29 73h2.05v1.06h-2.05zM32 74h1.05v1.06h-1.05zM35 75h1.05v1.06h-1.05zM38 76h2.05v1.06h-2.05zM42 77h1.05v1.06h-1.05zM46 78h2.05v1.06h-2.05zM50 79h2.05v1.06h-2.05zM56 80h2.05v1.06h-2.05zM61 81h2.05v1.06h-2.05zM68 82h2.05v1.06h-2.05zM75 83h3.05v1.06h-3.05zM83 84h3.05v1.06h-3.05zM93 85h3.05v1.06h-3.05z"/><path fill="#70ac1c" d="M2 40h1.05v1.06h-1.05zM3 45h1.05v1.06h-1.05zM6 54h1.05v1.06h-1.05zM7 56h1.05v1.06h-1.05zM9 59h1.05v1.06h-1.05zM16 66h1.05v1.06h-1.05zM17 67h1.05v1.06h-1.05zM20 69h1.05v1.06h-1.05zM22 70h1.05v1.06h-1.05zM24 71h1.05v1.06h-1.05zM26 72h1.05v1.06h-1.05zM28 73h1.05v1.06h-1.05zM31 74h1.05v1.06h-1.05zM34 75h1.05v1.06h-1.05zM37 76h1.05v1.06h-1.05zM40 77h2.05v1.06h-2.05zM44 78h2.05v1.06h-2.05zM49 79h1.05v1.06h-1.05zM53 80h3.05v1.06h-3.05zM59 81h2.05v1.06h-2.05zM65 82h3.05v1.06h-3.05zM72 83h3.05v1.06h-3.05zM80 84h3.05v1.06h-3.05zM89 85h4.05v1.06h-4.05zM100 86h1.05v1.06h-1.05z"/><path fill="#6eaa1b" d="M1 31h1.05v1.06h-1.05zM4 49h1.05v1.06h-1.05zM5 52h1.05v1.06h-1.05zM8 58h1.05v1.06h-1.05zM10 61h1.05v1.06h-1.05zM11 62h1.05v1.06h-1.05zM12 63h1.05v1.06h-1.05zM13 64h1.05v1.06h-1.05zM14 65h1.05v1.06h-1.05zM15 66h1.05v1.06h-1.05zM18 68h1.05v1.06h-1.05zM21 70h1.05v1.06h-1.05zM23 71h1.05v1.06h-1.05zM25 72h1.05v1.06h-1.05zM27 73h1.05v1.06h-1.05zM30 74h1.05v1.06h-1.05zM32 75h2.05v1.06h-2.05zM35 76h2.05v1.06h-2.05zM39 77h1.05v1.06h-1.05zM43 78h1.05v1.06h-1.05zM47 79h2.05v1.06h-2.05zM51 80h2.05v1.06h-2.05zM57 81h2.05v1.06h-2.05zM63 82h2.05v1.06h-2.05zM69 83h3.05v1.06h-3.05zM77 84h3.05v1.06h-3.05zM86 85h3.05v1.06h-3.05zM96 86h4.05v1.06h-4.05z"/><path fill="#6da91a" d="M2 41h1.05v1.06h-1.05zM3 46h1.05v1.06h-1.05zM4 50h1.05v1.06h-1.05zM6 55h1.05v1.06h-1.05zM7 57h1.05v1.06h-1.05zM9 60h1.05v1.06h-1.05zM16 67h1.05v1.06h-1.05zM17 68h1.05v1.06h-1.05zM19 69h1.05v1.06h-1.05zM20 70h1.05v1.06h-1.05zM22 71h1.05v1.06h-1.05zM24 72h1.05v1.06h-1.05zM26 73h1.05v1.06h-1.05zM29 74h1.05v1.06h-1.05zM31 75h1.05v1.06h-1.05zM34 76h1.05v1.06h-1.05zM37 77h2.05v1.06h-2.05zM41 78h2.05v1.06h-2.05zM45 79h2.05v1.06h-2.05zM49 80h2.05v1.06h-2.05zM54 81h3.05v1.06h-3.05zM60 82h3.05v1.06h-3.05zM67 83h2.05v1.06h-2.05zM74 84h3.05v1.06h-3.05zM83 85h3.05v1.06h-3.05zM93 86h3.05v1.06h-3.05z"/><path fill="#6ca819" d="M1 32h1.05v1.06h-1.05zM5 53h1.05v1.06h-1.05zM8 59h1.05v1.06h-1.05zM10 62h1.05v1.06h-1.05zM11 63h1.05v1.06h-1.05zM12 64h1.05v1.06h-1.05zM13 65h1.05v1.06h-1.05zM14 66h1.05v1.06h-1.05zM15 67h1.05v1.06h-1.05zM18 69h1.05v1.06h-1.05zM21 71h1.05v1.06h-1.05zM23 72h1.05v1.06h-1.05zM25 73h1.05v1.06h-1.05zM27 74h2.05v1.06h-2.05zM30 75h1.05v1.06h-1.05zM33 76h1.05v1.06h-1.05zM36 77h1.05v1.06h-1.05zM39 78h2.05v1.06h-2.05zM43 79h2.05v1.06h-2.05zM47 80h2.05v1.06h-2.05zM52 81h2.05v1.06h-2.05zM58 82h2.05v1.06h-2.05zM64 83h3.05v1.06h-3.05zM71 84h3.05v1.06h-3.05zM79 85h4.05v1.06h-4.05zM89 86h4.05v1.06h-4.05zM100 87h1.05v1.06h-1.05z"/><path fill="#6aa719" d="M1 33h1.05v1.06h-1.05zM2 42h1.05v1.06h-1.05zM3 47h1.05v1.06h-1.05zM4 51h1.05v1.06h-1.05zM6 56h1.05v1.06h-1.05zM7 58h1.05v1.06h-1.05zM9 61h1.05v1.06h-1.05zM16 68h1.05v1.06h-1.05zM17 69h1.05v1.06h-1.05zM19 70h1.05v1.06h-1.05zM20 71h1.05v1.06h-1.05zM22 72h1.05v1.06h-1.05zM24 73h1.05v1.06h-1.05zM26 74h1.05v1.06h-1.05zM29 75h1.05v1.06h-1.05zM31 76h2.05v1.06h-2.05zM34 77h2.05v1.06h-2.05zM38 78h1.05v1.06h-1.05zM41 79h2.05v1.06h-2.05zM45 80h2.05v1.06h-2.05zM50 81h2.05v1.06h-2.05zM55 82h3.05v1.06h-3.05zM61 83h3.05v1.06h-3.05zM68 84h3.05v1.06h-3.05zM76 85h3.05v1.06h-3.05zM85 86h4.05v1.06h-4.05zM96 87h4.05v1.06h-4.05z"/><path fill="#69a618" d="M5 54h1.05v1.06h-1.05zM8 60h1.05v1.06h-1.05zM10 63h1.05v1.06h-1.05zM11 64h1.05v1.06h-1.05zM12 65h1.05v1.06h-1.05zM13 66h1.05v1.06h-1.05zM14 67h1.05v1.06h-1.05zM15 68h1.05v1.06h-1.05zM18 70h1.05v1.06h-1.05zM21 72h1.05v1.06h-1.05zM23 73h1.05v1.06h-1.05zM25 74h1.05v1.06h-1.05zM27 75h2.05v1.06h-2.05zM30 76h1.05v1.06h-1.05zM33 77h1.05v1.06h-1.05zM36 78h2.05v1.06h-2.05zM40 79h1.05v1.06h-1.05zM43 80h2.05v1.06h-2.05zM48 81h2.05v1.06h-2.05zM53 82h2.05v1.06h-2.05zM59 83h2.05v1.06h-2.05zM65 84h3.05v1.06h-3.05zM73 85h3.05v1.06h-3.05zM81 86h4.05v1.06h-4.05zM92 87h4.05v1.06h-4.05z"/><path fill="#67a517" d="M1 34h1.05v1.06h-1.05zM2 43h1.05v1.06h-1.05zM3 48h1.05v1.06h-1.05zM4 52h1.05v1.06h-1.05zM5 55h1.05v1.06h-1.05zM6 57h1.05v1.06h-1.05zM7 59h1.05v1.06h-1.05zM8 61h1.05v1.06h-1.05zM9 62h1.05v1.06h-1.05zM12 66h1.05v1.06h-1.05zM13 67h1.05v1.06h-1.05zM16 69h1.05v1.06h-1.05zM17 70h1.05v1.06h-1.05zM19 71h1.05v1.06h-1.05zM20 72h1.05v1.06h-1.05zM22 73h1.05v1.06h-1.05zM24 74h1.05v1.06h-1.05zM26 75h1.05v1.06h-1.05zM29 76h1.05v1.06h-1.05zM31 77h2.05v1.06h-2.05zM34 78h2.05v1.06h-2.05zM38 79h2.05v1.06h-2.05zM42 80h1.05v1.06h-1.05zM46 81h2.05v1.06h-2.05zM51 82h2.05v1.06h-2.05zM56 83h3.05v1.06h-3.05zM62 84h3.05v1.06h-3.05zM69 85h4.05v1.06h-4.05zM78 86h3.05v1.06h-3.05zM87 87h5.05v1.06h-5.05zM99 88h2.05v1.06h-2.05z"/><path fill="#66a416" d="M3 49h1.05v1.06h-1.05zM6 58h1.05v1.06h-1.05zM9 63h1.05v1.06h-1.05zM10 64h1.05v1.06h-1.05zM11 65h1.05v1.06h-1.05zM14 68h1.05v1.06h-1.05zM15 69h1.05v1.06h-1.05zM16 70h1.05v1.06h-1.05zM18 71h1.05v1.06h-1.05zM19 72h1.05v1.06h-1.05zM21 73h1.05v1.06h-1.05zM23 74h1.05v1.06h-1.05zM25 75h1.05v1.06h-1.05zM27 76h2.05v1.06h-2.05zM30 77h1.05v1.06h-1.05zM33 78h1.05v1.06h-1.05zM36 79h2.05v1.06h-2.05zM40 80h2.05v1.06h-2.05zM44 81h2.05v1.06h-2.05zM48 82h3.05v1.06h-3.05zM53 83h3.05v1.06h-3.05zM59 84h3.05v1.06h-3.05zM66 85h3.05v1.06h-3.05zM74 86h4.05v1.06h-4.05zM83 87h4.05v1.06h-4.05zM94 88h5.05v1.06h-5.05z"/><path fill="#64a315" d="M1 35h1.05v1.06h-1.05zM2 44h1.05v1.06h-1.05zM4 53h1.05v1.06h-1.05zM5 56h1.05v1.06h-1.05zM7 60h1.05v1.06h-1.05zM8 62h1.05v1.06h-1.05zM10 65h1.05v1.06h-1.05zM11 66h1.05v1.06h-1.05zM12 67h1.05v1.06h-1.05zM13 68h1.05v1.06h-1.05zM14 69h1.05v1.06h-1.05zM17 71h1.05v1.06h-1.05zM18 72h1.05v1.06h-1.05zM20 73h1.05v1.06h-1.05zM22 74h1.05v1.06h-1.05zM24 75h1.05v1.06h-1.05zM26 76h1.05v1.06h-1.05zM28 77h2.05v1.06h-2.05zM31 78h2.05v1.06h-2.05zM34 79h2.05v1.06h-2.05zM38 80h2.05v1.06h-2.05zM42 81h2.05v1.06h-2.05zM46 82h2.05v1.06h-2.05zM51 83h2.05v1.06h-2.05zM56 84h3.05v1.06h-3.05zM63 85h3.05v1.06h-3.05zM70 86h4.05v1.06h-4.05zM79 87h4.05v1.06h-4.05zM90 88h4.05v1.06h-4.05z"/><path fill="#63a214" d="M1 36h1.05v1.06h-1.05zM2 45h1.05v1.06h-1.05zM3 50h1.05v1.06h-1.05zM4 54h1.05v1.06h-1.05zM5 57h1.05v1.06h-1.05zM6 59h1.05v1.06h-1.05zM7 61h1.05v1.06h-1.05zM9 64h1.05v1.06h-1.05zM15 70h1.05v1.06h-1.05zM16 71h1.05v1.06h-1.05zM19 73h1.05v1.06h-1.05zM21 74h1.05v1.06h-1.05zM23 75h1.05v1.06h-1.05zM25 76h1.05v1.06h-1.05zM27 77h1.05v1.06h-1.05zM30 78h1.05v1.06h-1.05zM33 79h1.05v1.06h-1.05zM36 80h2.05v1.06h-2.05zM39 81h3.05v1.06h-3.05zM44 82h2.05v1.06h-2.05zM48 83h3.05v1.06h-3.05zM54 84h2.05v1.06h-2.05zM60 85h3.05v1.06h-3.05zM67 86h3.05v1.06h-3.05zM75 87h4.05v1.06h-4.05zM85 88h5.05v1.06h-5.05zM97 89h4.05v1.06h-4.05z"/><path fill="#62a114" d="M3 51h1.05v1.06h-1.05zM6 60h1.05v1.06h-1.05zM8 63h1.05v1.06h-1.05zM9 65h1.05v1.06h-1.05zM10 66h1.05v1.06h-1.05zM11 67h1.05v1.06h-1.05zM12 68h1.05v1.06h-1.05zM13 69h1.05v1.06h-1.05zM14 70h1.05v1.06h-1.05zM15 71h1.05v1.06h-1.05zM17 72h1.05v1.06h-1.05zM18 73h1.05v1.06h-1.05zM20 74h1.05v1.06h-1.05zM21 75h2.05v1.06h-2.05zM23 76h2.05v1.06h-2.05zM26 77h1.05v1.06h-1.05zM28 78h2.05v1.06h-2.05zM31 79h2.05v1.06h-2.05zM34 80h2.05v1.06h-2.05zM37 81h2.05v1.06h-2.05zM41 82h3.05v1.06h-3.05zM46 83h2.05v1.06h-2.05zM51 84h3.05v1.06h-3.05zM57 85h3.05v1.06h-3.05zM63 86h4.05v1.06h-4.05zM71 87h4.05v1.06h-4.05zM81 88h4.05v1.06h-4.05zM92 89h5.05v1.06h-5.05z"/><path fill="#60a013" d="M1 37h1.05v1.06h-1.05zM2 46h1.05v1.06h-1.05zM4 55h1.05v1.06h-1.05zM5 58h1.05v1.06h-1.05zM7 62h1.05v1.06h-1.05zM8 64h1.05v1.06h-1.05zM10 67h1.05v1.06h-1.05zM11 68h1.05v1.06h-1.05zM12 69h1.05v1.06h-1.05zM13 70h1.05v1.06h-1.05zM14 71h1.05v1.06h-1.05zM16 72h1.05v1.06h-1.05zM17 73h1.05v1.06h-1.05zM19 74h1.05v1.06h-1.05zM20 75h1.05v1.06h-1.05zM22 76h1.05v1.06h-1.05zM24 77h2.05v1.06h-2.05zM27 78h1.05v1.06h-1.05zM29 79h2.05v1.06h-2.05zM32 80h2.05v1.06h-2.05zM35 81h2.05v1.06h-2.05zM39 82h2.05v1.06h-2.05zM43 83h3.05v1.06h-3.05zM48 84h3.05v1.06h-3.05zM54 85h3.05v1.06h-3.05zM60 86h3.05v1.06h-3.05zM67 87h4.05v1.06h-4.05zM76 88h5.05v1.06h-5.05zM87 89h5.05v1.06h-5.05zM100 90h1.05v1.06h-1.05z"/><path fill="#5f9e12" d="M1 38h1.05v1.06h-1.05zM2 47h1.05v1.06h-1.05zM3 52h1.05v1.06h-1.05zM4 56h1.05v1.06h-1.05zM5 59h1.05v1.06h-1.05zM6 61h1.05v1.06h-1.05zM7 63h1.05v1.06h-1.05zM8 65h1.05v1.06h-1.05zM9 66h1.05v1.06h-1.05zM15 72h1.05v1.06h-1.05zM16 73h1.05v1.06h-1.05zM18 74h1.05v1.06h-1.05zM19 75h1.05v1.06h-1.05zM21 76h1.05v1.06h-1.05zM23 77h1.05v1.06h-1.05zM25 78h2.05v1.06h-2.05zM27 79h2.05v1.06h-2.05zM30 80h2.05v1.06h-2.05zM33 81h2.05v1.06h-2.05zM37 82h2.05v1.06h-2.05zM41 83h2.05v1.06h-2.05zM45 84h3.05v1.06h-3.05zM50 85h4.05v1.06h-4.05zM56 86h4.05v1.06h-4.05zM63 87h4.05v1.06h-4.05zM72 88h4.05v1.06h-4.05zM82 89h5.05v1.06h-5.05zM94 90h6.05v1.06h-6.05z"/><path fill="#5d9d11" d="M1 39h1.05v1.06h-1.05zM2 48h1.05v1.06h-1.05zM3 53h1.05v1.06h-1.05zM4 57h1.05v1.06h-1.05zM6 62h1.05v1.06h-1.05zM7 64h1.05v1.06h-1.05zM9 67h1.05v1.06h-1.05zM10 68h1.05v1.06h-1.05zM11 69h1.05v1.06h-1.05zM12 70h1.05v1.06h-1.05zM13 71h1.05v1.06h-1.05zM14 72h1.05v1.06h-1.05zM15 73h1.05v1.06h-1.05zM17 74h1.05v1.06h-1.05zM18 75h1.05v1.06h-1.05zM20 76h1.05v1.06h-1.05zM22 77h1.05v1.06h-1.05zM24 78h1.05v1.06h-1.05zM26 79h1.05v1.06h-1.05zM28 80h2.05v1.06h-2.05zM31 81h2.05v1.06h-2.05zM35 82h2.05v1.06h-2.05zM38 83h3.05v1.06h-3.05zM42 84h3.05v1.06h-3.05zM47 85h3.05v1.06h-3.05zM53 86h3.05v1.06h-3.05zM60 87h3.05v1.06h-3.05zM67 88h5.05v1.06h-5.05zM77 89h5.05v1.06h-5.05zM88 90h6.05v1.06h-6.05z"/><path fill="#5c9c10" d="M1 40h1.05v1.06h-1.05zM2 49h1.05v1.06h-1.05zM3 54h1.05v1.06h-1.05zM4 58h1.05v1.06h-1.05zM5 60h1.05v1.06h-1.05zM6 63h1.05v1.06h-1.05zM8 66h1.05v1.06h-1.05zM9 68h1.05v1.06h-1.05zM10 69h1.05v1.06h-1.05zM11 70h1.05v1.06h-1.05zM12 71h1.05v1.06h-1.05zM13 72h1.05v1.06h-1.05zM14 73h1.05v1.06h-1.05zM15 74h2.05v1.06h-2.05zM17 75h1.05v1.06h-1.05zM18 76h2.05v1.06h-2.05zM20 77h2.05v1.06h-2.05zM22 78h2.05v1.06h-2.05zM24 79h2.05v1.06h-2.05zM27 80h1.05v1.06h-1.05zM29 81h2.05v1.06h-2.05zM32 82h3.05v1.06h-3.05zM36 83h2.05v1.06h-2.05zM40 84h2.05v1.06h-2.05zM44 85h3.05v1.06h-3.05zM50 86h3.05v1.06h-3.05zM56 87h4.05v1.06h-4.05zM63 88h4.05v1.06h-4.05zM72 89h5.05v1.06h-5.05zM82 90h6.05v1.06h-6.05zM95 91h6.05v1.06h-6.05z"/><path fill="#5b9b0f" d="M1 41h1.05v1.06h-1.05zM2 50h1.05v1.06h-1.05zM3 55h1.05v1.06h-1.05zM5 61h1.05v1.06h-1.05zM7 65h1.05v1.06h-1.05zM8 67h1.05v1.06h-1.05zM10 70h1.05v1.06h-1.05zM11 71h1.05v1.06h-1.05zM12 72h1.05v1.06h-1.05zM13 73h1.05v1.06h-1.05zM14 74h1.05v1.06h-1.05zM16 75h1.05v1.06h-1.05zM17 76h1.05v1.06h-1.05zM19 77h1.05v1.06h-1.05zM21 78h1.05v1.06h-1.05zM23 79h1.05v1.06h-1.05zM25 80h2.05v1.06h-2.05zM27 81h2.05v1.06h-2.05zM30 82h2.05v1.06h-2.05zM33 83h3.05v1.06h-3.05zM37 84h3.05v1.06h-3.05zM41 85h3.05v1.06h-3.05zM46 86h4.05v1.06h-4.05zM52 87h4.05v1.06h-4.05zM59 88h4.05v1.06h-4.05zM67 89h5.05v1.06h-5.05zM77 90h5.05v1.06h-5.05zM89 91h6.05v1.06h-6.05z"/><path fill="#599a0e" d="M1 42h1.05v1.06h-1.05zM2 51h1.05v1.06h-1.05zM3 56h1.05v1.06h-1.05zM4 59h1.05v1.06h-1.05zM5 62h1.05v1.06h-1.05zM6 64h1.05v1.06h-1.05zM7 66h1.05v1.06h-1.05zM8 68h1.05v1.06h-1.05zM9 69h1.05v1.06h-1.05zM10 71h1.05v1.06h-1.05zM11 72h1.05v1.06h-1.05zM12 73h1.05v1.06h-1.05zM13 74h1.05v1.06h-1.05zM15 75h1.05v1.06h-1.05zM16 76h1.05v1.06h-1.05zM17 77h2.05v1.06h-2.05zM19 78h2.05v1.06h-2.05zM21 79h2.05v1.06h-2.05zM23 80h2.05v1.06h-2.05zM25 81h2.05v1.06h-2.05zM28 82h2.05v1.06h-2.05zM31 83h2.05v1.06h-2.05zM34 84h3.05v1.06h-3.05zM38 85h3.05v1.06h-3.05zM43 86h3.05v1.06h-3.05zM48 87h4.05v1.06h-4.05zM55 88h4.05v1.06h-4.05zM62 89h5.05v1.06h-5.05zM71 90h6.05v1.06h-6.05zM82 91h7.05v1.06h-7.05zM97 92h4.05v1.06h-4.05z"/><path fill="#58990d" d="M1 43h1.05v1.06h-1.05zM2 52h1.05v1.06h-1.05zM3 57h1.05v1.06h-1.05zM4 60h1.05v1.06h-1.05zM5 63h1.05v1.06h-1.05zM6 65h1.05v1.06h-1.05zM7 67h1.05v1.06h-1.05zM8 69h1.05v1.06h-1.05zM9 70h1.05v1.06h-1.05zM11 73h1.05v1.06h-1.05zM12 74h1.05v1.06h-1.05zM14 75h1.05v1.06h-1.05zM15 76h1.05v1.06h-1.05zM16 77h1.05v1.06h-1.05zM18 78h1.05v1.06h-1.05zM19 79h2.05v1.06h-2.05zM21 80h2.05v1.06h-2.05zM23 81h2.05v1.06h-2.05zM26 82h2.05v1.06h-2.05zM29 83h2.05v1.06h-2.05zM32 84h2.05v1.06h-2.05zM35 85h3.05v1.06h-3.05zM40 86h3.05v1.06h-3.05zM44 87h4.05v1.06h-4.05zM50 88h5.05v1.06h-5.05zM57 89h5.05v1.06h-5.05zM66 90h5.05v1.06h-5.05zM76 91h6.05v1.06h-6.05zM89 92h8.05v1.06h-8.05z"/><path fill="#56980c" d="M1 44h1.05v1.06h-1.05zM2 53h1.05v1.06h-1.05zM3 58h1.05v1.06h-1.05zM4 61h1.05v1.06h-1.05zM5 64h1.05v1.06h-1.05zM6 66h1.05v1.06h-1.05zM7 68h1.05v1.06h-1.05zM8 70h1.05v1.06h-1.05zM9 71h1.05v1.06h-1.05zM10 72h1.05v1.06h-1.05zM11 74h1.05v1.06h-1.05zM12 75h2.05v1.06h-2.05zM14 76h1.05v1.06h-1.05zM15 77h1.05v1.06h-1.05zM16 78h2.05v1.06h-2.05zM18 79h1.05v1.06h-1.05zM20 80h1.05v1.06h-1.05zM21 81h2.05v1.06h-2.05zM24 82h2.05v1.06h-2.05zM26 83h3.05v1.06h-3.05zM29 84h3.05v1.06h-3.05zM32 85h3.05v1.06h-3.05zM36 86h4.05v1.06h-4.05zM41 87h3.05v1.06h-3.05zM46 88h4.05v1.06h-4.05zM52 89h5.05v1.06h-5.05zM60 90h6.05v1.06h-6.05zM70 91h6.05v1.06h-6.05zM82 92h7.05v1.06h-7.05zM97 93h4.05v1.06h-4.05z"/><path fill="#55970b" d="M1 45h1.05v1.06h-1.05zM2 54h1.05v1.06h-1.05zM3 59h1.05v1.06h-1.05zM4 62h1.05v1.06h-1.05zM4 63h1.05v1.06h-1.05zM5 65h1.05v1.06h-1.05zM6 67h1.05v1.06h-1.05zM6 68h1.05v1.06h-1.05zM7 69h1.05v1.06h-1.05zM8 71h1.05v1.06h-1.05zM9 72h1.05v1.06h-1.05zM10 73h1.05v1.06h-1.05zM10 74h1.05v1.06h-1.05zM11 75h1.05v1.06h-1.05zM12 76h2.05v1.06h-2.05zM14 77h1.05v1.06h-1.05zM15 78h1.05v1.06h-1.05zM16 79h2.05v1.06h-2.05zM18 80h2.05v1.06h-2.05zM20 81h1.05v1.06h-1.05zM22 82h2.05v1.06h-2.05zM24 83h2.05v1.06h-2.05zM27 84h2.05v1.06h-2.05zM30 85h2.05v1.06h-2.05zM33 86h3.05v1.06h-3.05zM37 87h4.05v1.06h-4.05zM42 88h4.05v1.06h-4.05zM48 89h4.05v1.06h-4.05zM55 90h5.05v1.06h-5.05zM63 91h7.05v1.06h-7.05zM74 92h8.05v1.06h-8.05zM88 93h9.05v1.06h-9.05z"/><path fill="#53960a" d="M1 46h1.05v1.06h-1.05zM2 55h1.05v1.06h-1.05zM3 60h1.05v1.06h-1.05zM4 64h1.05v1.06h-1.05zM5 66h1.05v1.06h-1.05zM5 67h1.05v1.06h-1.05zM6 69h1.05v1.06h-1.05zM7 70h1.05v1.06h-1.05zM7 71h1.05v1.06h-1.05zM8 72h1.05v1.06h-1.05zM9 73h1.05v1.06h-1.05zM9 74h1.05v1.06h-1.05zM10 75h1.05v1.06h-1.05zM11 76h1.05v1.06h-1.05zM12 77h2.05v1.06h-2.05zM13 78h2.05v1.06h-2.05zM15 79h1.05v1.06h-1.05zM16 80h2.05v1.06h-2.05zM18 81h2.05v1.06h-2.05zM20 82h2.05v1.06h-2.05zM22 83h2.05v1.06h-2.05zM24 84h3.05v1.06h-3.05zM27 85h3.05v1.06h-3.05zM30 86h3.05v1.06h-3.05zM33 87h4.05v1.06h-4.05zM38 88h4.05v1.06h-4.05zM43 89h5.05v1.06h-5.05zM49 90h6.05v1.06h-6.05zM57 91h6.05v1.06h-6.05zM67 92h7.05v1.06h-7.05zM80 93h8.05v1.06h-8.05zM97 94h4.05v1.06h-4.05z"/><path fill="#529509" d="M1 47h1.05v1.06h-1.05zM1 48h1.05v1.06h-1.05zM2 56h1.05v1.06h-1.05zM2 57h1.05v1.06h-1.05zM3 61h1.05v1.06h-1.05zM3 62h1.05v1.06h-1.05zM4 65h1.05v1.06h-1.05zM5 68h1.05v1.06h-1.05zM6 70h1.05v1.06h-1.05zM7 72h1.05v1.06h-1.05zM8 73h1.05v1.06h-1.05zM8 74h1.05v1.06h-1.05zM9 75h1.05v1.06h-1.05zM10 76h1.05v1.06h-1.05zM11 77h1.05v1.06h-1.05zM12 78h1.05v1.06h-1.05zM13 79h2.05v1.06h-2.05zM14 80h2.05v1.06h-2.05zM16 81h2.05v1.06h-2.05zM17 82h3.05v1.06h-3.05zM19 83h3.05v1.06h-3.05zM21 84h3.05v1.06h-3.05zM24 85h3.05v1.06h-3.05zM27 86h3.05v1.06h-3.05zM30 87h3.05v1.06h-3.05zM34 88h4.05v1.06h-4.05zM38 89h5.05v1.06h-5.05zM44 90h5.05v1.06h-5.05zM51 91h6.05v1.06h-6.05zM60 92h7.05v1.06h-7.05zM71 93h9.05v1.06h-9.05zM86 94h11.05v1.06h-11.05z"/><path fill="#519408" d="M1 49h1.05v1.06h-1.05zM1 50h1.05v1.06h-1.05zM2 58h1.05v1.06h-1.05zM3 63h1.05v1.06h-1.05zM4 66h1.05v1.06h-1.05zM4 67h1.05v1.06h-1.05zM5 69h1.05v1.06h-1.05zM5 70h1.05v1.06h-1.05zM6 71h1.05v1.06h-1.05zM6 72h1.05v1.06h-1.05zM7 73h1.05v1.06h-1.05zM8 75h1.05v1.06h-1.05zM9 76h1.05v1.06h-1.05zM10 77h1.05v1.06h-1.05zM11 78h1.05v1.06h-1.05zM12 79h1.05v1.06h-1.05zM13 80h1.05v1.06h-1.05zM14 81h2.05v1.06h-2.05zM15 82h2.05v1.06h-2.05zM17 83h2.05v1.06h-2.05zM19 84h2.05v1.06h-2.05zM21 85h3.05v1.06h-3.05zM23 86h4.05v1.06h-4.05zM26 87h4.05v1.06h-4.05zM30 88h4.05v1.06h-4.05zM34 89h4.05v1.06h-4.05zM39 90h5.05v1.06h-5.05zM45 91h6.05v1.06h-6.05zM53 92h7.05v1.06h-7.05zM62 93h9.05v1.06h-9.05zM76 94h10.05v1.06h-10.05zM95 95h6.05v1.06h-6.05z"/><path fill="#4f9307" d="M1 51h1.05v1.06h-1.05zM2 59h1.05v1.06h-1.05zM2 60h1.05v1.06h-1.05zM3 64h1.05v1.06h-1.05zM3 65h1.05v1.06h-1.05zM4 68h1.05v1.06h-1.05zM4 69h1.05v1.06h-1.05zM5 71h1.05v1.06h-1.05zM6 73h1.05v1.06h-1.05zM7 74h1.05v1.06h-1.05zM7 75h1.05v1.06h-1.05zM8 76h1.05v1.06h-1.05zM8 77h2.05v1.06h-2.05zM9 78h2.05v1.06h-2.05zM10 79h2.05v1.06h-2.05zM11 80h2.05v1.06h-2.05zM12 81h2.05v1.06h-2.05zM13 82h2.05v1.06h-2.05zM15 83h2.05v1.06h-2.05zM16 84h3.05v1.06h-3.05zM18 85h3.05v1.06h-3.05zM20 86h3.05v1.06h-3.05zM23 87h3.05v1.06h-3.05zM26 88h4.05v1.06h-4.05zM29 89h5.05v1.06h-5.05zM34 90h5.05v1.06h-5.05zM39 91h6.05v1.06h-6.05zM45 92h8.05v1.06h-8.05zM54 93h8.05v1.06h-8.05zM66 94h10.05v1.06h-10.05zM82 95h13.05v1.06h-13.05z"/><path fill="#4e9106" d="M1 52h1.05v1.06h-1.05zM1 53h1.05v1.06h-1.05zM1 54h1.05v1.06h-1.05zM2 61h1.05v1.06h-1.05zM2 62h1.05v1.06h-1.05zM3 66h1.05v1.06h-1.05zM3 67h1.05v1.06h-1.05zM4 70h1.05v1.06h-1.05zM4 71h1.05v1.06h-1.05zM5 72h1.05v1.06h-1.05zM5 73h1.05v1.06h-1.05zM6 74h1.05v1.06h-1.05zM6 75h1.05v1.06h-1.05zM7 76h1.05v1.06h-1.05zM7 77h1.05v1.06h-1.05zM8 78h1.05v1.06h-1.05zM9 79h1.05v1.06h-1.05zM9 80h2.05v1.06h-2.05zM10 81h2.05v1.06h-2.05zM11 82h2.05v1.06h-2.05zM12 83h3.05v1.06h-3.05zM14 84h2.05v1.06h-2.05zM15 85h3.05v1.06h-3.05zM17 86h3.05v1.06h-3.05zM19 87h4.05v1.06h-4.05zM22 88h4.05v1.06h-4.05zM25 89h4.05v1.06h-4.05zM28 90h6.05v1.06h-6.05zM33 91h6.05v1.06h-6.05zM38 92h7.05v1.06h-7.05zM46 93h8.05v1.06h-8.05zM55 94h11.05v1.06h-11.05zM69 95h13.05v1.06h-13.05zM90 96h11.05v1.06h-11.05z"/><path fill="#4c9005" d="M1 55h1.05v1.06h-1.05zM1 56h1.05v1.06h-1.05zM2 63h1.05v1.06h-1.05zM2 64h1.05v1.06h-1.05zM2 65h1.05v1.06h-1.05zM3 68h1.05v1.06h-1.05zM3 69h1.05v1.06h-1.05zM3 70h1.05v1.06h-1.05zM4 72h1.05v1.06h-1.05zM4 73h1.05v1.06h-1.05zM5 74h1.05v1.06h-1.05zM5 75h1.05v1.06h-1.05zM5 76h2.05v1.06h-2.05zM6 77h1.05v1.06h-1.05zM6 78h2.05v1.06h-2.05zM7 79h2.05v1.06h-2.05zM8 80h1.05v1.06h-1.05zM8 81h2.05v1.06h-2.05zM9 82h2.05v1.06h-2.05zM10 83h2.05v1.06h-2.05zM11 84h3.05v1.06h-3.05zM13 85h2.05v1.06h-2.05zM14 86h3.05v1.06h-3.05zM16 87h3.05v1.06h-3.05zM18 88h4.05v1.06h-4.05zM20 89h5.05v1.06h-5.05zM23 90h5.05v1.06h-5.05zM27 91h6.05v1.06h-6.05zM31 92h7.05v1.06h-7.05zM37 93h9.05v1.06h-9.05zM45 94h10.05v1.06h-10.05zM56 95h13.05v1.06h-13.05zM73 96h17.05v1.06h-17.05z"/><path fill="#4b8f04" d="M1 57h1.05v1.06h-1.05zM1 58h1.05v1.06h-1.05zM1 59h1.05v1.06h-1.05zM2 66h1.05v1.06h-1.05zM2 67h1.05v1.06h-1.05zM2 68h1.05v1.06h-1.05zM3 71h1.05v1.06h-1.05zM3 72h1.05v1.06h-1.05zM3 73h1.05v1.06h-1.05zM4 74h1.05v1.06h-1.05zM4 75h1.05v1.06h-1.05zM4 76h1.05v1.06h-1.05zM5 77h1.05v1.06h-1.05zM5 78h1.05v1.06h-1.05zM6 79h1.05v1.06h-1.05zM6 80h2.05v1.06h-2.05zM7 81h1.05v1.06h-1.05zM7 82h2.05v1.06h-2.05zM8 83h2.05v1.06h-2.05zM9 84h2.05v1.06h-2.05zM10 85h3.05v1.06h-3.05zM11 86h3.05v1.06h-3.05zM12 87h4.05v1.06h-4.05zM14 88h4.05v1.06h-4.05zM16 89h4.05v1.06h-4.05zM18 90h5.05v1.06h-5.05zM21 91h6.05v1.06h-6.05zM24 92h7.05v1.06h-7.05zM29 93h8.05v1.06h-8.05zM35 94h10.05v1.06h-10.05zM44 95h12.05v1.06h-12.05zM57 96h16.05v1.06h-16.05zM79 97h22.05v1.06h-22.05z"/><path fill="#498e03" d="M1 60h1.05v1.06h-1.05zM1 61h1.05v1.06h-1.05zM1 62h1.05v1.06h-1.05zM1 63h1.05v1.06h-1.05zM1 64h1.05v1.06h-1.05zM2 69h1.05v1.06h-1.05zM2 70h1.05v1.06h-1.05zM2 71h1.05v1.06h-1.05zM2 72h1.05v1.06h-1.05zM3 74h1.05v1.06h-1.05zM3 75h1.05v1.06h-1.05zM3 76h1.05v1.06h-1.05zM3 77h2.05v1.06h-2.05zM4 78h1.05v1.06h-1.05zM4 79h2.05v1.06h-2.05zM4 80h2.05v1.06h-2.05zM5 81h2.05v1.06h-2.05zM5 82h2.05v1.06h-2.05zM6 83h2.05v1.06h-2.05zM6 84h3.05v1.06h-3.05zM7 85h3.05v1.06h-3.05zM8 86h3.05v1.06h-3.05zM9 87h3.05v1.06h-3.05zM10 88h4.05v1.06h-4.05zM11 89h5.05v1.06h-5.05zM13 90h5.05v1.06h-5.05zM15 91h6.05v1.06h-6.05zM17 92h7.05v1.06h-7.05zM21 93h8.05v1.06h-8.05zM25 94h10.05v1.06h-10.05zM31 95h13.05v1.06h-13.05zM40 96h17.05v1.06h-17.05zM56 97h23.05v1.06h-23.05zM87 98h14.05v1.06h-14.05z"/><path fill="#488d02" d="M1 65h1.05v1.06h-1.05zM1 66h1.05v1.06h-1.05zM1 67h1.05v1.06h-1.05zM1 68h1.05v1.06h-1.05zM1 69h1.05v1.06h-1.05zM1 70h1.05v1.06h-1.05zM2 73h1.05v1.06h-1.05zM2 74h1.05v1.06h-1.05zM2 75h1.05v1.06h-1.05zM2 76h1.05v1.06h-1.05zM2 77h1.05v1.06h-1.05zM2 78h2.05v1.06h-2.05zM3 79h1.05v1.06h-1.05zM3 80h1.05v1.06h-1.05zM3 81h2.05v1.06h-2.05zM3 82h2.05v1.06h-2.05zM4 83h2.05v1.06h-2.05zM4 84h2.05v1.06h-2.05zM4 85h3.05v1.06h-3.05zM5 86h3.05v1.06h-3.05zM6 87h3.05v1.06h-3.05zM6 88h4.05v1.06h-4.05zM7 89h4.05v1.06h-4.05zM8 90h5.05v1.06h-5.05zM9 91h6.05v1.06h-6.05zM11 92h6.05v1.06h-6.05zM13 93h8.05v1.06h-8.05zM15 94h10.05v1.06h-10.05zM19 95h12.05v1.06h-12.05zM24 96h16.05v1.06h-16.05zM34 97h22.05v1.06h-22.05zM52 98h35.05v1.06h-35.05z"/><path fill="#468c01" d="M1 71h1.05v1.06h-1.05zM1 72h1.05v1.06h-1.05zM1 73h1.05v1.06h-1.05zM1 74h1.05v1.06h-1.05zM1 75h1.05v1.06h-1.05zM1 76h1.05v1.06h-1.05zM1 77h1.05v1.06h-1.05zM1 78h1.05v1.06h-1.05zM1 79h2.05v1.06h-2.05zM1 80h2.05v1.06h-2.05zM1 81h2.05v1.06h-2.05zM1 82h2.05v1.06h-2.05zM2 83h2.05v1.06h-2.05zM2 84h2.05v1.06h-2.05zM2 85h2.05v1.06h-2.05zM2 86h3.05v1.06h-3.05zM2 87h4.05v1.06h-4.05zM2 88h4.05v1.06h-4.05zM3 89h4.05v1.06h-4.05zM3 90h5.05v1.06h-5.05zM3 91h6.05v1.06h-6.05zM4 92h7.05v1.06h-7.05zM5 93h8.05v1.06h-8.05zM5 94h10.05v1.06h-10.05zM7 95h12.05v1.06h-12.05zM8 96h16.05v1.06h-16.05zM12 97h22.05v1.06h-22.05zM18 98h34.05v1.06h-34.05zM36 99h65.05v1.06h-65.05z"/><path fill="#458b00" d="M0 0h1.05v1.06h-1.05zM0 1h1.05v1.06h-1.05zM0 2h1.05v1.06h-1.05zM0 3h1.05v1.06h-1.05zM0 4h1.05v1.06h-1.05zM0 5h1.05v1.06h-1.05zM0 6h1.05v1.06h-1.05zM0 7h1.05v1.06h-1.05zM0 8h1.05v1.06h-1.05zM0 9h1.05v1.06h-1.05zM0 10h1.05v1.06h-1.05zM0 11h1.05v1.06h-1.05zM0 12h1.05v1.06h-1.05zM0 13h1.05v1.06h-1.05zM0 14h1.05v1.06h-1.05zM0 15h1.05v1.06h-1.05zM0 16h1.05v1.06h-1.05zM0 17h1.05v1.06h-1.05zM0 18h1.05v1.06h-1.05zM0 19h1.05v1.06h-1.05zM0 20h1.05v1.06h-1.05zM0 21h1.05v1.06h-1.05zM0 22h1.05v1.06h-1.05zM0 23h1.05v1.06h-1.05zM0 24h1.05v1.06h-1.05zM0 25h1.05v1.06h-1.05zM0 26h1.05v1.06h-1.05zM0 27h1.05v1.06h-1.05zM0 28h1.05v1.06h-1.05zM0 29h1.05v1.06h-1.05zM0 30h1.05v1.06h-1.05zM0 31h1.05v1.06h-1.05zM0 32h1.05v1.06h-1.05zM0 33h1.05v1.06h-1.05zM0 34h1.05v1.06h-1.05zM0 35h1.05v1.06h-1.05zM0 36h1.05v1.06h-1.05zM0 37h1.05v1.06h-1.05zM0 38h1.05v1.06h-1.05zM0 39h1.05v1.06h-1.05zM0 40h1.05v1.06h-1.05zM0 41h1.05v1.06h-1.05zM0 42h1.05v1.06h-1.05zM0 43h1.05v1.06h-1.05zM0 44h1.05v1.06h-1.05zM0 45h1.05v1.06h-1.05zM0 46h1.05v1.06h-1.05zM0 47h1.05v1.06h-1.05zM0 48h1.05v1.06h-1.05zM0 49h1.05v1.06h-1.05zM0 50h1.05v1.06h-1.05zM0 51h1.05v1.06h-1.05zM0 52h1.05v1.06h-1.05zM0 53h1.05v1.06h-1.05zM0 54h1.05v1.06h-1.05zM0 55h1.05v1.06h-1.05zM0 56h1.05v1.06h-1.05zM0 57h1.05v1.06h-1.05zM0 58h1.05v1.06h-1.05zM0 59h1.05v1.06h-1.05zM0 60h1.05v1.06h-1.05zM0 61h1.05v1.06h-1.05zM0 62h1.05v1.06h-1.05zM0 63h1.05v1.06h-1.05zM0 64h1.05v1.06h-1.05zM0 65h1.05v1.06h-1.05zM0 66h1.05v1.06h-1.05zM0 67h1.05v1.06h-1.05zM0 68h1.05v1.06h-1.05zM0 69h1.05v1.06h-1.05zM0 70h1.05v1.06h-1.05zM0 71h1.05v1.06h-1.05zM0 72h1.05v1.06h-1.05zM0 73h1.05v1.06h-1.05zM0 74h1.05v1.06h-1.05zM0 75h1.05v1.06h-1.05zM0 76h1.05v1.06h-1.05zM0 77h1.05v1.06h-1.05zM0 78h1.05v1.06h-1.05zM0 79h1.05v1.06h-1.05zM0 80h1.05v1.06h-1.05zM0 81h1.05v1.06h-1.05zM0 82h1.05v1.06h-1.05zM0 83h2.05v1.06h-2.05zM0 84h2.05v1.06h-2.05zM0 85h2.05v1.06h-2.05zM0 86h2.05v1.06h-2.05zM0 87h2.05v1.06h-2.05zM0 88h2.05v1.06h-2.05zM0 89h3.05v1.06h-3.05zM0 90h3.05v1.06h-3.05zM0 91h3.05v1.06h-3.05zM0 92h4.05v1.06h-4.05zM0 93h5.05v1.06h-5.05zM0 94h5.05v1.06h-5.05zM0 95h7.05v1.06h-7.05zM0 96h8.05v1.06h-8.05zM0 97h12.05v1.06h-12.05zM0 98h18.05v1.06h-18.05zM0 99h36.05v1.06h-36.05zM0 100h101.05v1.06h-101.05z"/></g>
<path d="M110.97 42.8V541M118.13 42.8V541M125.3 42.8V541M132.47 42.8V541M139.64 42.8V541M146.81 42.8V541M153.98 42.8V541M161.15 42.8V541M168.32 42.8V541M175.49 42.8V541M182.66 42.8V541M189.83 42.8V541M197 42.8V541M204.17 42.8V541M211.34 42.8V541M218.51 42.8V541M225.68 42.8V541M232.85 42.8V541M240.02 42.8V541M247.19 42.8V541M254.36 42.8V541M261.52 42.8V541M268.69 42.8V541M275.86 42.8V541M283.03 42.8V541M290.2 42.8V541M297.37 42.8V541M304.54 42.8V541M311.71 42.8V541M318.88 42.8V541M326.05 42.8V541M333.22 42.8V541M340.39 42.8V541M347.56 42.8V541M354.73 42.8V541M361.9 42.8V541M369.07 42.8V541M376.24 42.8V541M383.41 42.8V541M390.58 42.8V541M397.75 42.8V541M404.91 42.8V541M412.08 42.8V541M419.25 42.8V541M426.42 42.8V541M433.59 42.8V541M440.76 42.8V541M447.93 42.8V541M455.1 42.8V541M462.27 42.8V541M469.44 42.8V541M476.61 42.8V541M483.78 42.8V541M490.95 42.8V541M498.12 42.8V541M505.29 42.8V541M512.46 42.8V541M519.63 42.8V541M526.8 42.8V541M533.97 42.8V541M541.14 42.8V541M548.3 42.8V541M555.47 42.8V541M562.64 42.8V541M569.81 42.8V541M576.98 42.8V541M584.15 42.8V541M591.32 42.8V541M598.49 42.8V541M605.66 42.8V541M612.83 42.8V541M620 42.8V541M627.17 42.8V541M634.34 42.8V541M641.51 42.8V541M648.68 42.8V541M655.85 42.8V541M663.02 42.8V541M670.19 42.8V541M677.36 42.8V541M684.53 42.8V541M691.69 42.8V541M698.86 42.8V541M706.03 42.8V541M713.2 42.8V541M720.37 42.8V541M727.54 42.8V541M734.71 42.8V541M741.88 42.8V541M749.05 42.8V541M756.22 42.8V541M763.39 42.8V541M770.56 42.8V541M777.73 42.8V541M784.9 42.8V541M792.07 42.8V541M799.24 42.8V541M806.41 42.8V541M813.58 42.8V541M820.75 42.8V541M827.92 42.8V541M835.08 42.8V541M111 42.56H835M111 47.5H835M111 52.44H835M111 57.38H835M111 62.32H835M111 67.26H835M111 72.19H835M111 77.13H835M111 82.07H835M111 87.01H835M111 91.95H835M111 96.89H835M111 101.83H835M111 106.77H835M111 111.71H835M111 116.65H835M111 121.58H835M111 126.52H835M111 131.46H835M111 136.4H835M111 141.34H835M111 146.28H835M111 151.22H835M111 156.16H835M111 161.1H835M111 166.04H835M111 170.97H835M111 175.91H835M111 180.85H835M111 185.79H835M111 190.73H835M111 195.67H835M111 200.61H835M111 205.55H835M111 210.49H835M111 215.43H835M111 220.36H835M111 225.3H835M111 230.24H835M111 235.18H835M111 240.12H835M111 245.06H835M111 250H835M111 254.94H835M111 259.88H835M111 264.82H835M111 269.75H835M111 274.69H835M111 279.63H835M111 284.57H835M111 289.51H835M111 294.45H835M111 299.39H835M111 304.33H835M111 309.27H835M111 314.21H835M111 319.14H835M111 324.08H835M111 329.02H835M111 333.96H835M111 338.9H835M111 343.84H835M111 348.78H835M111 353.72H835M111 358.66H835M111 363.6H835M111 368.53H835M111 373.47H835M111 378.41H835M111 383.35H835M111 388.29H835M111 393.23H835M111 398.17H835M111 403.11H835M111 408.05H835M111 412.99H835M111 417.92H835M111 422.86H835M111 427.8H835M111 432.74H835M111 437.68H835M111 442.62H835M111 447.56H835M111 452.5H835M111 457.44H835M111 462.38H835M111 467.31H835M111 472.25H835M111 477.19H835M111 482.13H835M111 487.07H835M111 492.01H835M111 496.95H835M111 501.89H835M111 506.83H835M111 511.77H835M111 516.7H835M111 521.64H835M111 526.58H835M111 531.52H835M111 536.46H835M111 541.4H835" stroke="#fff" stroke-width="0.55" fill="none"/>
<path d="M688.4 85.7V264.7" stroke="#ff0000" stroke-opacity="0.095" stroke-width="5.2" fill="none"/>
<rect x="674.1" y="71.6" width="28.7" height="28.4" rx="6.8" ry="6.8" fill="#ff0000" fill-opacity="0.055" stroke="#1a1a1a" stroke-width="1"/>
<rect x="674.1" y="106.6" width="28.7" height="28.4" rx="6.8" ry="6.8" fill="#ff0000" fill-opacity="0.055" stroke="#1a1a1a" stroke-width="1"/>
<rect x="674.1" y="250.6" width="28.7" height="28.4" rx="6.8" ry="6.8" fill="#ff0000" fill-opacity="0.055" stroke="#1a1a1a" stroke-width="1"/>
<circle cx="688.4" cy="86.1" r="1.25" fill="#ff4355"/>
<circle cx="688.4" cy="121.1" r="1.25" fill="#ff4355"/>
<circle cx="688.4" cy="265.1" r="1.25" fill="#ff4355"/>
<rect x="604.2" y="77.8" width="41.8" height="18.6" fill="#fff"/><path d="M604.2 96.4H645.7L649.1 92.5H666.9" stroke="#5c5c5c" stroke-width="0.6" fill="none"/><text x="608.8" y="88.7" font-size="10.4" font-weight="bold" fill="#000">20 y.o.</text>
<rect x="604.2" y="129.5" width="41.8" height="20.4" fill="#fff"/><path d="M604.2 129.5H666.9" stroke="#5c5c5c" stroke-width="0.6" fill="none"/><text x="608.8" y="142" font-size="10.4" font-weight="bold" fill="#000">30 y.o.</text>
<rect x="604.2" y="255.2" width="41.8" height="20.2" fill="#fff"/><path d="M604.2 275.4H645.7L649.1 271.3H666.9" stroke="#5c5c5c" stroke-width="0.6" fill="none"/><text x="608.8" y="267.3" font-size="10.4" font-weight="bold" fill="#000">40 y.o.</text>
</g>
<path d="M108.5 45.03H111M108.5 99.91H111M108.5 154.79H111M108.5 209.66H111M108.5 264.54H111M108.5 319.42H111M108.5 374.3H111M108.5 429.17H111M108.5 484.05H111M108.5 538.93H111M114.55 541V543.4M186.25 541V543.4M257.94 541V543.4M329.63 541V543.4M401.33 541V543.4M473.03 541V543.4M544.72 541V543.4M616.41 541V543.4M688.11 541V543.4M759.8 541V543.4M831.5 541V543.4" stroke="#333" stroke-width="0.8" fill="none"/>
<g font-size="10.7" fill="#4d4d4d"><text x="106.2" y="48.83" text-anchor="end">1 out of 2000</text><text x="106.2" y="103.71" text-anchor="end">2 out of 2000</text><text x="106.2" y="158.59" text-anchor="end">5 out of 2000</text><text x="106.2" y="213.46" text-anchor="end">13 out of 2000</text><text x="106.2" y="268.34" text-anchor="end">29 out of 2000</text><text x="106.2" y="323.22" text-anchor="end">68 out of 2000</text><text x="106.2" y="378.1" text-anchor="end">159 out of 2000</text><text x="106.2" y="432.97" text-anchor="end">369 out of 2000</text><text x="106.2" y="487.85" text-anchor="end">860 out of 2000</text><text x="106.2" y="542.73" text-anchor="end">2000 out of 2000</text><text x="114.55" y="553.6" text-anchor="middle">0%</text><text x="186.25" y="553.6" text-anchor="middle">0.6%</text><text x="257.94" y="553.6" text-anchor="middle">1.2%</text><text x="329.63" y="553.6" text-anchor="middle">1.8%</text><text x="401.33" y="553.6" text-anchor="middle">2.4%</text><text x="473.03" y="553.6" text-anchor="middle">3%</text><text x="544.72" y="553.6" text-anchor="middle">3.6%</text><text x="616.41" y="553.6" text-anchor="middle">4.2%</text><text x="688.11" y="553.6" text-anchor="middle">4.8%</text><text x="759.8" y="553.6" text-anchor="middle">5.4%</text><text x="831.5" y="553.6" text-anchor="middle">6%</text></g>
<text x="111" y="35.3" font-size="13.15" fill="#000">Prenatal screening for Down Syndrome by Age</text>
<text x="473" y="574.6" font-size="13.4" fill="#000" text-anchor="middle">False + (1 - Specificity)</text>
<text transform="translate(14.3,291.6) rotate(-90)" font-size="12.9" fill="#000" text-anchor="middle">Prevalence</text>
<text x="834.6" y="592.6" font-size="13.35" fill="#bdbdbd" text-anchor="end">Sensitivity = 81%</text>
<rect x="759" y="45" width="65.5" height="144.5" fill="#fff"/>
<defs><linearGradient id="lg" x1="0" y1="0" x2="0" y2="1"><stop offset="0" stop-color="#458b00"/><stop offset="0.03" stop-color="#4e9106"/><stop offset="0.05" stop-color="#56980c"/><stop offset="0.07" stop-color="#5f9e12"/><stop offset="0.1" stop-color="#67a517"/><stop offset="0.12" stop-color="#70ac1c"/><stop offset="0.15" stop-color="#78b220"/><stop offset="0.17" stop-color="#81b925"/><stop offset="0.2" stop-color="#89c029"/><stop offset="0.23" stop-color="#92c62e"/><stop offset="0.25" stop-color="#9acd32"/><stop offset="0.28" stop-color="#8ab62f"/><stop offset="0.3" stop-color="#7aa02c"/><stop offset="0.33" stop-color="#6a8b28"/><stop offset="0.35" stop-color="#5b7624"/><stop offset="0.38" stop-color="#4c6120"/><stop offset="0.4" stop-color="#3e4e1c"/><stop offset="0.42" stop-color="#303b18"/><stop offset="0.45" stop-color="#222913"/><stop offset="0.47" stop-color="#16180b"/><stop offset="0.5" stop-color="#000000"/><stop offset="0.53" stop-color="#171717"/><stop offset="0.55" stop-color="#262626"/><stop offset="0.57" stop-color="#373737"/><stop offset="0.6" stop-color="#484848"/><stop offset="0.62" stop-color="#5b5b5b"/><stop offset="0.65" stop-color="#6d6d6d"/><stop offset="0.68" stop-color="#818181"/><stop offset="0.7" stop-color="#959595"/><stop offset="0.72" stop-color="#a9a9a9"/><stop offset="0.75" stop-color="#bebebe"/><stop offset="0.78" stop-color="#c4c4c4"/><stop offset="0.8" stop-color="#cbcbcb"/><stop offset="0.82" stop-color="#d1d1d1"/><stop offset="0.85" stop-color="#d8d8d8"/><stop offset="0.88" stop-color="#dedede"/><stop offset="0.9" stop-color="#e5e5e5"/><stop offset="0.93" stop-color="#ebebeb"/><stop offset="0.95" stop-color="#f2f2f2"/><stop offset="0.97" stop-color="#f8f8f8"/><stop offset="1" stop-color="#ffffff"/></linearGradient></defs>
<rect x="763.5" y="110" width="14.4" height="72" fill="url(#lg)"/>
<g font-size="13.05" fill="#000"><text x="763.5" y="60.1">Positive</text><text x="763.5" y="74.8">Predictive</text><text x="763.5" y="89">Value (%)</text></g>
<g font-size="10.6" fill="#000"><text x="782.9" y="114">100</text><text x="782.9" y="132.3">75</text><text x="782.9" y="150.1">50</text><text x="782.9" y="167.9">25</text><text x="782.9" y="185.7">0</text></g>
</svg>
</body></html>
